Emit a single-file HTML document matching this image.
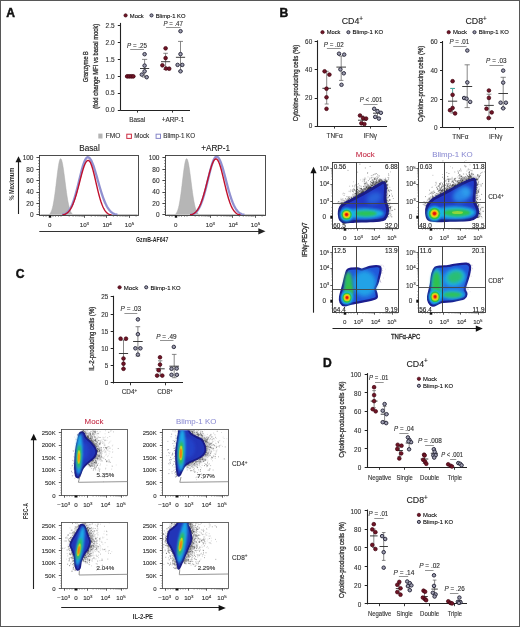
<!DOCTYPE html>
<html><head><meta charset="utf-8"><style>
html,body{margin:0;padding:0;background:#fff;}
svg{display:block;font-family:"Liberation Sans", sans-serif;will-change:transform;}
</style></head><body>
<svg width="520" height="627" viewBox="0 0 520 627">
<defs>
<filter id="b03" x="-20%" y="-20%" width="140%" height="140%"><feGaussianBlur stdDeviation="0.3"/></filter>
<filter id="b06" x="-20%" y="-20%" width="140%" height="140%"><feGaussianBlur stdDeviation="0.6"/></filter>
<filter id="b1" x="-30%" y="-30%" width="160%" height="160%"><feGaussianBlur stdDeviation="1"/></filter>
<filter id="b15" x="-30%" y="-30%" width="160%" height="160%"><feGaussianBlur stdDeviation="1.5"/></filter>
<filter id="b2" x="-40%" y="-40%" width="180%" height="180%"><feGaussianBlur stdDeviation="2"/></filter>
<filter id="b3" x="-50%" y="-50%" width="200%" height="200%"><feGaussianBlur stdDeviation="3"/></filter>
</defs>
<rect width="520" height="627" fill="#fff"/>
<rect x="0.5" y="0.5" width="519" height="626" fill="none" stroke="#575757" stroke-width="1"/><text x="6.3" y="16.6" font-size="12.1" fill="#111" font-weight="bold" stroke="#111" stroke-width="0.45">A</text><text x="279.6" y="16.5" font-size="12.1" fill="#111" font-weight="bold" stroke="#111" stroke-width="0.45">B</text><text x="15.8" y="278.4" font-size="12.1" fill="#111" font-weight="bold" stroke="#111" stroke-width="0.45">C</text><text x="323.0" y="366.8" font-size="12.1" fill="#111" font-weight="bold" stroke="#111" stroke-width="0.45">D</text><circle cx="125.6" cy="15.4" r="1.65" fill="#701526" stroke="#400612" stroke-width="0.7"/><text x="129.79999999999998" y="17.6" font-size="6.2" stroke="#262626" stroke-width="0.12" textLength="14" lengthAdjust="spacingAndGlyphs" >Mock</text><circle cx="151.5" cy="15.4" r="1.55" fill="#9e9eb0" stroke="#2e2e40" stroke-width="1.0"/><text x="155.7" y="17.6" font-size="6.2" stroke="#262626" stroke-width="0.12" textLength="29.8" lengthAdjust="spacingAndGlyphs" >Blimp-1 KO</text><line x1="120.5" y1="22.9" x2="120.5" y2="110.7" stroke="#222" stroke-width="1.1" /><line x1="117.80000000000001" y1="25.5" x2="120.4" y2="25.5" stroke="#222" stroke-width="1.0" /><text x="114.6" y="27.8" font-size="6.5" text-anchor="end" fill="#333" stroke="#333" stroke-width="0.12" >2.5</text><line x1="117.80000000000001" y1="42.5" x2="120.4" y2="42.5" stroke="#222" stroke-width="1.0" /><text x="114.6" y="44.699999999999996" font-size="6.5" text-anchor="end" fill="#333" stroke="#333" stroke-width="0.12" >2.0</text><line x1="117.80000000000001" y1="59.5" x2="120.4" y2="59.5" stroke="#222" stroke-width="1.0" /><text x="114.6" y="61.5" font-size="6.5" text-anchor="end" fill="#333" stroke="#333" stroke-width="0.12" >1.5</text><line x1="117.80000000000001" y1="76.5" x2="120.4" y2="76.5" stroke="#222" stroke-width="1.0" /><text x="114.6" y="78.6" font-size="6.5" text-anchor="end" fill="#333" stroke="#333" stroke-width="0.12" >1.0</text><line x1="117.80000000000001" y1="93.5" x2="120.4" y2="93.5" stroke="#222" stroke-width="1.0" /><text x="114.6" y="95.39999999999999" font-size="6.5" text-anchor="end" fill="#333" stroke="#333" stroke-width="0.12" >0.5</text><line x1="117.80000000000001" y1="110.5" x2="120.4" y2="110.5" stroke="#222" stroke-width="1.0" /><text x="114.6" y="112.39999999999999" font-size="6.5" text-anchor="end" fill="#333" stroke="#333" stroke-width="0.12" >0.0</text><line x1="120.4" y1="110.5" x2="190" y2="110.5" stroke="#222" stroke-width="1.1" /><line x1="137.5" y1="110.2" x2="137.5" y2="112.6" stroke="#222" stroke-width="0.9" /><line x1="172.5" y1="110.2" x2="172.5" y2="112.6" stroke="#222" stroke-width="0.9" /><text x="137.2" y="122" font-size="6.4" text-anchor="middle" fill="#333" stroke="#333" stroke-width="0.12" >Basal</text><text x="173" y="122" font-size="6.4" text-anchor="middle" fill="#333" stroke="#333" stroke-width="0.12" >+ARP-1</text><text transform="translate(88.4,66.7) rotate(-90)" font-size="7.0" text-anchor="middle" fill="#333" stroke="#333" stroke-width="0.3" textLength="31" lengthAdjust="spacingAndGlyphs" >Granzyme B</text><text transform="translate(98.1,66.3) rotate(-90)" font-size="7.0" text-anchor="middle" fill="#333" stroke="#333" stroke-width="0.3" textLength="85" lengthAdjust="spacingAndGlyphs" >(fold change MFI vs basal mock)</text><line x1="127" y1="76.5" x2="133.5" y2="76.5" stroke="#701526" stroke-width="3.4" stroke-linecap="round"/><circle cx="127.2" cy="76.3" r="1.85" fill="#701526" stroke="#400612" stroke-width="0.7"/><circle cx="129.3" cy="76.3" r="1.85" fill="#701526" stroke="#400612" stroke-width="0.7"/><circle cx="131.4" cy="76.3" r="1.85" fill="#701526" stroke="#400612" stroke-width="0.7"/><circle cx="133.3" cy="76.3" r="1.85" fill="#701526" stroke="#400612" stroke-width="0.7"/><path d="M144.6,59.4V77.0M142.0,59.4H147.2M142.0,77.0H147.2" stroke="#606060" stroke-width="0.75" fill="none"/><path d="M140.0,68.5H149.2" stroke="#333" stroke-width="0.95" fill="none"/><circle cx="144.6" cy="54.2" r="1.75" fill="#9e9eb0" stroke="#2e2e40" stroke-width="1.0"/><circle cx="144.6" cy="65.6" r="1.75" fill="#9e9eb0" stroke="#2e2e40" stroke-width="1.0"/><circle cx="144.6" cy="71.3" r="1.75" fill="#9e9eb0" stroke="#2e2e40" stroke-width="1.0"/><circle cx="141.8" cy="74.6" r="1.75" fill="#9e9eb0" stroke="#2e2e40" stroke-width="1.0"/><circle cx="146.7" cy="77.2" r="1.75" fill="#9e9eb0" stroke="#2e2e40" stroke-width="1.0"/><path d="M165.6,53.3V69.5M163.29999999999998,53.3H167.9M163.29999999999998,69.5H167.9" stroke="#606060" stroke-width="0.75" fill="none"/><path d="M161.0,61.7H170.2" stroke="#333" stroke-width="0.95" fill="none"/><circle cx="165.6" cy="48.3" r="1.85" fill="#701526" stroke="#400612" stroke-width="0.7"/><circle cx="165.6" cy="58.1" r="1.85" fill="#701526" stroke="#400612" stroke-width="0.7"/><circle cx="162.4" cy="65.3" r="1.85" fill="#701526" stroke="#400612" stroke-width="0.7"/><circle cx="166" cy="68.5" r="1.85" fill="#701526" stroke="#400612" stroke-width="0.7"/><circle cx="169.2" cy="68.7" r="1.85" fill="#701526" stroke="#400612" stroke-width="0.7"/><path d="M180.5,41.4V71.3M178.0,41.4H183.0M178.0,71.3H183.0" stroke="#606060" stroke-width="0.75" fill="none"/><path d="M175.9,57.3H185.1" stroke="#333" stroke-width="0.95" fill="none"/><circle cx="180.5" cy="31.2" r="1.75" fill="#9e9eb0" stroke="#2e2e40" stroke-width="1.0"/><circle cx="180.5" cy="54.1" r="1.75" fill="#9e9eb0" stroke="#2e2e40" stroke-width="1.0"/><circle cx="177.6" cy="64.9" r="1.75" fill="#9e9eb0" stroke="#2e2e40" stroke-width="1.0"/><circle cx="182.3" cy="64.9" r="1.75" fill="#9e9eb0" stroke="#2e2e40" stroke-width="1.0"/><circle cx="180.5" cy="71.3" r="1.75" fill="#9e9eb0" stroke="#2e2e40" stroke-width="1.0"/><text x="127" y="48.3" font-size="6.6" fill="#2e2e2e" stroke="#2e2e2e" stroke-width="0.12" textLength="19.9" lengthAdjust="spacingAndGlyphs"><tspan font-style="italic">P</tspan> = .25</text><line x1="130.2" y1="49.5" x2="144" y2="49.5" stroke="#777" stroke-width="0.8" /><text x="163.4" y="25.7" font-size="6.6" fill="#2e2e2e" stroke="#2e2e2e" stroke-width="0.12" textLength="19.5" lengthAdjust="spacingAndGlyphs"><tspan font-style="italic">P</tspan> = .47</text><line x1="166" y1="27.5" x2="180.5" y2="27.5" stroke="#777" stroke-width="0.8" /><text x="341.7" y="23.9" font-size="8.8" fill="#222" stroke="#222" stroke-width="0.12" >CD4<tspan font-size="6.34" dy="-3.17">+</tspan></text><text x="465.5" y="23.9" font-size="8.8" fill="#222" stroke="#222" stroke-width="0.12" >CD8<tspan font-size="6.34" dy="-3.17">+</tspan></text><circle cx="322.5" cy="32.2" r="1.65" fill="#701526" stroke="#400612" stroke-width="0.7"/><text x="326.7" y="34.400000000000006" font-size="6.2" stroke="#262626" stroke-width="0.12" textLength="13.8" lengthAdjust="spacingAndGlyphs" >Mock</text><circle cx="348.4" cy="32.2" r="1.55" fill="#9e9eb0" stroke="#2e2e40" stroke-width="1.0"/><text x="352.59999999999997" y="34.400000000000006" font-size="6.2" stroke="#262626" stroke-width="0.12" textLength="30.6" lengthAdjust="spacingAndGlyphs" >Blimp-1 KO</text><circle cx="448.7" cy="32.2" r="1.65" fill="#701526" stroke="#400612" stroke-width="0.7"/><text x="452.9" y="34.400000000000006" font-size="6.2" stroke="#262626" stroke-width="0.12" textLength="14.2" lengthAdjust="spacingAndGlyphs" >Mock</text><circle cx="474.5" cy="32.2" r="1.55" fill="#9e9eb0" stroke="#2e2e40" stroke-width="1.0"/><text x="478.7" y="34.400000000000006" font-size="6.2" stroke="#262626" stroke-width="0.12" textLength="30.1" lengthAdjust="spacingAndGlyphs" >Blimp-1 KO</text><line x1="317.5" y1="40.3" x2="317.5" y2="126.8" stroke="#222" stroke-width="1.1" /><line x1="314.7" y1="41.5" x2="317.3" y2="41.5" stroke="#222" stroke-width="1.0" /><text x="312.2" y="43.699999999999996" font-size="6.4" text-anchor="end" fill="#333" stroke="#333" stroke-width="0.12" >60</text><line x1="314.7" y1="69.5" x2="317.3" y2="69.5" stroke="#222" stroke-width="1.0" /><text x="312.2" y="71.89999999999999" font-size="6.4" text-anchor="end" fill="#333" stroke="#333" stroke-width="0.12" >40</text><line x1="314.7" y1="98.5" x2="317.3" y2="98.5" stroke="#222" stroke-width="1.0" /><text x="312.2" y="100.3" font-size="6.4" text-anchor="end" fill="#333" stroke="#333" stroke-width="0.12" >20</text><line x1="314.7" y1="126.5" x2="317.3" y2="126.5" stroke="#222" stroke-width="1.0" /><text x="312.2" y="128.3" font-size="6.4" text-anchor="end" fill="#333" stroke="#333" stroke-width="0.12" >0</text><line x1="317.3" y1="126.5" x2="387" y2="126.5" stroke="#222" stroke-width="1.1" /><line x1="334.5" y1="126.3" x2="334.5" y2="128.6" stroke="#222" stroke-width="0.9" /><line x1="370.5" y1="126.3" x2="370.5" y2="128.6" stroke="#222" stroke-width="0.9" /><text x="334.6" y="137.8" font-size="6.4" text-anchor="middle" fill="#333" stroke="#333" stroke-width="0.12" >TNF&#945;</text><text x="370.3" y="137.8" font-size="6.4" text-anchor="middle" fill="#333" stroke="#333" stroke-width="0.12" >IFN&#947;</text><text transform="translate(298.4,82.9) rotate(-90)" font-size="7.0" text-anchor="middle" fill="#333" stroke="#333" stroke-width="0.3" textLength="76.5" lengthAdjust="spacingAndGlyphs" >Cytokine-producing cells (%)</text><path d="M326.7,71.3V104M324.7,71.3H328.7M324.7,104H328.7" stroke="#606060" stroke-width="0.75" fill="none"/><path d="M322.4,88.3H331.0" stroke="#333" stroke-width="0.95" fill="none"/><circle cx="324.6" cy="71.3" r="1.85" fill="#701526" stroke="#400612" stroke-width="0.7"/><circle cx="329.4" cy="74.6" r="1.85" fill="#701526" stroke="#400612" stroke-width="0.7"/><circle cx="326.5" cy="88.7" r="1.85" fill="#701526" stroke="#400612" stroke-width="0.7"/><circle cx="326.5" cy="97.3" r="1.85" fill="#701526" stroke="#400612" stroke-width="0.7"/><circle cx="326.5" cy="108.8" r="1.85" fill="#701526" stroke="#400612" stroke-width="0.7"/><path d="M341.2,56V80.4M339.0,56H343.4M339.0,80.4H343.4" stroke="#606060" stroke-width="0.75" fill="none"/><path d="M336.4,67.1H346.0" stroke="#333" stroke-width="0.95" fill="none"/><circle cx="339" cy="53.7" r="1.75" fill="#9e9eb0" stroke="#2e2e40" stroke-width="1.0"/><circle cx="344.2" cy="54.6" r="1.75" fill="#9e9eb0" stroke="#2e2e40" stroke-width="1.0"/><circle cx="340.4" cy="69.4" r="1.75" fill="#9e9eb0" stroke="#2e2e40" stroke-width="1.0"/><circle cx="343.8" cy="73.3" r="1.75" fill="#9e9eb0" stroke="#2e2e40" stroke-width="1.0"/><circle cx="341.5" cy="84.8" r="1.75" fill="#9e9eb0" stroke="#2e2e40" stroke-width="1.0"/><path d="M362.5,116V124M361.0,116H364.0M361.0,124H364.0" stroke="#606060" stroke-width="0.75" fill="none"/><path d="M358.0,120.2H367.0" stroke="#333" stroke-width="0.95" fill="none"/><circle cx="360" cy="115.5" r="1.85" fill="#701526" stroke="#400612" stroke-width="0.7"/><circle cx="363.1" cy="118.2" r="1.85" fill="#701526" stroke="#400612" stroke-width="0.7"/><circle cx="366.1" cy="118.6" r="1.85" fill="#701526" stroke="#400612" stroke-width="0.7"/><circle cx="361.4" cy="123.3" r="1.85" fill="#701526" stroke="#400612" stroke-width="0.7"/><circle cx="364.4" cy="124" r="1.85" fill="#701526" stroke="#400612" stroke-width="0.7"/><path d="M377.5,109.5V117.5M376.0,109.5H379.0M376.0,117.5H379.0" stroke="#606060" stroke-width="0.75" fill="none"/><path d="M373.0,113.2H382.0" stroke="#333" stroke-width="0.95" fill="none"/><circle cx="374.2" cy="108.8" r="1.75" fill="#9e9eb0" stroke="#2e2e40" stroke-width="1.0"/><circle cx="377.5" cy="111.2" r="1.75" fill="#9e9eb0" stroke="#2e2e40" stroke-width="1.0"/><circle cx="380.9" cy="112.8" r="1.75" fill="#9e9eb0" stroke="#2e2e40" stroke-width="1.0"/><circle cx="375.2" cy="116.9" r="1.75" fill="#9e9eb0" stroke="#2e2e40" stroke-width="1.0"/><circle cx="378.9" cy="118.6" r="1.75" fill="#9e9eb0" stroke="#2e2e40" stroke-width="1.0"/><text x="323.8" y="46.7" font-size="6.6" fill="#2e2e2e" stroke="#2e2e2e" stroke-width="0.12" textLength="19.9" lengthAdjust="spacingAndGlyphs"><tspan font-style="italic">P</tspan> = .02</text><line x1="326.9" y1="48.5" x2="340.8" y2="48.5" stroke="#777" stroke-width="0.8" /><text x="359.7" y="101.7" font-size="6.6" fill="#2e2e2e" stroke="#2e2e2e" stroke-width="0.12" textLength="22.6" lengthAdjust="spacingAndGlyphs"><tspan font-style="italic">P</tspan> &lt; .001</text><line x1="363.4" y1="104.5" x2="377.5" y2="104.5" stroke="#777" stroke-width="0.8" /><line x1="442.5" y1="41.0" x2="442.5" y2="127.8" stroke="#222" stroke-width="1.1" /><line x1="440.0" y1="42.5" x2="442.6" y2="42.5" stroke="#222" stroke-width="1.0" /><text x="437.5" y="44.3" font-size="6.4" text-anchor="end" fill="#333" stroke="#333" stroke-width="0.12" >60</text><line x1="440.0" y1="70.5" x2="442.6" y2="70.5" stroke="#222" stroke-width="1.0" /><text x="437.5" y="72.89999999999999" font-size="6.4" text-anchor="end" fill="#333" stroke="#333" stroke-width="0.12" >40</text><line x1="440.0" y1="99.5" x2="442.6" y2="99.5" stroke="#222" stroke-width="1.0" /><text x="437.5" y="101.5" font-size="6.4" text-anchor="end" fill="#333" stroke="#333" stroke-width="0.12" >20</text><line x1="440.0" y1="127.5" x2="442.6" y2="127.5" stroke="#222" stroke-width="1.0" /><text x="437.5" y="129.5" font-size="6.4" text-anchor="end" fill="#333" stroke="#333" stroke-width="0.12" >0</text><line x1="442.6" y1="127.5" x2="514" y2="127.5" stroke="#222" stroke-width="1.1" /><line x1="459.5" y1="127.3" x2="459.5" y2="129.6" stroke="#222" stroke-width="0.9" /><line x1="495.5" y1="127.3" x2="495.5" y2="129.6" stroke="#222" stroke-width="0.9" /><text x="460.3" y="139.0" font-size="6.4" text-anchor="middle" fill="#333" stroke="#333" stroke-width="0.12" >TNF&#945;</text><text x="495.7" y="139.0" font-size="6.4" text-anchor="middle" fill="#333" stroke="#333" stroke-width="0.12" >IFN&#947;</text><text transform="translate(423.4,83.8) rotate(-90)" font-size="7.0" text-anchor="middle" fill="#333" stroke="#333" stroke-width="0.3" textLength="76.1" lengthAdjust="spacingAndGlyphs" >Cytokine-producing cells (%)</text><path d="M452.6,88.4V113M450.40000000000003,88.4H454.8M450.40000000000003,113H454.8" stroke="#606060" stroke-width="0.75" fill="none"/><path d="M448.0,101.2H457.20000000000005" stroke="#333" stroke-width="0.95" fill="none"/><line x1="450.4" y1="88.5" x2="454.8" y2="88.5" stroke="#3aa8a0" stroke-width="1.0" /><line x1="452.5" y1="88.4" x2="452.5" y2="93" stroke="#5ab0a8" stroke-width="0.8" /><circle cx="452.6" cy="81.2" r="1.85" fill="#701526" stroke="#400612" stroke-width="0.7"/><circle cx="452.6" cy="94.8" r="1.85" fill="#701526" stroke="#400612" stroke-width="0.7"/><circle cx="452.6" cy="108" r="1.85" fill="#701526" stroke="#400612" stroke-width="0.7"/><circle cx="450" cy="110.2" r="1.85" fill="#701526" stroke="#400612" stroke-width="0.7"/><circle cx="455.1" cy="113.4" r="1.85" fill="#701526" stroke="#400612" stroke-width="0.7"/><path d="M467.2,64.8V107.6M464.59999999999997,64.8H469.8M464.59999999999997,107.6H469.8" stroke="#606060" stroke-width="0.75" fill="none"/><path d="M462.2,86.5H472.2" stroke="#333" stroke-width="0.95" fill="none"/><circle cx="467.3" cy="50.5" r="1.75" fill="#9e9eb0" stroke="#2e2e40" stroke-width="1.0"/><circle cx="467.3" cy="82.4" r="1.75" fill="#9e9eb0" stroke="#2e2e40" stroke-width="1.0"/><circle cx="464.1" cy="98" r="1.75" fill="#9e9eb0" stroke="#2e2e40" stroke-width="1.0"/><circle cx="466.6" cy="98.7" r="1.75" fill="#9e9eb0" stroke="#2e2e40" stroke-width="1.0"/><circle cx="470.2" cy="101.9" r="1.75" fill="#9e9eb0" stroke="#2e2e40" stroke-width="1.0"/><path d="M489.0,94.2V118M486.6,94.2H491.4M486.6,118H491.4" stroke="#606060" stroke-width="0.75" fill="none"/><path d="M484.2,105.4H493.8" stroke="#333" stroke-width="0.95" fill="none"/><circle cx="488.9" cy="90.5" r="1.85" fill="#701526" stroke="#400612" stroke-width="0.7"/><circle cx="488.9" cy="97.9" r="1.85" fill="#701526" stroke="#400612" stroke-width="0.7"/><circle cx="486.5" cy="108.7" r="1.85" fill="#701526" stroke="#400612" stroke-width="0.7"/><circle cx="491.7" cy="112.4" r="1.85" fill="#701526" stroke="#400612" stroke-width="0.7"/><circle cx="488.7" cy="118" r="1.85" fill="#701526" stroke="#400612" stroke-width="0.7"/><path d="M503.2,77.3V108.3M500.59999999999997,77.3H505.8M500.59999999999997,108.3H505.8" stroke="#606060" stroke-width="0.75" fill="none"/><path d="M498.4,93.5H508.0" stroke="#333" stroke-width="0.95" fill="none"/><circle cx="503.2" cy="70.6" r="1.75" fill="#9e9eb0" stroke="#2e2e40" stroke-width="1.0"/><circle cx="503.2" cy="82.6" r="1.75" fill="#9e9eb0" stroke="#2e2e40" stroke-width="1.0"/><circle cx="500.6" cy="102.7" r="1.75" fill="#9e9eb0" stroke="#2e2e40" stroke-width="1.0"/><circle cx="505.9" cy="102.7" r="1.75" fill="#9e9eb0" stroke="#2e2e40" stroke-width="1.0"/><circle cx="503.2" cy="108.3" r="1.75" fill="#9e9eb0" stroke="#2e2e40" stroke-width="1.0"/><text x="449.4" y="43.7" font-size="6.6" fill="#2e2e2e" stroke="#2e2e2e" stroke-width="0.12" textLength="19.8" lengthAdjust="spacingAndGlyphs"><tspan font-style="italic">P</tspan> = .01</text><line x1="453.2" y1="46.5" x2="466.6" y2="46.5" stroke="#777" stroke-width="0.8" /><text x="486.1" y="63.4" font-size="6.6" fill="#2e2e2e" stroke="#2e2e2e" stroke-width="0.12" textLength="20.4" lengthAdjust="spacingAndGlyphs"><tspan font-style="italic">P</tspan> = .03</text><line x1="489.5" y1="65.5" x2="503.4" y2="65.5" stroke="#777" stroke-width="0.8" /><path d="M40.50,214.60 L41.00,214.60 L41.50,214.60 L42.00,214.60 L42.50,214.60 L43.00,214.60 L43.50,214.60 L44.00,214.60 L44.50,214.60 L45.00,214.60 L45.50,214.60 L46.00,214.60 L46.50,214.60 L47.00,214.60 L47.50,214.60 L48.00,214.60 L48.50,214.60 L49.00,214.60 L49.50,214.28 L50.00,213.72 L50.50,213.00 L51.00,212.06 L51.50,210.88 L52.00,209.42 L52.50,207.63 L53.00,205.50 L53.50,203.00 L54.00,200.12 L54.50,196.87 L55.00,193.28 L55.50,189.40 L56.00,185.32 L56.50,181.12 L57.00,176.91 L57.50,172.85 L58.00,169.05 L58.50,165.67 L59.00,162.84 L59.50,160.67 L60.00,159.26 L60.50,158.67 L61.00,158.89 L61.50,159.83 L62.00,161.47 L62.50,163.73 L63.00,166.54 L63.50,169.80 L64.00,173.39 L64.50,177.20 L65.00,181.12 L65.50,185.03 L66.00,188.86 L66.50,192.51 L67.00,195.92 L67.50,199.05 L68.00,201.86 L68.50,204.35 L69.00,206.51 L69.50,208.36 L70.00,209.91 L70.50,211.20 L71.00,212.25 L71.50,213.09 L72.00,213.75 L72.50,214.27 L73.00,214.60 L73.50,214.60 L74.00,214.60 L74.50,214.60 L75.00,214.60 L75.50,214.60 L76.00,214.60 L76.50,214.60 L77.00,214.60 L77.50,214.60 L78.00,214.60 L78.50,214.60 L79.00,214.60 L79.50,214.60 L80.00,214.60 L80.50,214.60 L81.00,214.60 L81.50,214.60 L82.00,214.60 L82.50,214.60 L83.00,214.60 L83.50,214.60 L84.00,214.60 L84.50,214.60 L85.00,214.60 L85.50,214.60 L86.00,214.60 L86.50,214.60 L87.00,214.60 L87.50,214.60 L88.00,214.60 L88.50,214.60 L89.00,214.60 L89.50,214.60 L90.00,214.60 L90.50,214.60 L91.00,214.60 L91.50,214.60 L92.00,214.60 L92.50,214.60 L93.00,214.60 L93.50,214.60 L94.00,214.60 L94.50,214.60 L95.00,214.60 L95.50,214.60 L96.00,214.60 L96.50,214.60 L97.00,214.60 L97.50,214.60 L98.00,214.60 L98.50,214.60 L99.00,214.60 L99.50,214.60 L100.00,214.60 L100.50,214.60 L101.00,214.60 L101.50,214.60 L102.00,214.60 L102.50,214.60 L103.00,214.60 L103.50,214.60 L104.00,214.60 L104.50,214.60 L105.00,214.60 L105.50,214.60 L106.00,214.60 L106.50,214.60 L107.00,214.60 L107.50,214.60 L108.00,214.60 L108.50,214.60 L109.00,214.60 L109.50,214.60 L110.00,214.60 L110.50,214.60 L111.00,214.60 L111.50,214.60 L112.00,214.60 L112.50,214.60 L113.00,214.60 L113.50,214.60 L114.00,214.60 L114.50,214.60 L115.00,214.60 L115.50,214.60 L116.00,214.60 L116.50,214.60 L117.00,214.60 L117.50,214.60 L118.00,214.60 L118.50,214.60 L119.00,214.60 L119.50,214.60 L120.00,214.60 L120.50,214.60 L121.00,214.60 L121.50,214.60 L122.00,214.60 L122.50,214.60 L123.00,214.60 L123.50,214.60 L124.00,214.60 L124.50,214.60 L125.00,214.60 L125.50,214.60 L126.00,214.60 L126.50,214.60 L127.00,214.60 L127.50,214.60 L128.00,214.60 L128.50,214.60 L129.00,214.60 L129.50,214.60 L130.00,214.60 L130.50,214.60 L131.00,214.60 L131.50,214.60 L132.00,214.60 L132.50,214.60 L133.00,214.60 L133.50,214.60 L134.00,214.60 L134.50,214.60 L135.00,214.60 L135.50,214.60 L136.00,214.60 L136.50,214.60 L137.00,214.60 L137.50,214.60 L137.50,214.6 L40.50,214.6 Z" fill="#b6b6b6" stroke="#a8a8a8" stroke-width="0.5"/><path d="M62.00,214.60 L64.00,214.50 L64.50,214.28 L65.00,214.03 L65.50,213.74 L66.00,213.41 L66.50,213.05 L67.00,212.63 L67.50,212.16 L68.00,211.64 L68.50,211.05 L69.00,210.40 L69.50,209.69 L70.00,208.90 L70.50,208.03 L71.00,207.09 L71.50,206.06 L72.00,204.94 L72.50,203.74 L73.00,202.46 L73.50,201.08 L74.00,199.62 L74.50,198.07 L75.00,196.43 L75.50,194.72 L76.00,192.93 L76.50,191.08 L77.00,189.16 L77.50,187.20 L78.00,185.19 L78.50,183.15 L79.00,181.09 L79.50,179.03 L80.00,176.97 L80.50,174.94 L81.00,172.95 L81.50,171.01 L82.00,169.14 L82.50,167.36 L83.00,165.68 L83.50,164.11 L84.00,162.68 L84.50,161.39 L85.00,160.25 L85.50,159.29 L86.00,158.50 L86.50,157.90 L87.00,157.48 L87.50,157.27 L88.00,157.24 L88.50,157.38 L89.00,157.65 L89.50,158.07 L90.00,158.63 L90.50,159.33 L91.00,160.15 L91.50,161.10 L92.00,162.17 L92.50,163.35 L93.00,164.63 L93.50,166.01 L94.00,167.47 L94.50,169.00 L95.00,170.60 L95.50,172.25 L96.00,173.95 L96.50,175.68 L97.00,177.43 L97.50,179.20 L98.00,180.98 L98.50,182.75 L99.00,184.51 L99.50,186.25 L100.00,187.96 L100.50,189.64 L101.00,191.28 L101.50,192.87 L102.00,194.41 L102.50,195.90 L103.00,197.33 L103.50,198.70 L104.00,200.01 L104.50,201.25 L105.00,202.43 L105.50,203.55 L106.00,204.60 L106.50,205.58 L107.00,206.50 L107.50,207.36 L108.00,208.16 L108.50,208.90 L109.00,209.58 L109.50,210.21 L110.00,210.79 L110.50,211.32 L111.00,211.80 L111.50,212.24 L112.00,212.64 L112.50,213.00 L113.00,213.32 L113.50,213.62 L114.00,213.88 L114.50,214.11 L115.00,214.32 L115.50,214.51 L117.50,214.60" fill="none" stroke="#9090d0" stroke-width="2.3" stroke-linejoin="round"/><path d="M62.50,214.60 L64.50,214.47 L65.00,214.25 L65.50,214.01 L66.00,213.73 L66.50,213.41 L67.00,213.06 L67.50,212.65 L68.00,212.20 L68.50,211.69 L69.00,211.13 L69.50,210.50 L70.00,209.81 L70.50,209.05 L71.00,208.22 L71.50,207.31 L72.00,206.32 L72.50,205.25 L73.00,204.10 L73.50,202.86 L74.00,201.55 L74.50,200.14 L75.00,198.66 L75.50,197.10 L76.00,195.47 L76.50,193.77 L77.00,192.00 L77.50,190.18 L78.00,188.31 L78.50,186.41 L79.00,184.47 L79.50,182.53 L80.00,180.57 L80.50,178.63 L81.00,176.72 L81.50,174.84 L82.00,173.02 L82.50,171.27 L83.00,169.60 L83.50,168.03 L84.00,166.58 L84.50,165.25 L85.00,164.06 L85.50,163.02 L86.00,162.14 L86.50,161.43 L87.00,160.89 L87.50,160.54 L88.00,160.37 L88.50,160.40 L89.00,160.65 L89.50,161.14 L90.00,161.85 L90.50,162.77 L91.00,163.90 L91.50,165.21 L92.00,166.70 L92.50,168.35 L93.00,170.13 L93.50,172.03 L94.00,174.03 L94.50,176.10 L95.00,178.23 L95.50,180.39 L96.00,182.57 L96.50,184.75 L97.00,186.90 L97.50,189.02 L98.00,191.08 L98.50,193.08 L99.00,195.01 L99.50,196.85 L100.00,198.60 L100.50,200.25 L101.00,201.81 L101.50,203.25 L102.00,204.60 L102.50,205.84 L103.00,206.98 L103.50,208.02 L104.00,208.96 L104.50,209.82 L105.00,210.59 L105.50,211.27 L106.00,211.88 L106.50,212.42 L107.00,212.90 L107.50,213.31 L108.00,213.68 L108.50,213.99 L109.00,214.27 L109.50,214.50 L111.50,214.60" fill="none" stroke="#c0102c" stroke-width="1.4" stroke-linejoin="round"/><rect x="39.5" y="155.5" width="99" height="60" fill="none" stroke="#3a3a3a" stroke-width="0.9"/><line x1="36.4" y1="214.5" x2="39.5" y2="214.5" stroke="#333" stroke-width="0.9" /><text x="33.5" y="217.20000000000002" font-size="6.5" text-anchor="end" fill="#333" stroke="#333" stroke-width="0.12" >0</text><line x1="38.0" y1="212.04500000000002" x2="39.5" y2="212.04500000000002" stroke="#555" stroke-width="0.6" /><line x1="38.0" y1="209.19" x2="39.5" y2="209.19" stroke="#555" stroke-width="0.6" /><line x1="38.0" y1="206.335" x2="39.5" y2="206.335" stroke="#555" stroke-width="0.6" /><line x1="36.4" y1="203.5" x2="39.5" y2="203.5" stroke="#333" stroke-width="0.9" /><text x="33.5" y="205.78000000000003" font-size="6.5" text-anchor="end" fill="#333" stroke="#333" stroke-width="0.12" >20</text><line x1="38.0" y1="200.62500000000003" x2="39.5" y2="200.62500000000003" stroke="#555" stroke-width="0.6" /><line x1="38.0" y1="197.77" x2="39.5" y2="197.77" stroke="#555" stroke-width="0.6" /><line x1="38.0" y1="194.91500000000002" x2="39.5" y2="194.91500000000002" stroke="#555" stroke-width="0.6" /><line x1="36.4" y1="192.5" x2="39.5" y2="192.5" stroke="#333" stroke-width="0.9" /><text x="33.5" y="194.36" font-size="6.5" text-anchor="end" fill="#333" stroke="#333" stroke-width="0.12" >40</text><line x1="38.0" y1="189.205" x2="39.5" y2="189.205" stroke="#555" stroke-width="0.6" /><line x1="38.0" y1="186.35" x2="39.5" y2="186.35" stroke="#555" stroke-width="0.6" /><line x1="38.0" y1="183.495" x2="39.5" y2="183.495" stroke="#555" stroke-width="0.6" /><line x1="36.4" y1="180.5" x2="39.5" y2="180.5" stroke="#333" stroke-width="0.9" /><text x="33.5" y="182.94000000000003" font-size="6.5" text-anchor="end" fill="#333" stroke="#333" stroke-width="0.12" >60</text><line x1="38.0" y1="177.78500000000003" x2="39.5" y2="177.78500000000003" stroke="#555" stroke-width="0.6" /><line x1="38.0" y1="174.93" x2="39.5" y2="174.93" stroke="#555" stroke-width="0.6" /><line x1="38.0" y1="172.07500000000002" x2="39.5" y2="172.07500000000002" stroke="#555" stroke-width="0.6" /><line x1="36.4" y1="169.5" x2="39.5" y2="169.5" stroke="#333" stroke-width="0.9" /><text x="33.5" y="171.52" font-size="6.5" text-anchor="end" fill="#333" stroke="#333" stroke-width="0.12" >80</text><line x1="38.0" y1="166.365" x2="39.5" y2="166.365" stroke="#555" stroke-width="0.6" /><line x1="38.0" y1="163.51" x2="39.5" y2="163.51" stroke="#555" stroke-width="0.6" /><line x1="38.0" y1="160.655" x2="39.5" y2="160.655" stroke="#555" stroke-width="0.6" /><line x1="36.4" y1="157.5" x2="39.5" y2="157.5" stroke="#333" stroke-width="0.9" /><text x="33.5" y="160.10000000000002" font-size="6.5" text-anchor="end" fill="#333" stroke="#333" stroke-width="0.12" >100</text><rect x="48.8" y="215.5" width="2.4" height="2.2" fill="#111"/><line x1="43.5" y1="215.5" x2="43.5" y2="216.9" stroke="#555" stroke-width="0.6" /><line x1="46.0" y1="215.5" x2="46.0" y2="216.9" stroke="#555" stroke-width="0.6" /><line x1="53.0" y1="215.5" x2="53.0" y2="216.9" stroke="#555" stroke-width="0.6" /><line x1="55.5" y1="215.5" x2="55.5" y2="216.9" stroke="#555" stroke-width="0.6" /><line x1="58.5" y1="215.5" x2="58.5" y2="216.9" stroke="#555" stroke-width="0.6" /><line x1="61.0" y1="215.5" x2="61.0" y2="216.9" stroke="#555" stroke-width="0.6" /><line x1="84.5" y1="215.5" x2="84.5" y2="217.9" stroke="#333" stroke-width="0.8" /><line x1="91.28286590374037" y1="215.5" x2="91.28286590374037" y2="216.8" stroke="#555" stroke-width="0.6" /><line x1="95.19209185477649" y1="215.5" x2="95.19209185477649" y2="216.8" stroke="#555" stroke-width="0.6" /><line x1="97.96573180748076" y1="215.5" x2="97.96573180748076" y2="216.8" stroke="#555" stroke-width="0.6" /><line x1="100.1171340962596" y1="215.5" x2="100.1171340962596" y2="216.8" stroke="#555" stroke-width="0.6" /><line x1="101.87495775851689" y1="215.5" x2="101.87495775851689" y2="216.8" stroke="#555" stroke-width="0.6" /><line x1="103.36117648831649" y1="215.5" x2="103.36117648831649" y2="216.8" stroke="#555" stroke-width="0.6" /><line x1="104.64859771122114" y1="215.5" x2="104.64859771122114" y2="216.8" stroke="#555" stroke-width="0.6" /><line x1="105.784183709553" y1="215.5" x2="105.784183709553" y2="216.8" stroke="#555" stroke-width="0.6" /><line x1="106.5" y1="215.5" x2="106.5" y2="217.9" stroke="#333" stroke-width="0.8" /><line x1="113.38286590374038" y1="215.5" x2="113.38286590374038" y2="216.8" stroke="#555" stroke-width="0.6" /><line x1="117.29209185477652" y1="215.5" x2="117.29209185477652" y2="216.8" stroke="#555" stroke-width="0.6" /><line x1="120.06573180748077" y1="215.5" x2="120.06573180748077" y2="216.8" stroke="#555" stroke-width="0.6" /><line x1="122.21713409625963" y1="215.5" x2="122.21713409625963" y2="216.8" stroke="#555" stroke-width="0.6" /><line x1="123.9749577585169" y1="215.5" x2="123.9749577585169" y2="216.8" stroke="#555" stroke-width="0.6" /><line x1="125.46117648831651" y1="215.5" x2="125.46117648831651" y2="216.8" stroke="#555" stroke-width="0.6" /><line x1="126.74859771122115" y1="215.5" x2="126.74859771122115" y2="216.8" stroke="#555" stroke-width="0.6" /><line x1="127.88418370955301" y1="215.5" x2="127.88418370955301" y2="216.8" stroke="#555" stroke-width="0.6" /><line x1="129.5" y1="215.5" x2="129.5" y2="217.9" stroke="#333" stroke-width="0.8" /><line x1="136.08286590374038" y1="215.5" x2="136.08286590374038" y2="216.8" stroke="#555" stroke-width="0.6" /><line x1="69.18286590374038" y1="215.5" x2="69.18286590374038" y2="216.8" stroke="#555" stroke-width="0.6" /><line x1="73.0920918547765" y1="215.5" x2="73.0920918547765" y2="216.8" stroke="#555" stroke-width="0.6" /><line x1="75.86573180748077" y1="215.5" x2="75.86573180748077" y2="216.8" stroke="#555" stroke-width="0.6" /><line x1="78.01713409625961" y1="215.5" x2="78.01713409625961" y2="216.8" stroke="#555" stroke-width="0.6" /><line x1="79.77495775851689" y1="215.5" x2="79.77495775851689" y2="216.8" stroke="#555" stroke-width="0.6" /><line x1="81.2611764883165" y1="215.5" x2="81.2611764883165" y2="216.8" stroke="#555" stroke-width="0.6" /><line x1="82.54859771122115" y1="215.5" x2="82.54859771122115" y2="216.8" stroke="#555" stroke-width="0.6" /><line x1="83.68418370955301" y1="215.5" x2="83.68418370955301" y2="216.8" stroke="#555" stroke-width="0.6" /><text x="49.8" y="227.3" font-size="6.2" text-anchor="middle" fill="#333" stroke="#333" stroke-width="0.12" >0</text><text x="84.4" y="227.3" font-size="6.2" text-anchor="middle" fill="#333" stroke="#333" stroke-width="0.12" >10<tspan font-size="4.4" dy="-2.5">3</tspan></text><text x="107.1" y="227.3" font-size="6.2" text-anchor="middle" fill="#333" stroke="#333" stroke-width="0.12" >10<tspan font-size="4.4" dy="-2.5">4</tspan></text><text x="129.5" y="227.3" font-size="6.2" text-anchor="middle" fill="#333" stroke="#333" stroke-width="0.12" >10<tspan font-size="4.4" dy="-2.5">5</tspan></text><path d="M166.50,214.60 L167.00,214.60 L167.50,214.60 L168.00,214.60 L168.50,214.60 L169.00,214.60 L169.50,214.60 L170.00,214.60 L170.50,214.60 L171.00,214.60 L171.50,214.60 L172.00,214.60 L172.50,214.60 L173.00,214.60 L173.50,214.60 L174.00,214.60 L174.50,214.60 L175.00,214.60 L175.50,214.28 L176.00,213.72 L176.50,213.00 L177.00,212.06 L177.50,210.88 L178.00,209.42 L178.50,207.63 L179.00,205.50 L179.50,203.00 L180.00,200.12 L180.50,196.87 L181.00,193.28 L181.50,189.40 L182.00,185.32 L182.50,181.12 L183.00,176.91 L183.50,172.85 L184.00,169.05 L184.50,165.67 L185.00,162.84 L185.50,160.67 L186.00,159.26 L186.50,158.67 L187.00,158.89 L187.50,159.83 L188.00,161.47 L188.50,163.73 L189.00,166.54 L189.50,169.80 L190.00,173.39 L190.50,177.20 L191.00,181.12 L191.50,185.03 L192.00,188.86 L192.50,192.51 L193.00,195.92 L193.50,199.05 L194.00,201.86 L194.50,204.35 L195.00,206.51 L195.50,208.36 L196.00,209.91 L196.50,211.20 L197.00,212.25 L197.50,213.09 L198.00,213.75 L198.50,214.27 L199.00,214.60 L199.50,214.60 L200.00,214.60 L200.50,214.60 L201.00,214.60 L201.50,214.60 L202.00,214.60 L202.50,214.60 L203.00,214.60 L203.50,214.60 L204.00,214.60 L204.50,214.60 L205.00,214.60 L205.50,214.60 L206.00,214.60 L206.50,214.60 L207.00,214.60 L207.50,214.60 L208.00,214.60 L208.50,214.60 L209.00,214.60 L209.50,214.60 L210.00,214.60 L210.50,214.60 L211.00,214.60 L211.50,214.60 L212.00,214.60 L212.50,214.60 L213.00,214.60 L213.50,214.60 L214.00,214.60 L214.50,214.60 L215.00,214.60 L215.50,214.60 L216.00,214.60 L216.50,214.60 L217.00,214.60 L217.50,214.60 L218.00,214.60 L218.50,214.60 L219.00,214.60 L219.50,214.60 L220.00,214.60 L220.50,214.60 L221.00,214.60 L221.50,214.60 L222.00,214.60 L222.50,214.60 L223.00,214.60 L223.50,214.60 L224.00,214.60 L224.50,214.60 L225.00,214.60 L225.50,214.60 L226.00,214.60 L226.50,214.60 L227.00,214.60 L227.50,214.60 L228.00,214.60 L228.50,214.60 L229.00,214.60 L229.50,214.60 L230.00,214.60 L230.50,214.60 L231.00,214.60 L231.50,214.60 L232.00,214.60 L232.50,214.60 L233.00,214.60 L233.50,214.60 L234.00,214.60 L234.50,214.60 L235.00,214.60 L235.50,214.60 L236.00,214.60 L236.50,214.60 L237.00,214.60 L237.50,214.60 L238.00,214.60 L238.50,214.60 L239.00,214.60 L239.50,214.60 L240.00,214.60 L240.50,214.60 L241.00,214.60 L241.50,214.60 L242.00,214.60 L242.50,214.60 L243.00,214.60 L243.50,214.60 L244.00,214.60 L244.50,214.60 L245.00,214.60 L245.50,214.60 L246.00,214.60 L246.50,214.60 L247.00,214.60 L247.50,214.60 L248.00,214.60 L248.50,214.60 L249.00,214.60 L249.50,214.60 L250.00,214.60 L250.50,214.60 L251.00,214.60 L251.50,214.60 L252.00,214.60 L252.50,214.60 L253.00,214.60 L253.50,214.60 L254.00,214.60 L254.50,214.60 L255.00,214.60 L255.50,214.60 L256.00,214.60 L256.50,214.60 L257.00,214.60 L257.50,214.60 L258.00,214.60 L258.50,214.60 L259.00,214.60 L259.50,214.60 L260.00,214.60 L260.50,214.60 L261.00,214.60 L261.50,214.60 L262.00,214.60 L262.50,214.60 L263.00,214.60 L263.50,214.60 L264.00,214.60 L264.50,214.60 L264.50,214.6 L166.50,214.6 Z" fill="#b6b6b6" stroke="#a8a8a8" stroke-width="0.5"/><path d="M190.50,214.60 L192.50,214.51 L193.00,214.29 L193.50,214.04 L194.00,213.76 L194.50,213.44 L195.00,213.07 L195.50,212.66 L196.00,212.20 L196.50,211.68 L197.00,211.11 L197.50,210.47 L198.00,209.77 L198.50,208.99 L199.00,208.14 L199.50,207.22 L200.00,206.21 L200.50,205.11 L201.00,203.94 L201.50,202.67 L202.00,201.32 L202.50,199.88 L203.00,198.36 L203.50,196.75 L204.00,195.07 L204.50,193.31 L205.00,191.48 L205.50,189.59 L206.00,187.64 L206.50,185.65 L207.00,183.62 L207.50,181.57 L208.00,179.51 L208.50,177.46 L209.00,175.42 L209.50,173.41 L210.00,171.45 L210.50,169.55 L211.00,167.73 L211.50,166.00 L212.00,164.38 L212.50,162.88 L213.00,161.51 L213.50,160.30 L214.00,159.25 L214.50,158.36 L215.00,157.66 L215.50,157.13 L216.00,156.80 L216.50,156.67 L217.00,156.72 L217.50,156.94 L218.00,157.33 L218.50,157.88 L219.00,158.60 L219.50,159.47 L220.00,160.49 L220.50,161.64 L221.00,162.92 L221.50,164.33 L222.00,165.84 L222.50,167.44 L223.00,169.13 L223.50,170.89 L224.00,172.71 L224.50,174.57 L225.00,176.47 L225.50,178.38 L226.00,180.31 L226.50,182.24 L227.00,184.15 L227.50,186.04 L228.00,187.89 L228.50,189.71 L229.00,191.48 L229.50,193.19 L230.00,194.85 L230.50,196.43 L231.00,197.95 L231.50,199.40 L232.00,200.78 L232.50,202.07 L233.00,203.30 L233.50,204.44 L234.00,205.51 L234.50,206.51 L235.00,207.43 L235.50,208.29 L236.00,209.07 L236.50,209.79 L237.00,210.45 L237.50,211.05 L238.00,211.60 L238.50,212.09 L239.00,212.53 L239.50,212.93 L240.00,213.29 L240.50,213.61 L241.00,213.89 L241.50,214.14 L242.00,214.36 L242.50,214.56 L244.50,214.60" fill="none" stroke="#9090d0" stroke-width="2.3" stroke-linejoin="round"/><path d="M190.00,214.60 L192.00,214.47 L192.50,214.26 L193.00,214.01 L193.50,213.73 L194.00,213.41 L194.50,213.06 L195.00,212.65 L195.50,212.20 L196.00,211.69 L196.50,211.13 L197.00,210.50 L197.50,209.81 L198.00,209.06 L198.50,208.22 L199.00,207.32 L199.50,206.33 L200.00,205.27 L200.50,204.12 L201.00,202.89 L201.50,201.57 L202.00,200.17 L202.50,198.70 L203.00,197.14 L203.50,195.50 L204.00,193.80 L204.50,192.03 L205.00,190.20 L205.50,188.32 L206.00,186.40 L206.50,184.44 L207.00,182.47 L207.50,180.49 L208.00,178.52 L208.50,176.56 L209.00,174.64 L209.50,172.77 L210.00,170.96 L210.50,169.22 L211.00,167.58 L211.50,166.05 L212.00,164.63 L212.50,163.35 L213.00,162.21 L213.50,161.23 L214.00,160.42 L214.50,159.77 L215.00,159.31 L215.50,159.03 L216.00,158.94 L216.50,159.04 L217.00,159.37 L217.50,159.90 L218.00,160.64 L218.50,161.58 L219.00,162.70 L219.50,164.00 L220.00,165.46 L220.50,167.06 L221.00,168.79 L221.50,170.63 L222.00,172.56 L222.50,174.57 L223.00,176.64 L223.50,178.74 L224.00,180.86 L224.50,182.98 L225.00,185.10 L225.50,187.18 L226.00,189.23 L226.50,191.22 L227.00,193.15 L227.50,195.00 L228.00,196.78 L228.50,198.47 L229.00,200.07 L229.50,201.57 L230.00,202.98 L230.50,204.29 L231.00,205.51 L231.50,206.63 L232.00,207.66 L232.50,208.60 L233.00,209.46 L233.50,210.23 L234.00,210.93 L234.50,211.55 L235.00,212.11 L235.50,212.60 L236.00,213.04 L236.50,213.43 L237.00,213.76 L237.50,214.06 L238.00,214.32 L238.50,214.54 L240.50,214.60" fill="none" stroke="#c0102c" stroke-width="1.4" stroke-linejoin="round"/><rect x="165.5" y="155.5" width="100" height="60" fill="none" stroke="#3a3a3a" stroke-width="0.9"/><line x1="162.4" y1="214.5" x2="165.5" y2="214.5" stroke="#333" stroke-width="0.9" /><text x="159.5" y="217.20000000000002" font-size="6.5" text-anchor="end" fill="#333" stroke="#333" stroke-width="0.12" >0</text><line x1="164.0" y1="212.04500000000002" x2="165.5" y2="212.04500000000002" stroke="#555" stroke-width="0.6" /><line x1="164.0" y1="209.19" x2="165.5" y2="209.19" stroke="#555" stroke-width="0.6" /><line x1="164.0" y1="206.335" x2="165.5" y2="206.335" stroke="#555" stroke-width="0.6" /><line x1="162.4" y1="203.5" x2="165.5" y2="203.5" stroke="#333" stroke-width="0.9" /><text x="159.5" y="205.78000000000003" font-size="6.5" text-anchor="end" fill="#333" stroke="#333" stroke-width="0.12" >20</text><line x1="164.0" y1="200.62500000000003" x2="165.5" y2="200.62500000000003" stroke="#555" stroke-width="0.6" /><line x1="164.0" y1="197.77" x2="165.5" y2="197.77" stroke="#555" stroke-width="0.6" /><line x1="164.0" y1="194.91500000000002" x2="165.5" y2="194.91500000000002" stroke="#555" stroke-width="0.6" /><line x1="162.4" y1="192.5" x2="165.5" y2="192.5" stroke="#333" stroke-width="0.9" /><text x="159.5" y="194.36" font-size="6.5" text-anchor="end" fill="#333" stroke="#333" stroke-width="0.12" >40</text><line x1="164.0" y1="189.205" x2="165.5" y2="189.205" stroke="#555" stroke-width="0.6" /><line x1="164.0" y1="186.35" x2="165.5" y2="186.35" stroke="#555" stroke-width="0.6" /><line x1="164.0" y1="183.495" x2="165.5" y2="183.495" stroke="#555" stroke-width="0.6" /><line x1="162.4" y1="180.5" x2="165.5" y2="180.5" stroke="#333" stroke-width="0.9" /><text x="159.5" y="182.94000000000003" font-size="6.5" text-anchor="end" fill="#333" stroke="#333" stroke-width="0.12" >60</text><line x1="164.0" y1="177.78500000000003" x2="165.5" y2="177.78500000000003" stroke="#555" stroke-width="0.6" /><line x1="164.0" y1="174.93" x2="165.5" y2="174.93" stroke="#555" stroke-width="0.6" /><line x1="164.0" y1="172.07500000000002" x2="165.5" y2="172.07500000000002" stroke="#555" stroke-width="0.6" /><line x1="162.4" y1="169.5" x2="165.5" y2="169.5" stroke="#333" stroke-width="0.9" /><text x="159.5" y="171.52" font-size="6.5" text-anchor="end" fill="#333" stroke="#333" stroke-width="0.12" >80</text><line x1="164.0" y1="166.365" x2="165.5" y2="166.365" stroke="#555" stroke-width="0.6" /><line x1="164.0" y1="163.51" x2="165.5" y2="163.51" stroke="#555" stroke-width="0.6" /><line x1="164.0" y1="160.655" x2="165.5" y2="160.655" stroke="#555" stroke-width="0.6" /><line x1="162.4" y1="157.5" x2="165.5" y2="157.5" stroke="#333" stroke-width="0.9" /><text x="159.5" y="160.10000000000002" font-size="6.5" text-anchor="end" fill="#333" stroke="#333" stroke-width="0.12" >100</text><rect x="174.8" y="215.5" width="2.4" height="2.2" fill="#111"/><line x1="169.5" y1="215.5" x2="169.5" y2="216.9" stroke="#555" stroke-width="0.6" /><line x1="172.0" y1="215.5" x2="172.0" y2="216.9" stroke="#555" stroke-width="0.6" /><line x1="179.0" y1="215.5" x2="179.0" y2="216.9" stroke="#555" stroke-width="0.6" /><line x1="181.5" y1="215.5" x2="181.5" y2="216.9" stroke="#555" stroke-width="0.6" /><line x1="184.5" y1="215.5" x2="184.5" y2="216.9" stroke="#555" stroke-width="0.6" /><line x1="187.0" y1="215.5" x2="187.0" y2="216.9" stroke="#555" stroke-width="0.6" /><line x1="210.5" y1="215.5" x2="210.5" y2="217.9" stroke="#333" stroke-width="0.8" /><line x1="217.28286590374037" y1="215.5" x2="217.28286590374037" y2="216.8" stroke="#555" stroke-width="0.6" /><line x1="221.1920918547765" y1="215.5" x2="221.1920918547765" y2="216.8" stroke="#555" stroke-width="0.6" /><line x1="223.96573180748075" y1="215.5" x2="223.96573180748075" y2="216.8" stroke="#555" stroke-width="0.6" /><line x1="226.1171340962596" y1="215.5" x2="226.1171340962596" y2="216.8" stroke="#555" stroke-width="0.6" /><line x1="227.87495775851687" y1="215.5" x2="227.87495775851687" y2="216.8" stroke="#555" stroke-width="0.6" /><line x1="229.3611764883165" y1="215.5" x2="229.3611764883165" y2="216.8" stroke="#555" stroke-width="0.6" /><line x1="230.64859771122113" y1="215.5" x2="230.64859771122113" y2="216.8" stroke="#555" stroke-width="0.6" /><line x1="231.78418370955302" y1="215.5" x2="231.78418370955302" y2="216.8" stroke="#555" stroke-width="0.6" /><line x1="232.5" y1="215.5" x2="232.5" y2="217.9" stroke="#333" stroke-width="0.8" /><line x1="239.38286590374037" y1="215.5" x2="239.38286590374037" y2="216.8" stroke="#555" stroke-width="0.6" /><line x1="243.2920918547765" y1="215.5" x2="243.2920918547765" y2="216.8" stroke="#555" stroke-width="0.6" /><line x1="246.06573180748074" y1="215.5" x2="246.06573180748074" y2="216.8" stroke="#555" stroke-width="0.6" /><line x1="248.2171340962596" y1="215.5" x2="248.2171340962596" y2="216.8" stroke="#555" stroke-width="0.6" /><line x1="249.97495775851687" y1="215.5" x2="249.97495775851687" y2="216.8" stroke="#555" stroke-width="0.6" /><line x1="251.46117648831648" y1="215.5" x2="251.46117648831648" y2="216.8" stroke="#555" stroke-width="0.6" /><line x1="252.74859771122112" y1="215.5" x2="252.74859771122112" y2="216.8" stroke="#555" stroke-width="0.6" /><line x1="253.88418370955299" y1="215.5" x2="253.88418370955299" y2="216.8" stroke="#555" stroke-width="0.6" /><line x1="255.5" y1="215.5" x2="255.5" y2="217.9" stroke="#333" stroke-width="0.8" /><line x1="262.0828659037404" y1="215.5" x2="262.0828659037404" y2="216.8" stroke="#555" stroke-width="0.6" /><line x1="195.18286590374038" y1="215.5" x2="195.18286590374038" y2="216.8" stroke="#555" stroke-width="0.6" /><line x1="199.0920918547765" y1="215.5" x2="199.0920918547765" y2="216.8" stroke="#555" stroke-width="0.6" /><line x1="201.86573180748076" y1="215.5" x2="201.86573180748076" y2="216.8" stroke="#555" stroke-width="0.6" /><line x1="204.0171340962596" y1="215.5" x2="204.0171340962596" y2="216.8" stroke="#555" stroke-width="0.6" /><line x1="205.77495775851688" y1="215.5" x2="205.77495775851688" y2="216.8" stroke="#555" stroke-width="0.6" /><line x1="207.2611764883165" y1="215.5" x2="207.2611764883165" y2="216.8" stroke="#555" stroke-width="0.6" /><line x1="208.54859771122113" y1="215.5" x2="208.54859771122113" y2="216.8" stroke="#555" stroke-width="0.6" /><line x1="209.684183709553" y1="215.5" x2="209.684183709553" y2="216.8" stroke="#555" stroke-width="0.6" /><text x="175.8" y="227.3" font-size="6.2" text-anchor="middle" fill="#333" stroke="#333" stroke-width="0.12" >0</text><text x="210.4" y="227.3" font-size="6.2" text-anchor="middle" fill="#333" stroke="#333" stroke-width="0.12" >10<tspan font-size="4.4" dy="-2.5">3</tspan></text><text x="233.1" y="227.3" font-size="6.2" text-anchor="middle" fill="#333" stroke="#333" stroke-width="0.12" >10<tspan font-size="4.4" dy="-2.5">4</tspan></text><text x="255.5" y="227.3" font-size="6.2" text-anchor="middle" fill="#333" stroke="#333" stroke-width="0.12" >10<tspan font-size="4.4" dy="-2.5">5</tspan></text><text x="89.5" y="151.0" font-size="8.2" text-anchor="middle" fill="#222" stroke="#222" stroke-width="0.12" >Basal</text><text x="215.6" y="151.0" font-size="8.2" text-anchor="middle" fill="#222" stroke="#222" stroke-width="0.12" >+ARP-1</text><rect x="98.3" y="133.6" width="4.2" height="4.9" fill="#b4b4b4"/><text x="105.8" y="138.3" font-size="6.4" fill="#333" stroke="#333" stroke-width="0.12" textLength="14.6" lengthAdjust="spacingAndGlyphs" >FMO</text><rect x="126.8" y="134.2" width="4.6" height="4.2" fill="none" stroke="#cc2a40" stroke-width="1.0"/><text x="134.2" y="138.3" font-size="6.4" fill="#333" stroke="#333" stroke-width="0.12" textLength="15" lengthAdjust="spacingAndGlyphs" >Mock</text><rect x="156.1" y="134.2" width="4.4" height="4.2" fill="none" stroke="#8686c8" stroke-width="1.0"/><text x="163.3" y="138.3" font-size="6.4" fill="#333" stroke="#333" stroke-width="0.12" textLength="31.8" lengthAdjust="spacingAndGlyphs" >Blimp-1 KO</text><line x1="18.5" y1="214" x2="18.5" y2="161" stroke="#222" stroke-width="1.1" /><path d="M18.5,156.3 L15.5,162.3 L21.5,162.3 Z" fill="#1a1a1a"/><text transform="translate(13.8,184.1) rotate(-90)" font-size="7.0" text-anchor="middle" fill="#2a2a2a" font-weight="bold" textLength="33" lengthAdjust="spacingAndGlyphs" >% Maximum</text><line x1="39.3" y1="231.5" x2="259" y2="231.5" stroke="#333" stroke-width="1.1" /><path d="M265.5,231.3 L258.3,228.2 L258.3,234.4 Z" fill="#222"/><text x="152.2" y="241.7" font-size="7.3" text-anchor="middle" fill="#2a2a2a" font-weight="bold" textLength="32.3" lengthAdjust="spacingAndGlyphs" >GzmB-AF647</text><path d="M340.50,207.00 L347.00,202.30 L355.00,198.30 L353.88,196.06 L345.88,200.06 L345.54,200.27 L339.04,204.97 Z" fill="#3a3a5a" opacity="0.25" filter="url(#b1)"/><g filter="url(#b03)"><path d="M339.9 201.9h0M343.2 204.1h0M341.8 203.4h0M344.1 195.5h0M347.9 201.3h0M341.3 207.5h0M341.9 203.3h0M349.1 191.3h0M341.7 203.1h0M354.5 197.6h0M350.3 191.7h0M353.8 196.5h0M342.7 200.2h0M347.7 200.0h0M348.9 199.4h0M353.8 197.3h0M351.1 199.7h0M348.6 199.2h0M346.0 203.2h0M344.7 193.7h0M348.5 199.9h0" stroke="#222" stroke-opacity="0.50" stroke-width="0.75" stroke-linecap="round"/><path d="M348.3 197.9h0M354.1 199.3h0M341.7 204.6h0M347.0 200.5h0M354.6 198.2h0M342.0 204.5h0M349.6 200.4h0M348.6 197.0h0M353.6 198.2h0M349.7 196.9h0M348.6 201.4h0M344.8 203.8h0M345.6 203.6h0M344.9 201.5h0M342.2 203.3h0M347.8 198.9h0M353.1 197.1h0M345.8 202.1h0M347.0 196.6h0M342.9 199.0h0" stroke="#222" stroke-opacity="0.50" stroke-width="1.0" stroke-linecap="round"/><path d="M350.9 200.6h0M351.1 198.3h0M341.8 205.8h0M341.5 204.4h0M348.8 202.1h0M351.7 199.2h0" stroke="#222" stroke-opacity="0.70" stroke-width="0.75" stroke-linecap="round"/><path d="M343.6 204.9h0M345.7 199.0h0M340.1 204.4h0M346.7 199.7h0M341.5 201.0h0M351.5 200.2h0M344.6 202.9h0M341.0 198.3h0M343.6 204.4h0M342.8 194.0h0M350.7 201.4h0M343.7 203.8h0M354.1 197.7h0M349.1 198.8h0M347.8 199.9h0M351.2 196.6h0M354.1 198.4h0M342.4 202.1h0M346.1 200.4h0M352.0 197.5h0" stroke="#222" stroke-opacity="0.30" stroke-width="0.75" stroke-linecap="round"/><path d="M351.6 197.9h0M351.2 198.0h0M342.3 203.2h0M338.7 201.7h0M345.2 202.8h0M353.4 200.0h0M349.6 198.5h0M346.5 202.2h0M343.1 202.5h0M341.1 202.6h0M344.0 200.7h0M341.1 199.8h0M343.2 203.4h0" stroke="#222" stroke-opacity="0.70" stroke-width="1.0" stroke-linecap="round"/><path d="M343.3 193.2h0M353.7 198.5h0M343.4 203.7h0M353.2 198.5h0M337.9 202.3h0M345.6 198.5h0M354.3 197.4h0M341.4 204.6h0M343.9 204.3h0M347.9 201.0h0" stroke="#222" stroke-opacity="0.30" stroke-width="1.0" stroke-linecap="round"/></g><path d="M355.00,198.30 L368.00,191.20 L378.00,185.30 L383.30,182.60 L385.80,184.00 L387.51,180.95 L385.01,179.55 L381.71,179.48 L376.41,182.18 L376.22,182.29 L366.22,188.19 L366.32,188.13 L353.32,195.23 Z" fill="#3a3a5a" opacity="0.28" filter="url(#b1)"/><g filter="url(#b03)"><path d="M372.0 182.5h0M356.2 190.3h0M370.0 188.9h0M356.8 193.8h0M375.3 182.0h0M368.1 187.9h0M376.3 182.8h0M382.6 182.1h0M366.6 187.2h0M377.0 185.3h0M381.9 182.9h0M375.0 174.2h0M374.7 179.7h0M363.7 193.2h0M379.1 175.9h0M373.7 186.3h0M365.7 193.1h0M365.0 188.9h0M372.3 188.0h0M386.4 181.6h0M359.3 195.9h0M370.6 187.5h0M361.9 189.3h0M358.8 194.2h0M375.5 183.6h0M374.3 186.3h0M368.9 185.3h0M361.4 188.5h0M362.9 192.1h0M360.8 188.8h0M371.8 185.5h0M372.4 187.9h0M375.0 184.9h0M370.7 188.4h0M363.9 193.1h0M379.8 180.4h0M376.3 182.9h0M369.2 186.8h0M378.6 184.9h0M369.6 189.9h0M371.9 188.2h0M374.0 181.7h0M361.8 191.8h0M370.7 187.7h0M382.4 181.0h0M357.7 192.0h0M365.4 188.0h0M359.2 191.6h0M356.4 192.9h0M366.0 186.6h0M357.6 196.6h0M369.9 187.5h0M367.7 189.2h0M380.8 181.8h0M376.3 180.7h0M365.1 192.2h0" stroke="#222" stroke-opacity="0.70" stroke-width="1.0" stroke-linecap="round"/><path d="M355.4 195.8h0M359.3 185.3h0M355.9 184.7h0M363.7 190.9h0M352.8 189.5h0M366.9 188.2h0M355.4 190.8h0M390.4 171.9h0M365.8 190.7h0M354.0 196.7h0M373.2 184.2h0M375.2 185.4h0M355.0 193.7h0M380.0 182.5h0M361.8 192.1h0M355.9 193.6h0M386.9 180.0h0M361.7 194.7h0M359.3 195.7h0M366.6 191.1h0M358.3 196.5h0M364.7 192.6h0M372.9 175.7h0M370.2 183.6h0M366.7 191.2h0M382.3 182.4h0M373.4 188.7h0M361.0 192.2h0M356.7 197.4h0M355.6 197.8h0M372.9 187.5h0M381.6 181.9h0M349.7 186.2h0M367.2 190.4h0M369.4 190.1h0M381.5 183.3h0M372.5 182.6h0M378.8 180.6h0M376.1 183.0h0M370.6 189.5h0M359.1 188.3h0M366.9 187.4h0M373.4 182.4h0M359.8 191.1h0M361.6 186.3h0M370.4 188.7h0M384.5 182.1h0M379.1 181.4h0M372.2 185.6h0M388.7 179.3h0M385.9 180.7h0M366.1 190.1h0M363.7 192.3h0M367.4 188.5h0M382.6 183.2h0M372.5 183.9h0M364.0 190.9h0M362.2 190.3h0M353.8 197.4h0M355.8 197.7h0M354.2 186.1h0M356.3 195.5h0M365.3 191.5h0M364.8 189.8h0M382.0 182.3h0M362.3 192.2h0M380.9 184.6h0M360.6 194.2h0M357.2 191.8h0M379.4 180.2h0M374.5 187.9h0M362.7 191.7h0M355.1 185.1h0M358.7 190.2h0M380.1 180.2h0M367.5 173.5h0M373.9 186.5h0M355.5 197.2h0M360.0 193.2h0M356.5 190.0h0M377.9 184.0h0M385.0 182.3h0M369.4 191.0h0M366.5 186.9h0M374.9 184.6h0M374.6 186.4h0M353.0 194.1h0M360.7 194.3h0M373.2 177.9h0M363.1 191.7h0M372.3 181.5h0M374.3 186.6h0M367.4 186.5h0M377.6 182.2h0M385.6 182.0h0M373.6 181.8h0M370.8 186.9h0M370.5 189.2h0M379.9 178.8h0M364.7 183.8h0M380.5 179.3h0M361.9 190.8h0M371.1 178.3h0M356.8 188.3h0M369.1 190.6h0M378.3 184.6h0M369.7 186.8h0M371.1 181.8h0M373.7 186.5h0M384.5 182.3h0M373.8 187.0h0M353.6 192.1h0M384.4 181.5h0M383.2 182.2h0M378.6 177.4h0M372.1 187.3h0M387.8 177.5h0" stroke="#222" stroke-opacity="0.30" stroke-width="1.0" stroke-linecap="round"/><path d="M368.6 189.5h0M374.7 187.5h0M371.1 188.2h0M385.4 181.9h0M371.0 182.5h0M369.4 189.8h0M358.7 186.8h0M370.7 188.6h0M374.1 183.1h0M360.0 185.7h0M374.5 187.9h0M370.4 184.1h0M357.1 196.9h0M361.4 193.0h0M371.7 185.2h0M365.1 183.1h0M377.2 185.4h0M360.7 179.9h0M362.5 194.4h0M363.7 191.1h0M355.3 191.8h0M362.1 194.4h0M376.7 186.6h0M375.1 182.7h0M356.8 197.4h0M377.3 182.6h0M376.2 173.5h0M365.7 183.5h0M371.6 187.2h0M388.8 177.4h0M359.9 193.9h0M374.6 184.6h0M382.8 182.2h0M355.4 197.4h0M360.3 190.3h0M368.0 176.9h0M365.3 189.6h0M385.9 182.0h0M380.1 184.2h0M385.6 183.5h0M375.6 187.0h0M359.1 193.5h0M371.3 183.1h0M384.9 183.2h0M380.9 183.3h0M377.5 182.7h0M358.0 184.5h0M374.3 184.3h0M376.0 179.1h0M381.8 181.1h0M384.1 181.1h0M358.4 192.1h0M374.1 184.7h0M352.1 191.0h0M375.5 186.1h0M379.9 179.3h0M356.2 194.0h0M380.2 182.8h0M355.3 194.0h0M362.4 189.4h0M367.3 191.2h0M362.4 190.3h0M385.8 183.1h0M355.2 196.0h0M388.3 179.4h0M353.4 181.8h0M381.4 180.6h0M362.2 192.2h0M359.5 195.9h0M365.8 183.1h0M370.2 189.0h0M369.1 189.5h0M359.2 193.8h0M368.9 185.5h0M372.7 185.4h0M359.5 196.2h0M355.6 196.3h0M377.4 181.1h0M367.9 187.6h0M373.1 188.7h0M372.1 185.4h0M373.9 183.7h0M359.3 195.2h0M381.4 179.6h0M370.1 189.8h0M363.7 192.8h0M396.0 165.9h0M379.1 181.8h0M362.7 192.4h0M357.5 192.8h0M368.1 190.1h0M370.3 190.0h0M355.0 185.9h0M377.7 182.2h0M369.4 189.6h0M354.5 196.5h0M370.0 177.8h0M370.2 188.9h0M377.2 177.3h0M369.2 188.9h0M367.1 190.8h0M358.2 193.2h0M364.1 192.5h0M357.1 194.9h0M356.3 195.4h0M375.5 184.9h0M386.0 182.1h0M360.2 186.7h0M375.7 178.1h0M361.2 187.8h0M384.9 183.1h0M354.8 187.1h0M355.5 197.9h0M367.8 189.1h0M357.2 194.7h0M356.6 192.6h0M359.7 194.2h0M385.9 181.3h0M360.2 191.6h0M382.9 182.3h0M367.0 183.9h0M358.7 192.5h0M376.8 185.4h0M365.9 191.6h0M374.6 185.0h0M374.5 187.9h0M366.7 191.7h0M363.0 179.2h0M365.8 179.2h0M357.2 195.0h0M363.8 193.1h0M359.2 187.6h0M376.6 185.4h0M362.0 192.0h0M371.2 189.5h0M378.3 183.9h0M366.7 189.3h0M362.3 181.2h0M360.0 193.7h0M374.1 187.6h0M360.5 193.3h0M364.2 191.9h0M377.4 185.2h0M375.4 186.9h0M368.1 186.2h0" stroke="#222" stroke-opacity="0.30" stroke-width="0.75" stroke-linecap="round"/><path d="M388.7 178.1h0M353.0 195.0h0M388.6 173.9h0M365.3 168.0h0M366.5 192.0h0M363.6 186.7h0M364.1 188.8h0M360.2 190.8h0M380.9 179.6h0M357.4 189.5h0M377.3 184.8h0M360.7 195.3h0M370.3 187.4h0M378.2 181.2h0M388.8 175.3h0M356.8 193.4h0M363.4 193.5h0M380.1 185.1h0M357.1 192.7h0M361.5 192.8h0M379.0 180.3h0M350.8 190.1h0M367.4 189.7h0M371.0 188.5h0M371.2 182.6h0M366.4 190.6h0M364.2 179.3h0M365.7 191.0h0M367.9 189.1h0M370.8 187.8h0M360.9 188.5h0M365.4 189.0h0M382.5 182.6h0M369.3 187.3h0M378.5 184.2h0M381.7 183.7h0M384.1 181.4h0M361.4 189.7h0M363.3 193.5h0M367.9 189.6h0M378.6 182.5h0M370.4 181.5h0M366.1 185.3h0M377.7 174.8h0M355.3 194.0h0M360.0 194.8h0M355.3 196.5h0M357.3 187.0h0M367.5 184.2h0M373.3 174.6h0M362.9 189.5h0M357.1 191.3h0M381.5 182.3h0M355.3 197.5h0M361.9 192.8h0M361.4 193.4h0M386.5 182.3h0M352.5 191.1h0M362.3 190.3h0M385.3 180.5h0M377.0 184.9h0M369.0 188.4h0M352.6 186.0h0M378.2 181.9h0M381.6 180.6h0M371.7 185.6h0M359.7 195.0h0M384.4 182.0h0M371.3 187.9h0M354.9 195.8h0M361.6 192.9h0M378.9 181.0h0M377.5 186.5h0M355.6 193.4h0M371.8 177.5h0M369.0 189.1h0M357.6 189.9h0M365.0 178.1h0M378.0 183.7h0M370.0 188.4h0M357.8 195.7h0M356.6 190.5h0M368.8 190.3h0M364.7 180.0h0M370.1 166.5h0M386.8 180.9h0M366.2 182.1h0M375.9 184.7h0M357.8 196.9h0M368.7 187.2h0M365.2 192.9h0M379.5 181.3h0M368.3 180.6h0M367.6 191.0h0M377.6 178.2h0M362.3 191.9h0M372.6 183.2h0M367.4 191.7h0M369.5 188.8h0M373.2 180.4h0M387.1 181.5h0M358.5 190.6h0M371.1 187.0h0M383.4 182.2h0M377.2 183.1h0M358.1 194.7h0M384.4 183.7h0M378.7 183.2h0M385.4 179.8h0M362.7 192.4h0M386.7 181.2h0M370.9 189.7h0M367.7 172.7h0M358.0 193.8h0M372.9 184.3h0M365.0 185.2h0M360.0 188.9h0M354.6 190.1h0M379.4 184.6h0M364.1 193.8h0M360.4 195.7h0M370.6 188.8h0M382.1 183.4h0M372.3 179.8h0M379.5 182.0h0M374.5 178.6h0M385.9 182.4h0M372.9 182.6h0M360.9 194.8h0M368.5 188.3h0M370.0 189.1h0M363.7 190.3h0M360.8 195.2h0M357.2 196.0h0M384.4 183.1h0M356.5 189.8h0M362.2 191.0h0M355.9 193.2h0M376.6 179.3h0M366.0 183.9h0M348.0 170.4h0M369.4 188.2h0M386.8 181.8h0M370.6 184.8h0M382.2 183.4h0M377.4 185.2h0M366.6 187.2h0M364.0 189.3h0" stroke="#222" stroke-opacity="0.50" stroke-width="1.0" stroke-linecap="round"/><path d="M366.1 192.0h0M375.3 179.5h0M355.8 199.2h0M366.6 190.4h0M371.3 175.6h0M358.6 183.5h0M367.8 190.2h0M381.8 180.8h0M368.0 187.8h0M372.7 185.9h0M380.7 182.0h0M362.6 193.5h0M364.5 181.4h0M374.0 185.6h0M365.5 193.5h0M366.5 189.4h0M385.1 179.7h0M358.5 195.1h0M380.3 183.1h0M379.8 182.0h0M373.6 182.8h0M372.7 180.2h0M358.5 192.1h0M377.0 176.7h0M371.2 184.3h0M360.1 196.0h0M371.4 188.1h0M363.8 191.8h0M360.8 191.0h0M370.2 190.1h0M381.1 179.5h0M359.8 194.2h0M368.3 186.4h0M364.3 192.8h0M358.1 194.8h0M367.8 186.9h0M366.3 188.0h0M367.0 190.5h0M354.9 193.9h0M356.9 197.4h0M357.6 195.5h0M384.7 179.7h0M379.8 184.2h0M369.5 187.8h0M363.6 192.3h0M356.1 191.9h0M359.9 193.7h0M366.5 188.1h0M361.5 193.5h0M368.6 188.4h0M362.0 193.3h0M369.5 189.2h0M385.5 178.3h0M374.1 187.4h0M373.6 181.5h0M385.9 181.8h0M373.9 184.0h0M364.2 183.1h0M386.7 181.5h0M368.9 189.5h0M357.5 196.8h0M353.1 190.2h0M379.4 181.4h0M360.4 193.0h0M375.5 185.5h0M372.0 184.6h0M377.9 179.5h0M359.7 190.9h0M375.4 185.2h0M374.2 184.7h0M357.2 187.1h0M376.0 184.4h0M363.7 186.3h0M368.3 191.6h0M366.6 190.4h0M371.9 180.3h0M371.4 188.3h0M387.7 180.8h0M383.7 182.7h0M364.0 189.1h0M358.0 197.3h0M361.6 193.3h0M377.0 178.5h0M367.5 191.3h0M369.0 188.1h0M360.6 193.8h0M374.5 179.1h0M369.2 190.4h0M359.7 194.8h0M381.1 181.5h0M364.1 190.1h0M381.4 182.7h0M382.1 181.7h0M366.8 182.3h0M385.1 182.0h0M386.4 180.8h0M370.6 190.1h0M357.1 193.9h0M373.4 186.1h0M375.6 181.9h0M356.2 196.4h0M370.9 185.3h0M364.0 180.9h0M384.2 181.9h0M372.9 188.5h0M361.1 195.8h0M356.5 198.3h0M365.8 183.4h0M379.2 183.7h0M380.5 180.5h0M357.7 172.2h0M379.0 184.2h0M371.4 186.8h0M376.2 173.5h0M354.7 190.0h0M369.4 190.4h0M362.5 192.2h0M373.9 179.7h0M360.3 193.3h0M382.8 182.9h0M365.2 189.7h0M364.6 192.6h0M380.2 185.2h0" stroke="#222" stroke-opacity="0.50" stroke-width="0.75" stroke-linecap="round"/><path d="M356.2 191.4h0M356.5 195.1h0M364.0 188.5h0M376.6 182.8h0M380.7 183.9h0M368.2 189.2h0M364.6 183.9h0M374.9 178.5h0M358.7 194.9h0M365.1 191.6h0M359.2 193.9h0M364.7 186.9h0M378.1 184.3h0M368.8 187.5h0M385.2 183.1h0M376.1 186.3h0M367.6 185.7h0M376.2 181.2h0M382.7 182.0h0M359.9 164.2h0M370.2 186.7h0M370.0 186.4h0M369.4 179.1h0M369.0 188.6h0M379.2 183.6h0M373.9 182.0h0M363.6 191.5h0M366.2 192.7h0M356.7 191.3h0M374.7 183.1h0M367.9 188.4h0M353.4 189.0h0M354.7 189.3h0M375.1 177.8h0M357.6 189.1h0M359.4 195.4h0M384.9 183.0h0M356.5 194.7h0M360.9 194.0h0M384.6 182.4h0M372.5 183.6h0M353.1 191.3h0M379.2 179.3h0M378.3 185.5h0M384.9 181.5h0M376.6 181.2h0M372.3 185.5h0M378.2 184.8h0M377.1 186.8h0M373.5 183.2h0M368.2 184.8h0" stroke="#222" stroke-opacity="0.70" stroke-width="0.75" stroke-linecap="round"/></g><path d="M385.80,184.00 L386.20,192.00 L385.80,200.00 L387.80,206.00 L388.40,212.00 L387.00,217.00 L388.93,217.54 L390.33,212.54 L390.39,211.80 L389.79,205.80 L389.70,205.37 L387.70,199.37 L387.80,200.10 L388.20,192.10 L388.20,191.90 L387.80,183.90 Z" fill="#3a3a5a" opacity="0.2" filter="url(#b1)"/><g filter="url(#b03)"><path d="M391.8 216.8h0M390.0 213.3h0M392.3 196.1h0M385.8 199.6h0M388.3 213.9h0M389.9 199.7h0M390.5 208.8h0M387.7 184.8h0M385.6 200.6h0M388.0 211.6h0M385.5 188.6h0M387.0 203.2h0M390.1 190.1h0M385.6 186.2h0M394.8 209.3h0M386.9 185.2h0M388.8 205.7h0M387.1 200.3h0M389.9 200.4h0M387.5 188.2h0" stroke="#222" stroke-opacity="0.70" stroke-width="1.0" stroke-linecap="round"/><path d="M387.7 205.8h0M388.8 208.2h0M387.7 212.7h0M388.6 216.5h0M386.7 185.5h0M388.4 209.3h0M387.0 194.5h0M387.7 193.9h0M386.1 185.7h0M386.7 192.1h0M387.5 205.9h0M387.9 184.2h0M387.2 201.8h0" stroke="#222" stroke-opacity="0.30" stroke-width="1.0" stroke-linecap="round"/><path d="M386.2 197.2h0M384.5 194.8h0M387.9 213.9h0M389.6 191.7h0M386.8 192.0h0M386.9 198.2h0M389.6 199.9h0M386.8 190.7h0M387.3 206.3h0M386.8 195.7h0M388.5 207.4h0M391.9 206.7h0M387.0 188.7h0M388.2 210.7h0M391.1 214.8h0M388.5 209.1h0M388.5 201.2h0M386.3 200.3h0M388.5 214.3h0M387.6 205.5h0M386.6 195.5h0M387.4 203.4h0M385.0 196.1h0M388.2 190.3h0M387.7 185.3h0M387.7 214.5h0" stroke="#222" stroke-opacity="0.50" stroke-width="1.0" stroke-linecap="round"/><path d="M386.1 198.9h0M386.6 200.2h0M388.7 191.2h0M386.0 196.9h0M389.3 204.0h0M385.7 199.6h0M393.3 198.5h0M388.3 208.1h0M390.3 215.8h0M387.3 212.2h0M385.9 193.4h0M387.6 187.5h0M390.2 203.2h0M387.9 197.5h0M389.0 205.2h0M389.4 210.6h0M391.5 194.0h0M385.7 194.7h0M386.3 187.9h0M386.1 189.2h0M389.8 187.3h0M387.0 188.8h0M387.2 205.0h0M388.4 197.0h0M389.8 209.0h0M386.1 200.3h0M389.1 203.6h0M389.4 211.8h0M386.2 194.3h0M387.0 197.1h0M385.7 191.5h0" stroke="#222" stroke-opacity="0.50" stroke-width="0.75" stroke-linecap="round"/><path d="M388.7 196.8h0M386.9 198.2h0M388.9 217.3h0M387.2 193.5h0M388.2 210.7h0M390.8 210.9h0" stroke="#222" stroke-opacity="0.30" stroke-width="0.75" stroke-linecap="round"/><path d="M389.5 195.8h0M386.6 188.5h0M389.5 195.4h0M390.6 207.7h0M392.1 210.4h0" stroke="#222" stroke-opacity="0.90" stroke-width="1.0" stroke-linecap="round"/><path d="M388.4 190.2h0M386.1 184.5h0M387.2 215.5h0M386.1 188.8h0M386.7 201.7h0M386.1 184.7h0M385.5 187.1h0M389.5 207.7h0M389.9 207.5h0M388.2 208.8h0M391.3 190.6h0M386.4 201.2h0M386.2 189.5h0M387.3 216.0h0M388.6 209.8h0M386.0 192.0h0M387.0 217.1h0M388.2 206.0h0M389.0 207.5h0M389.0 203.7h0M387.9 211.5h0M386.8 192.1h0M387.0 200.8h0M387.2 186.9h0M388.8 213.8h0" stroke="#222" stroke-opacity="0.70" stroke-width="0.75" stroke-linecap="round"/><path d="M390.6 206.6h0M386.9 215.9h0M386.3 199.2h0M385.5 191.1h0" stroke="#222" stroke-opacity="0.90" stroke-width="0.75" stroke-linecap="round"/></g><path d="M341.50,206.00 C342.70,204.88 344.75,203.58 347.00,202.30 C349.25,201.02 351.50,200.15 355.00,198.30 C358.50,196.45 364.17,193.37 368.00,191.20 C371.83,189.03 375.45,186.73 378.00,185.30 C380.55,183.87 382.07,182.48 383.30,182.60 C384.53,182.72 385.12,183.10 385.40,186.00 C385.68,188.90 384.80,196.83 385.00,200.00 C385.20,203.17 386.17,203.33 386.60,205.00 C387.03,206.67 387.60,208.25 387.60,210.00 C387.60,211.75 387.37,213.90 386.60,215.50 C385.83,217.10 385.77,218.70 383.00,219.60 C380.23,220.50 374.67,220.62 370.00,220.90 C365.33,221.18 359.17,221.12 355.00,221.30 C350.83,221.48 347.43,222.28 345.00,222.00 C342.57,221.72 341.37,220.93 340.40,219.60 C339.43,218.27 339.30,215.77 339.20,214.00 C339.10,212.23 339.42,210.33 339.80,209.00 C340.18,207.67 340.30,207.12 341.50,206.00 Z" fill="#2238c6" stroke="#1a1a84" stroke-width="2.8" filter="url(#b06)"/><ellipse cx="374" cy="198" rx="8" ry="5.5" fill="#2a70e0" opacity="0.75" filter="url(#b2)" transform="rotate(-25 374 198)"/><ellipse cx="364.5" cy="213.5" rx="19.5" ry="5.2" fill="#1eaee6" opacity="1" filter="url(#b15)"/><ellipse cx="366" cy="213.6" rx="11" ry="2.8" fill="#2cc25a" opacity="1" filter="url(#b1)"/><ellipse cx="346.6" cy="214.6" rx="6.80" ry="6.80" fill="#16b4e6" filter="url(#b1)"/><ellipse cx="346.6" cy="214.6" rx="5.20" ry="5.20" fill="#2ec24a" filter="url(#b06)"/><ellipse cx="346.6" cy="214.6" rx="3.70" ry="3.70" fill="#c8dc20" filter="url(#b06)"/><ellipse cx="346.6" cy="214.6" rx="2.80" ry="2.80" fill="#f8c010" filter="url(#b06)"/><ellipse cx="346.6" cy="214.6" rx="1.90" ry="1.90" fill="#f04010" filter="url(#b03)"/><ellipse cx="346.6" cy="214.6" rx="1.10" ry="1.10" fill="#e01010" filter="url(#b03)"/><rect x="332.5" y="162.5" width="66" height="66" fill="none" stroke="#333" stroke-width="0.9"/><line x1="356.5" y1="162.5" x2="356.5" y2="228.5" stroke="#333" stroke-width="0.9" /><line x1="332.5" y1="203.5" x2="398.5" y2="203.5" stroke="#444" stroke-width="0.9" /><text x="333.7" y="169.1" font-size="6.4" fill="#222" stroke="#222" stroke-width="0.12" >0.56</text><text x="397.5" y="169.1" font-size="6.4" text-anchor="end" fill="#222" stroke="#222" stroke-width="0.12" >6.88</text><text x="333.3" y="227.9" font-size="6.4" fill="#222" stroke="#222" stroke-width="0.12" >60.5</text><text x="397.5" y="227.9" font-size="6.4" text-anchor="end" fill="#222" stroke="#222" stroke-width="0.12" >32.0</text><line x1="330.3" y1="168.5" x2="332.5" y2="168.5" stroke="#333" stroke-width="0.8" /><text x="329.3" y="171.3" font-size="6.5" text-anchor="end" fill="#333" stroke="#333" stroke-width="0.12" >10<tspan font-size="4.4" dy="-2.5">5</tspan></text><line x1="330.3" y1="184.5" x2="332.5" y2="184.5" stroke="#333" stroke-width="0.8" /><text x="329.3" y="186.3" font-size="6.5" text-anchor="end" fill="#333" stroke="#333" stroke-width="0.12" >10<tspan font-size="4.4" dy="-2.5">4</tspan></text><line x1="330.3" y1="201.5" x2="332.5" y2="201.5" stroke="#333" stroke-width="0.8" /><text x="329.3" y="203.5" font-size="6.5" text-anchor="end" fill="#333" stroke="#333" stroke-width="0.12" >10<tspan font-size="4.4" dy="-2.5">3</tspan></text><line x1="331.3" y1="179.48455006504028" x2="332.5" y2="179.48455006504028" stroke="#555" stroke-width="0.5" /><line x1="331.3" y1="176.84318117920506" x2="332.5" y2="176.84318117920506" stroke="#555" stroke-width="0.5" /><line x1="331.3" y1="174.96910013008056" x2="332.5" y2="174.96910013008056" stroke="#555" stroke-width="0.5" /><line x1="331.3" y1="173.51544993495972" x2="332.5" y2="173.51544993495972" stroke="#555" stroke-width="0.5" /><line x1="331.3" y1="172.32773124424534" x2="332.5" y2="172.32773124424534" stroke="#555" stroke-width="0.5" /><line x1="331.3" y1="171.32352939978614" x2="332.5" y2="171.32352939978614" stroke="#555" stroke-width="0.5" /><line x1="331.3" y1="170.45365019512084" x2="332.5" y2="170.45365019512084" stroke="#555" stroke-width="0.5" /><line x1="331.3" y1="169.68636235841012" x2="332.5" y2="169.68636235841012" stroke="#555" stroke-width="0.5" /><line x1="331.3" y1="196.02228407457952" x2="332.5" y2="196.02228407457952" stroke="#555" stroke-width="0.5" /><line x1="331.3" y1="192.9935144188218" x2="332.5" y2="192.9935144188218" stroke="#555" stroke-width="0.5" /><line x1="331.3" y1="190.84456814915904" x2="332.5" y2="190.84456814915904" stroke="#555" stroke-width="0.5" /><line x1="331.3" y1="189.17771592542047" x2="332.5" y2="189.17771592542047" stroke="#555" stroke-width="0.5" /><line x1="331.3" y1="187.81579849340133" x2="332.5" y2="187.81579849340133" stroke="#555" stroke-width="0.5" /><line x1="331.3" y1="186.66431371175477" x2="332.5" y2="186.66431371175477" stroke="#555" stroke-width="0.5" /><line x1="331.3" y1="185.66685222373857" x2="332.5" y2="185.66685222373857" stroke="#555" stroke-width="0.5" /><line x1="331.3" y1="184.78702883764362" x2="332.5" y2="184.78702883764362" stroke="#555" stroke-width="0.5" /><rect x="330.3" y="215.7" width="2.2" height="3" fill="#111"/><line x1="331.3" y1="207.5" x2="332.5" y2="207.5" stroke="#555" stroke-width="0.5" /><line x1="331.3" y1="211.0" x2="332.5" y2="211.0" stroke="#555" stroke-width="0.5" /><line x1="331.3" y1="213.5" x2="332.5" y2="213.5" stroke="#555" stroke-width="0.5" /><line x1="331.3" y1="221.0" x2="332.5" y2="221.0" stroke="#555" stroke-width="0.5" /><line x1="331.3" y1="224.0" x2="332.5" y2="224.0" stroke="#555" stroke-width="0.5" /><text x="324.3" y="219.3" font-size="6.4" text-anchor="middle" fill="#333" stroke="#333" stroke-width="0.12" >0</text><rect x="343.7" y="228.5" width="2.6" height="2.2" fill="#111"/><line x1="357.5" y1="228.5" x2="357.5" y2="230.7" stroke="#333" stroke-width="0.8" /><line x1="374.5" y1="228.5" x2="374.5" y2="230.7" stroke="#333" stroke-width="0.8" /><line x1="392.5" y1="228.5" x2="392.5" y2="230.7" stroke="#333" stroke-width="0.8" /><line x1="362.94761292585406" y1="228.5" x2="362.94761292585406" y2="229.7" stroke="#555" stroke-width="0.5" /><line x1="365.95877345570625" y1="228.5" x2="365.95877345570625" y2="229.7" stroke="#555" stroke-width="0.5" /><line x1="368.09522585170816" y1="228.5" x2="368.09522585170816" y2="229.7" stroke="#555" stroke-width="0.5" /><line x1="369.75238707414593" y1="228.5" x2="369.75238707414593" y2="229.7" stroke="#555" stroke-width="0.5" /><line x1="371.1063863815603" y1="228.5" x2="371.1063863815603" y2="229.7" stroke="#555" stroke-width="0.5" /><line x1="372.2511764842438" y1="228.5" x2="372.2511764842438" y2="229.7" stroke="#555" stroke-width="0.5" /><line x1="373.2428387775622" y1="228.5" x2="373.2428387775622" y2="229.7" stroke="#555" stroke-width="0.5" /><line x1="374.11754691141243" y1="228.5" x2="374.11754691141243" y2="229.7" stroke="#555" stroke-width="0.5" /><line x1="380.0476129258541" y1="228.5" x2="380.0476129258541" y2="229.7" stroke="#555" stroke-width="0.5" /><line x1="383.0587734557062" y1="228.5" x2="383.0587734557062" y2="229.7" stroke="#555" stroke-width="0.5" /><line x1="385.19522585170813" y1="228.5" x2="385.19522585170813" y2="229.7" stroke="#555" stroke-width="0.5" /><line x1="386.8523870741459" y1="228.5" x2="386.8523870741459" y2="229.7" stroke="#555" stroke-width="0.5" /><line x1="388.2063863815603" y1="228.5" x2="388.2063863815603" y2="229.7" stroke="#555" stroke-width="0.5" /><line x1="389.3511764842438" y1="228.5" x2="389.3511764842438" y2="229.7" stroke="#555" stroke-width="0.5" /><line x1="390.34283877756224" y1="228.5" x2="390.34283877756224" y2="229.7" stroke="#555" stroke-width="0.5" /><line x1="391.21754691141246" y1="228.5" x2="391.21754691141246" y2="229.7" stroke="#555" stroke-width="0.5" /><line x1="336.5" y1="228.5" x2="336.5" y2="229.7" stroke="#555" stroke-width="0.5" /><line x1="339.5" y1="228.5" x2="339.5" y2="229.7" stroke="#555" stroke-width="0.5" /><line x1="342.0" y1="228.5" x2="342.0" y2="229.7" stroke="#555" stroke-width="0.5" /><line x1="348.5" y1="228.5" x2="348.5" y2="229.7" stroke="#555" stroke-width="0.5" /><line x1="351.0" y1="228.5" x2="351.0" y2="229.7" stroke="#555" stroke-width="0.5" /><line x1="354.0" y1="228.5" x2="354.0" y2="229.7" stroke="#555" stroke-width="0.5" /><line x1="395.0" y1="228.5" x2="395.0" y2="229.7" stroke="#555" stroke-width="0.5" /><line x1="397.0" y1="228.5" x2="397.0" y2="229.7" stroke="#555" stroke-width="0.5" /><text x="344.8" y="240.2" font-size="6.2" text-anchor="middle" fill="#333" stroke="#333" stroke-width="0.12" >0</text><text x="358.4" y="240.2" font-size="6.2" text-anchor="middle" fill="#333" stroke="#333" stroke-width="0.12" >10<tspan font-size="4.4" dy="-2.5">3</tspan></text><text x="375.59999999999997" y="240.2" font-size="6.2" text-anchor="middle" fill="#333" stroke="#333" stroke-width="0.12" >10<tspan font-size="4.4" dy="-2.5">4</tspan></text><text x="391.79999999999995" y="240.2" font-size="6.2" text-anchor="middle" fill="#333" stroke="#333" stroke-width="0.12" >10<tspan font-size="4.4" dy="-2.5">5</tspan></text><path d="M426.50,207.00 L432.50,199.80 L440.00,195.50 L438.76,193.33 L431.26,197.63 L430.58,198.20 L424.58,205.40 Z" fill="#3a3a5a" opacity="0.25" filter="url(#b1)"/><g filter="url(#b03)"><path d="M427.5 203.0h0M427.3 200.6h0M429.2 203.2h0M430.3 200.1h0M431.8 187.4h0M428.9 203.8h0M426.2 201.9h0M426.4 204.3h0M437.0 197.0h0M433.5 197.1h0M427.8 202.7h0M428.3 202.1h0M428.9 202.6h0M431.8 198.4h0M432.9 197.2h0M429.1 194.6h0" stroke="#222" stroke-opacity="0.30" stroke-width="1.0" stroke-linecap="round"/><path d="M423.2 204.3h0M430.9 196.9h0M438.3 196.8h0M435.4 197.5h0M437.5 195.7h0M433.4 197.3h0M429.3 202.2h0M435.1 198.5h0M437.4 197.1h0M428.4 203.6h0M437.9 193.6h0M424.3 205.0h0M429.3 202.7h0M428.5 204.2h0M426.9 206.1h0M428.9 199.5h0M425.7 205.7h0M432.2 193.3h0M424.1 201.7h0M429.1 204.1h0M439.0 194.6h0M429.7 199.2h0M432.6 195.8h0M432.4 199.7h0M425.0 203.6h0M435.8 197.2h0M434.6 192.4h0M429.4 190.2h0M432.9 196.4h0M437.3 194.7h0M433.9 191.1h0M436.1 197.6h0" stroke="#222" stroke-opacity="0.50" stroke-width="1.0" stroke-linecap="round"/><path d="M436.6 195.6h0M430.4 202.6h0M430.2 193.4h0M436.1 196.6h0M428.8 203.8h0M429.0 198.3h0M433.0 192.0h0M430.0 198.1h0M431.7 200.9h0" stroke="#222" stroke-opacity="0.70" stroke-width="1.0" stroke-linecap="round"/><path d="M431.8 193.0h0M434.6 199.1h0M430.7 200.4h0M425.6 196.6h0M436.5 193.6h0M427.8 205.6h0M431.2 192.2h0M427.5 204.7h0M432.8 198.7h0" stroke="#222" stroke-opacity="0.70" stroke-width="0.75" stroke-linecap="round"/><path d="M433.5 198.3h0M430.1 202.7h0M432.5 197.4h0M426.4 205.9h0M433.1 198.8h0M429.9 202.2h0M427.6 204.5h0M433.6 193.5h0M432.1 194.7h0M428.8 205.2h0M435.4 195.5h0M429.7 201.6h0M425.5 203.3h0M433.3 198.9h0M437.6 196.7h0M434.9 192.6h0M436.4 198.4h0M432.5 197.0h0M438.7 194.6h0M434.8 198.5h0M435.1 195.0h0M432.1 199.1h0M428.1 205.7h0M433.9 197.0h0" stroke="#222" stroke-opacity="0.50" stroke-width="0.75" stroke-linecap="round"/><path d="M435.6 197.3h0M432.5 187.1h0M430.3 200.2h0M428.4 204.6h0M432.5 197.2h0M427.3 199.4h0M435.3 194.2h0M436.0 195.5h0M429.3 200.6h0M436.3 197.4h0" stroke="#222" stroke-opacity="0.30" stroke-width="0.75" stroke-linecap="round"/></g><path d="M440.00,195.50 L445.00,193.00 L458.00,186.00 L468.00,181.00 L474.20,179.40 L476.00,181.00 L478.33,178.38 L476.53,176.78 L473.33,176.01 L467.13,177.61 L466.43,177.87 L456.43,182.87 L456.34,182.92 L443.34,189.92 L443.43,189.87 L438.43,192.37 Z" fill="#3a3a5a" opacity="0.28" filter="url(#b1)"/><g filter="url(#b03)"><path d="M466.5 174.7h0M453.8 182.5h0M464.7 180.2h0M462.7 182.6h0M461.4 184.1h0M480.5 173.4h0M448.7 188.8h0M456.8 187.2h0M461.3 181.7h0M461.1 180.3h0M458.4 183.3h0M440.1 192.9h0M449.3 187.3h0M459.2 176.7h0M456.2 187.6h0M440.1 188.2h0M453.5 184.3h0M472.3 180.0h0M449.5 191.2h0M469.6 175.5h0M442.5 183.5h0M450.6 183.7h0M459.0 183.3h0M467.5 181.9h0M469.6 171.6h0M447.5 188.9h0M441.7 187.9h0M454.3 185.7h0M465.3 183.0h0M460.9 179.3h0M452.2 185.8h0M468.1 170.0h0M444.9 193.1h0M450.5 187.7h0M469.6 174.2h0M471.3 176.8h0M475.4 179.6h0M474.1 178.1h0M478.8 177.6h0M454.1 185.6h0M442.4 191.8h0M452.4 167.9h0M454.8 172.0h0M442.2 193.6h0M469.5 171.8h0M446.2 180.9h0M454.2 186.7h0M440.7 188.8h0M466.2 177.8h0M447.3 179.2h0M469.5 176.0h0M454.3 186.5h0M458.3 184.9h0M466.6 179.8h0M464.3 182.6h0M468.8 177.9h0M443.0 185.9h0M467.7 179.8h0M452.9 181.5h0M455.9 185.6h0M458.6 172.3h0M442.0 193.4h0M443.6 193.9h0M468.9 172.3h0M473.9 179.1h0M445.0 180.7h0M444.3 192.8h0M440.8 190.5h0M474.8 179.3h0M445.7 188.4h0M441.6 187.2h0M446.6 192.0h0M447.7 190.6h0M471.0 176.9h0M454.4 186.7h0M464.9 166.3h0M472.4 180.7h0M469.3 180.0h0M459.3 183.9h0M446.2 190.5h0M460.6 182.2h0M470.2 177.0h0M435.3 185.2h0M460.3 181.7h0M441.7 190.7h0M447.4 184.3h0M476.9 179.3h0M440.0 189.8h0M458.6 185.8h0M455.0 187.5h0M467.3 177.0h0M448.9 190.1h0M463.3 177.2h0M458.3 183.3h0M457.9 182.3h0M473.7 177.7h0M465.0 179.1h0M459.6 182.3h0M441.0 193.0h0M462.5 180.2h0M472.9 178.2h0M474.6 179.7h0M464.2 181.7h0M469.8 177.8h0M480.4 175.4h0M442.3 193.5h0M454.8 186.4h0M461.3 181.2h0M446.9 184.2h0M464.7 161.8h0M447.6 188.8h0M484.6 171.8h0M454.7 186.1h0M459.1 185.7h0M481.6 172.7h0M445.3 192.3h0M450.6 184.6h0M470.0 177.4h0M446.2 192.4h0M473.4 179.1h0M462.0 183.5h0M476.1 179.6h0M445.7 181.2h0M455.7 184.1h0M464.5 178.6h0M475.2 180.4h0M471.5 177.2h0M468.5 177.4h0M453.0 186.7h0M460.5 183.4h0M461.2 182.7h0M444.5 187.3h0M440.9 188.1h0M436.0 182.3h0M452.2 180.3h0" stroke="#222" stroke-opacity="0.50" stroke-width="0.75" stroke-linecap="round"/><path d="M468.9 179.3h0M465.7 167.0h0M441.1 192.5h0M456.7 186.5h0M457.9 171.0h0M443.3 192.8h0M448.4 186.6h0M477.3 176.5h0M457.8 181.1h0M469.7 174.5h0M437.1 186.3h0M445.2 193.2h0M473.2 179.1h0M450.4 189.3h0M442.4 190.3h0M463.1 178.3h0M456.4 185.2h0M462.7 183.8h0M446.8 189.9h0M458.4 186.2h0M442.3 187.1h0M461.8 183.7h0M461.7 179.3h0M448.5 180.7h0M452.1 177.3h0M463.3 179.8h0M441.0 190.1h0M459.2 180.6h0M442.4 174.5h0M443.5 182.2h0M464.2 176.9h0M441.0 193.5h0M458.4 186.3h0M446.3 190.8h0M468.3 178.8h0M445.7 192.2h0M468.3 179.5h0M463.3 173.9h0M460.1 174.7h0M456.5 186.1h0M470.0 164.8h0M467.7 178.7h0M449.9 188.9h0M460.1 184.6h0M469.3 169.7h0M462.4 183.8h0M439.8 195.0h0M451.6 186.4h0M444.5 193.4h0M444.0 190.5h0M445.7 188.9h0M447.3 191.9h0M470.9 180.1h0M432.9 175.3h0M447.2 191.9h0M473.2 179.9h0M469.4 174.0h0M463.2 179.1h0M437.3 188.6h0M451.8 186.4h0M453.4 188.3h0M463.3 178.7h0M459.9 180.3h0M462.8 181.1h0M453.3 180.8h0M458.3 185.3h0M444.0 191.2h0M444.5 188.5h0M458.2 182.3h0M471.7 176.8h0M447.7 186.8h0M446.6 190.6h0M441.8 190.4h0M469.6 177.6h0M451.2 189.4h0M448.7 186.4h0M446.9 192.3h0M440.9 193.6h0M466.2 173.8h0M446.4 191.0h0M469.6 175.7h0M447.9 187.2h0M441.8 182.7h0M438.2 191.5h0M436.4 183.9h0M453.6 185.1h0M455.6 178.8h0M440.3 195.0h0M471.1 173.7h0M473.8 179.2h0M462.6 179.1h0M443.2 186.8h0M442.1 191.5h0M466.9 171.1h0M447.6 188.7h0M472.9 177.9h0M454.5 179.1h0M448.9 184.1h0M439.7 183.5h0M445.7 191.2h0M440.2 189.9h0M458.4 180.6h0M454.7 186.2h0M456.3 185.0h0M478.8 176.9h0M452.8 185.1h0M448.4 181.6h0M470.6 176.5h0M438.3 191.1h0M449.0 183.4h0M442.8 189.7h0M460.8 169.3h0M442.0 189.6h0M463.7 183.6h0M471.2 177.9h0M474.2 179.4h0M473.4 174.4h0M448.9 183.1h0M466.9 180.5h0M443.6 178.9h0M468.2 179.2h0M472.3 179.8h0M468.9 174.7h0M472.6 179.9h0M460.0 184.2h0M443.9 193.5h0M447.0 192.7h0M435.8 182.8h0M470.1 175.1h0M455.8 178.3h0M459.7 182.8h0M459.0 184.1h0M470.8 175.3h0M472.3 170.8h0M445.6 191.7h0M460.6 168.8h0M468.4 180.0h0M460.0 184.0h0M444.8 193.5h0M461.6 181.3h0M455.7 185.1h0M456.2 186.3h0M447.6 189.6h0M468.7 172.8h0M439.3 185.7h0M451.0 190.1h0M469.6 176.6h0M461.2 183.7h0M467.0 181.1h0M449.3 188.2h0M459.6 184.6h0M482.4 172.2h0M460.7 184.6h0M444.3 184.2h0" stroke="#222" stroke-opacity="0.30" stroke-width="1.0" stroke-linecap="round"/><path d="M440.8 188.1h0M467.3 178.5h0M465.6 180.9h0M453.4 185.1h0M458.0 171.3h0M439.6 190.5h0M461.8 178.3h0M451.7 185.3h0M448.4 191.2h0M457.3 177.1h0M452.2 187.7h0M441.5 195.4h0M476.2 178.0h0M468.7 180.9h0M449.8 190.1h0M450.7 187.3h0M443.0 189.8h0M453.0 185.5h0M471.6 179.3h0M461.7 183.0h0M441.9 193.9h0M440.7 194.8h0M449.5 189.3h0M441.1 191.9h0M479.9 175.2h0M460.5 182.1h0M447.0 188.5h0M470.6 176.2h0M464.2 181.4h0M475.2 180.3h0M448.2 190.1h0M474.2 178.5h0M453.0 182.2h0M440.8 195.4h0M440.6 192.5h0M453.8 186.0h0M476.3 180.4h0M463.8 174.2h0M444.3 189.0h0M467.2 179.2h0M471.5 175.9h0M455.8 186.6h0M459.0 185.1h0M447.5 190.6h0M462.3 179.5h0M471.2 174.8h0M440.1 193.2h0M439.1 194.0h0M457.1 185.6h0M443.6 184.8h0M444.0 190.3h0M462.7 176.3h0M470.4 170.1h0M472.8 175.3h0M458.2 185.0h0M441.5 191.1h0M471.4 179.0h0M463.9 182.8h0M444.6 192.8h0M475.0 179.7h0M449.2 188.1h0M469.5 179.0h0M440.5 195.0h0M462.4 183.0h0M443.4 190.0h0M455.0 184.7h0M460.0 182.5h0M458.3 178.7h0M452.1 178.4h0M462.8 177.7h0M461.9 183.6h0M455.1 183.9h0M473.2 177.8h0M462.7 179.6h0M460.6 176.6h0M458.9 184.0h0M442.1 186.0h0M474.8 179.6h0M470.7 179.8h0M439.7 188.2h0M448.7 190.7h0M478.7 176.0h0M454.3 179.5h0M469.9 178.5h0M453.0 185.5h0M473.1 179.5h0M452.6 184.8h0M441.0 190.9h0M461.8 182.5h0M438.6 186.0h0M461.9 182.4h0M477.1 179.3h0M446.2 179.7h0M472.3 180.4h0M437.5 187.3h0M448.0 190.6h0M444.3 191.7h0M471.3 178.9h0M472.6 180.0h0M440.0 194.4h0M463.3 179.8h0M443.7 185.9h0M451.6 190.1h0M470.2 179.3h0M461.7 178.8h0M463.0 183.7h0M449.0 187.5h0M445.5 185.0h0M465.7 181.5h0M457.2 184.3h0M451.1 187.4h0M466.8 180.8h0M467.7 181.2h0M456.0 187.5h0M440.4 190.6h0M472.2 178.2h0M469.1 173.3h0M450.5 166.6h0M446.8 192.4h0M458.7 185.2h0M448.2 181.1h0M460.5 183.8h0M456.9 180.5h0M448.5 184.3h0M465.8 177.1h0M458.9 184.3h0M466.2 177.9h0M449.8 188.1h0M440.7 184.1h0M470.7 176.6h0M447.1 189.2h0M444.9 178.2h0M440.9 193.6h0M442.5 193.4h0M460.8 176.8h0M449.0 189.1h0M450.3 188.3h0M444.7 188.7h0M444.6 192.3h0M439.0 188.8h0M458.6 182.3h0M463.7 183.4h0M466.0 160.5h0M472.7 179.2h0M440.6 195.4h0M465.5 179.4h0M452.3 188.3h0M444.8 191.8h0" stroke="#222" stroke-opacity="0.30" stroke-width="0.75" stroke-linecap="round"/><path d="M448.4 179.5h0M471.2 170.7h0M440.4 183.0h0M474.4 179.1h0M474.2 180.1h0M440.9 194.6h0M453.6 188.1h0M445.3 192.0h0M444.4 193.2h0M467.7 176.0h0M441.4 186.1h0M478.3 175.0h0M452.8 181.3h0M457.1 187.3h0M448.9 173.5h0M464.3 177.8h0M475.5 179.6h0M446.8 189.9h0M442.9 160.9h0M450.2 185.3h0M469.0 181.1h0M462.2 183.2h0M440.2 194.0h0M447.7 185.4h0M436.4 187.5h0M461.3 176.7h0M454.7 187.0h0M454.5 187.0h0M479.6 176.1h0M444.6 184.6h0M439.8 183.6h0M468.7 180.8h0M457.6 184.7h0M462.0 184.6h0M440.3 194.0h0M473.8 180.2h0M468.7 176.7h0M438.9 185.6h0M457.7 184.3h0M455.1 186.7h0M437.5 189.2h0M454.1 183.7h0M450.1 185.8h0M465.2 182.6h0M445.6 185.3h0M469.7 178.4h0M464.4 181.5h0M477.4 175.0h0M461.3 182.6h0M466.2 181.3h0M455.1 178.4h0M470.5 175.5h0M442.6 186.2h0M448.9 178.8h0M446.2 191.0h0M449.2 181.0h0M461.2 182.3h0M471.8 173.0h0M464.7 181.8h0M451.9 179.0h0M460.0 175.3h0M446.0 188.0h0M461.9 184.2h0M470.7 177.0h0M448.9 189.4h0M453.4 182.4h0M451.8 188.5h0M442.8 189.2h0M438.7 186.5h0M450.2 179.0h0M459.6 170.7h0M462.5 177.8h0M448.0 184.0h0M468.9 178.6h0M466.0 178.7h0M450.6 189.3h0M471.2 178.5h0M446.9 186.0h0M477.5 180.1h0M459.6 174.7h0M455.9 185.3h0M440.3 194.8h0M463.2 181.2h0M451.8 182.1h0M473.3 179.5h0M462.5 181.3h0M447.0 189.2h0M456.0 185.6h0M451.8 188.4h0M459.0 175.6h0M468.4 176.7h0M440.9 194.3h0M466.3 181.7h0M446.9 190.0h0M468.6 179.9h0M459.5 185.4h0M441.5 187.9h0M446.8 172.6h0M454.6 187.2h0M459.0 183.0h0M440.3 189.5h0M457.2 184.4h0M463.6 182.7h0M439.6 190.6h0M463.2 180.8h0M458.9 184.3h0M466.0 166.4h0M447.9 191.5h0M444.5 183.1h0M466.9 179.7h0M451.9 187.6h0M477.3 179.2h0M438.7 190.9h0M464.8 165.4h0M453.2 188.2h0M448.6 181.2h0M466.4 181.0h0M462.0 182.2h0M462.1 180.4h0M449.9 179.5h0M476.5 179.7h0M457.3 186.1h0M461.0 178.0h0M456.0 181.3h0M472.0 173.9h0M468.3 169.0h0M449.2 189.7h0M453.2 184.7h0M465.3 182.1h0M467.7 175.7h0M446.6 192.0h0M461.9 183.0h0M478.3 178.8h0M446.9 187.3h0M469.6 174.8h0M454.1 187.2h0M457.5 181.2h0M472.9 178.7h0M441.7 191.3h0" stroke="#222" stroke-opacity="0.50" stroke-width="1.0" stroke-linecap="round"/><path d="M450.7 189.2h0M465.1 182.7h0M461.4 183.2h0M442.8 190.7h0M448.0 179.3h0M462.9 184.0h0M445.9 191.3h0M442.3 191.0h0M461.0 183.9h0M470.2 176.9h0M473.7 178.8h0M439.6 187.1h0M472.2 178.7h0M479.2 176.3h0M459.1 180.7h0M453.6 186.8h0M472.7 178.7h0M458.6 182.9h0M448.0 191.3h0M469.6 176.6h0M468.5 176.7h0M444.8 190.8h0M461.1 176.2h0M458.9 185.2h0M440.6 195.4h0M444.8 192.9h0M441.0 194.3h0M459.3 182.0h0M461.2 183.4h0M443.8 188.3h0M443.4 194.2h0M447.8 186.4h0M459.1 182.9h0M452.2 181.7h0M452.6 188.5h0M457.4 184.1h0M461.9 181.2h0M449.5 187.2h0M444.7 191.0h0M441.5 190.5h0M443.9 192.3h0M474.6 178.8h0M447.1 191.3h0M443.6 186.0h0M440.8 193.9h0M447.3 185.7h0M452.9 186.3h0M452.0 190.2h0M442.0 192.8h0M440.2 184.3h0M454.3 178.7h0M461.0 170.9h0M442.1 194.6h0M468.6 178.8h0M457.9 181.1h0M459.7 178.1h0M454.8 186.0h0M461.0 179.7h0M446.7 183.3h0M449.2 185.4h0M464.2 177.7h0M446.4 192.4h0M455.6 186.8h0M465.2 180.0h0M453.5 187.5h0M444.5 175.0h0M455.0 180.1h0M459.0 185.8h0" stroke="#222" stroke-opacity="0.70" stroke-width="0.75" stroke-linecap="round"/><path d="M440.0 192.2h0M454.1 187.8h0M455.7 180.8h0M442.3 193.4h0M454.9 186.4h0M472.3 179.1h0M459.3 183.9h0M452.3 185.6h0M447.6 191.5h0M471.3 179.7h0M461.1 178.6h0M465.8 176.7h0M462.4 180.5h0M457.1 181.9h0M454.2 180.0h0M458.3 173.2h0M477.5 175.1h0M456.3 187.4h0M452.5 184.7h0M455.8 187.8h0M459.1 185.3h0M476.6 179.1h0M454.9 185.2h0M471.8 174.1h0M447.8 176.6h0M477.2 179.3h0M442.8 190.1h0M442.7 177.2h0M451.9 185.9h0M446.5 191.0h0M459.2 178.2h0M469.2 179.4h0M466.6 179.9h0M471.9 179.2h0M472.9 179.2h0M473.1 174.3h0M463.6 182.3h0M442.7 184.3h0M475.9 179.2h0M479.2 176.8h0M459.7 184.3h0M460.6 180.4h0M444.7 191.1h0M466.9 180.5h0M465.7 181.4h0M454.7 186.3h0M437.3 189.0h0M472.4 179.4h0M446.4 189.5h0M469.6 172.7h0M461.4 176.2h0M439.8 184.7h0M457.3 187.0h0M463.2 183.5h0M455.8 185.2h0M439.0 190.2h0" stroke="#222" stroke-opacity="0.70" stroke-width="1.0" stroke-linecap="round"/></g><path d="M476.00,181.00 L475.80,190.00 L475.20,200.00 L477.80,207.00 L478.40,213.00 L477.00,217.50 L478.91,218.09 L480.31,213.59 L480.39,212.80 L479.79,206.80 L479.67,206.30 L477.07,199.30 L477.20,200.12 L477.80,190.12 L477.80,190.04 L478.00,181.04 Z" fill="#3a3a5a" opacity="0.2" filter="url(#b1)"/><g filter="url(#b03)"><path d="M475.5 189.9h0M477.1 183.2h0M476.1 182.7h0M479.2 196.0h0M479.3 211.4h0M477.1 195.8h0M477.7 193.2h0M478.4 210.9h0M479.9 204.7h0M475.1 195.9h0M477.7 197.5h0M480.4 199.4h0M475.6 198.1h0M475.9 202.6h0M477.3 217.2h0M475.1 195.8h0" stroke="#222" stroke-opacity="0.50" stroke-width="0.75" stroke-linecap="round"/><path d="M480.1 215.0h0M475.9 198.3h0M479.6 214.1h0M476.8 217.6h0M476.9 185.2h0M477.2 193.1h0M476.3 198.6h0M479.8 212.8h0M478.7 181.3h0M478.5 210.4h0M480.7 210.0h0M482.4 183.6h0M478.1 213.5h0M480.8 214.1h0M476.2 197.4h0M476.0 182.7h0M476.6 204.3h0M477.0 191.8h0M476.9 183.9h0M477.1 217.4h0M481.0 184.3h0M476.1 191.9h0M476.5 189.2h0M476.5 185.0h0" stroke="#222" stroke-opacity="0.50" stroke-width="1.0" stroke-linecap="round"/><path d="M475.9 188.3h0M478.0 210.8h0M483.0 207.4h0M478.9 189.8h0M478.1 217.0h0M479.0 216.9h0M478.5 212.4h0M478.2 212.9h0M478.1 190.8h0M476.0 193.2h0M476.3 185.3h0M479.4 213.5h0M477.3 199.5h0M481.2 216.5h0M477.4 184.8h0M475.9 203.0h0M478.7 192.4h0M476.5 203.1h0M474.7 199.4h0M480.6 208.9h0M481.1 185.9h0M479.1 216.2h0M476.1 201.4h0M479.6 213.7h0M478.5 182.9h0M476.4 189.4h0M476.8 191.8h0M477.0 184.0h0M476.1 204.0h0M476.1 183.0h0" stroke="#222" stroke-opacity="0.70" stroke-width="1.0" stroke-linecap="round"/><path d="M477.7 212.8h0M477.1 203.2h0M477.2 194.8h0M478.4 205.4h0M482.0 217.8h0M481.8 207.9h0M478.4 210.2h0M474.8 199.2h0M478.1 206.7h0M478.6 205.5h0M478.3 206.4h0M479.5 211.7h0M476.6 187.4h0M477.1 197.7h0" stroke="#222" stroke-opacity="0.30" stroke-width="1.0" stroke-linecap="round"/><path d="M477.1 187.8h0M475.3 200.2h0M478.7 191.3h0M483.1 211.3h0M476.6 201.9h0" stroke="#222" stroke-opacity="0.90" stroke-width="1.0" stroke-linecap="round"/><path d="M474.5 198.2h0M476.0 182.3h0M477.8 217.2h0M478.1 197.6h0M476.0 192.7h0M478.7 192.0h0M478.3 209.0h0M475.4 199.3h0M478.9 186.6h0M479.4 188.2h0M475.8 185.4h0M476.2 200.8h0M480.2 213.1h0" stroke="#222" stroke-opacity="0.30" stroke-width="0.75" stroke-linecap="round"/><path d="M477.8 205.9h0M478.1 206.2h0M478.5 204.6h0M475.6 184.8h0M476.9 195.6h0M476.1 192.1h0M476.9 190.6h0M476.3 187.8h0M477.1 203.2h0" stroke="#222" stroke-opacity="0.90" stroke-width="0.75" stroke-linecap="round"/><path d="M476.8 190.1h0M477.5 185.0h0M478.0 209.3h0M475.7 204.4h0M480.0 199.7h0M475.7 187.5h0M476.3 186.1h0M478.1 217.5h0M478.0 208.0h0M476.5 193.7h0M478.9 184.5h0M481.7 194.4h0M481.9 207.3h0M475.5 197.0h0M477.3 203.1h0M477.1 206.4h0M475.9 193.6h0M477.6 217.3h0M478.1 208.7h0" stroke="#222" stroke-opacity="0.70" stroke-width="0.75" stroke-linecap="round"/></g><path d="M427.40,206.00 C428.40,203.80 429.57,201.97 432.50,199.80 C435.43,197.63 440.75,195.30 445.00,193.00 C449.25,190.70 454.17,188.00 458.00,186.00 C461.83,184.00 465.30,182.10 468.00,181.00 C470.70,179.90 472.98,178.90 474.20,179.40 C475.42,179.90 475.30,181.23 475.30,184.00 C475.30,186.77 474.37,193.00 474.20,196.00 C474.03,199.00 473.83,200.00 474.30,202.00 C474.77,204.00 476.45,206.17 477.00,208.00 C477.55,209.83 477.77,211.53 477.60,213.00 C477.43,214.47 477.27,215.70 476.00,216.80 C474.73,217.90 474.33,219.00 470.00,219.60 C465.67,220.20 455.83,220.22 450.00,220.40 C444.17,220.58 438.57,220.90 435.00,220.70 C431.43,220.50 430.02,220.48 428.60,219.20 C427.18,217.92 426.70,215.20 426.50,213.00 C426.30,210.80 426.40,208.20 427.40,206.00 Z" fill="#223ac8" stroke="#1a1a84" stroke-width="2.8" filter="url(#b06)"/><ellipse cx="462" cy="194.5" rx="10" ry="7" fill="#2a90ec" opacity="0.9" filter="url(#b2)" transform="rotate(-30 462 194.5)"/><ellipse cx="466" cy="192" rx="4" ry="5" fill="#30a8ee" opacity="0.7" filter="url(#b2)" transform="rotate(-30 466 192)"/><ellipse cx="455" cy="212.6" rx="20.5" ry="6.4" fill="#1ab2e4" opacity="1" filter="url(#b15)"/><ellipse cx="457" cy="212.8" rx="13.5" ry="3.6" fill="#2ec24e" opacity="1" filter="url(#b1)"/><ellipse cx="457.5" cy="212.6" rx="5.5" ry="1.5" fill="#9ad83a" opacity="0.9" filter="url(#b06)"/><ellipse cx="434.5" cy="213.6" rx="7.62" ry="7.62" fill="#16b4e6" filter="url(#b1)"/><ellipse cx="434.5" cy="213.6" rx="5.82" ry="5.82" fill="#2ec24a" filter="url(#b06)"/><ellipse cx="434.5" cy="213.6" rx="4.14" ry="4.14" fill="#c8dc20" filter="url(#b06)"/><ellipse cx="434.5" cy="213.6" rx="3.14" ry="3.14" fill="#f8c010" filter="url(#b06)"/><ellipse cx="434.5" cy="213.6" rx="2.13" ry="2.13" fill="#f04010" filter="url(#b03)"/><ellipse cx="434.5" cy="213.6" rx="1.23" ry="1.23" fill="#e01010" filter="url(#b03)"/><rect x="418.5" y="162.5" width="67" height="66" fill="none" stroke="#333" stroke-width="0.9"/><line x1="444.5" y1="162.5" x2="444.5" y2="228.5" stroke="#333" stroke-width="0.9" /><line x1="418.5" y1="202.5" x2="485.5" y2="202.5" stroke="#444" stroke-width="0.9" /><text x="419.7" y="169.1" font-size="6.4" fill="#222" stroke="#222" stroke-width="0.12" >0.63</text><text x="484.5" y="169.1" font-size="6.4" text-anchor="end" fill="#222" stroke="#222" stroke-width="0.12" >11.8</text><text x="419.3" y="227.9" font-size="6.4" fill="#222" stroke="#222" stroke-width="0.12" >48.0</text><text x="484.5" y="227.9" font-size="6.4" text-anchor="end" fill="#222" stroke="#222" stroke-width="0.12" >39.5</text><line x1="416.3" y1="168.5" x2="418.5" y2="168.5" stroke="#333" stroke-width="0.8" /><text x="415.6" y="171.3" font-size="6.5" text-anchor="end" fill="#333" stroke="#333" stroke-width="0.12" >10<tspan font-size="4.4" dy="-2.5">5</tspan></text><line x1="416.3" y1="184.5" x2="418.5" y2="184.5" stroke="#333" stroke-width="0.8" /><text x="415.6" y="186.3" font-size="6.5" text-anchor="end" fill="#333" stroke="#333" stroke-width="0.12" >10<tspan font-size="4.4" dy="-2.5">4</tspan></text><line x1="416.3" y1="201.5" x2="418.5" y2="201.5" stroke="#333" stroke-width="0.8" /><text x="415.6" y="203.5" font-size="6.5" text-anchor="end" fill="#333" stroke="#333" stroke-width="0.12" >10<tspan font-size="4.4" dy="-2.5">3</tspan></text><line x1="417.3" y1="179.48455006504028" x2="418.5" y2="179.48455006504028" stroke="#555" stroke-width="0.5" /><line x1="417.3" y1="176.84318117920506" x2="418.5" y2="176.84318117920506" stroke="#555" stroke-width="0.5" /><line x1="417.3" y1="174.96910013008056" x2="418.5" y2="174.96910013008056" stroke="#555" stroke-width="0.5" /><line x1="417.3" y1="173.51544993495972" x2="418.5" y2="173.51544993495972" stroke="#555" stroke-width="0.5" /><line x1="417.3" y1="172.32773124424534" x2="418.5" y2="172.32773124424534" stroke="#555" stroke-width="0.5" /><line x1="417.3" y1="171.32352939978614" x2="418.5" y2="171.32352939978614" stroke="#555" stroke-width="0.5" /><line x1="417.3" y1="170.45365019512084" x2="418.5" y2="170.45365019512084" stroke="#555" stroke-width="0.5" /><line x1="417.3" y1="169.68636235841012" x2="418.5" y2="169.68636235841012" stroke="#555" stroke-width="0.5" /><line x1="417.3" y1="196.02228407457952" x2="418.5" y2="196.02228407457952" stroke="#555" stroke-width="0.5" /><line x1="417.3" y1="192.9935144188218" x2="418.5" y2="192.9935144188218" stroke="#555" stroke-width="0.5" /><line x1="417.3" y1="190.84456814915904" x2="418.5" y2="190.84456814915904" stroke="#555" stroke-width="0.5" /><line x1="417.3" y1="189.17771592542047" x2="418.5" y2="189.17771592542047" stroke="#555" stroke-width="0.5" /><line x1="417.3" y1="187.81579849340133" x2="418.5" y2="187.81579849340133" stroke="#555" stroke-width="0.5" /><line x1="417.3" y1="186.66431371175477" x2="418.5" y2="186.66431371175477" stroke="#555" stroke-width="0.5" /><line x1="417.3" y1="185.66685222373857" x2="418.5" y2="185.66685222373857" stroke="#555" stroke-width="0.5" /><line x1="417.3" y1="184.78702883764362" x2="418.5" y2="184.78702883764362" stroke="#555" stroke-width="0.5" /><rect x="416.3" y="215.7" width="2.2" height="3" fill="#111"/><line x1="417.3" y1="207.5" x2="418.5" y2="207.5" stroke="#555" stroke-width="0.5" /><line x1="417.3" y1="211.0" x2="418.5" y2="211.0" stroke="#555" stroke-width="0.5" /><line x1="417.3" y1="213.5" x2="418.5" y2="213.5" stroke="#555" stroke-width="0.5" /><line x1="417.3" y1="221.0" x2="418.5" y2="221.0" stroke="#555" stroke-width="0.5" /><line x1="417.3" y1="224.0" x2="418.5" y2="224.0" stroke="#555" stroke-width="0.5" /><text x="410.6" y="219.3" font-size="6.4" text-anchor="middle" fill="#333" stroke="#333" stroke-width="0.12" >0</text><rect x="429.7" y="228.5" width="2.6" height="2.2" fill="#111"/><line x1="443.5" y1="228.5" x2="443.5" y2="230.7" stroke="#333" stroke-width="0.8" /><line x1="460.5" y1="228.5" x2="460.5" y2="230.7" stroke="#333" stroke-width="0.8" /><line x1="478.5" y1="228.5" x2="478.5" y2="230.7" stroke="#333" stroke-width="0.8" /><line x1="448.94761292585406" y1="228.5" x2="448.94761292585406" y2="229.7" stroke="#555" stroke-width="0.5" /><line x1="451.95877345570625" y1="228.5" x2="451.95877345570625" y2="229.7" stroke="#555" stroke-width="0.5" /><line x1="454.09522585170816" y1="228.5" x2="454.09522585170816" y2="229.7" stroke="#555" stroke-width="0.5" /><line x1="455.75238707414593" y1="228.5" x2="455.75238707414593" y2="229.7" stroke="#555" stroke-width="0.5" /><line x1="457.1063863815603" y1="228.5" x2="457.1063863815603" y2="229.7" stroke="#555" stroke-width="0.5" /><line x1="458.2511764842438" y1="228.5" x2="458.2511764842438" y2="229.7" stroke="#555" stroke-width="0.5" /><line x1="459.2428387775622" y1="228.5" x2="459.2428387775622" y2="229.7" stroke="#555" stroke-width="0.5" /><line x1="460.11754691141243" y1="228.5" x2="460.11754691141243" y2="229.7" stroke="#555" stroke-width="0.5" /><line x1="466.0476129258541" y1="228.5" x2="466.0476129258541" y2="229.7" stroke="#555" stroke-width="0.5" /><line x1="469.0587734557062" y1="228.5" x2="469.0587734557062" y2="229.7" stroke="#555" stroke-width="0.5" /><line x1="471.19522585170813" y1="228.5" x2="471.19522585170813" y2="229.7" stroke="#555" stroke-width="0.5" /><line x1="472.8523870741459" y1="228.5" x2="472.8523870741459" y2="229.7" stroke="#555" stroke-width="0.5" /><line x1="474.2063863815603" y1="228.5" x2="474.2063863815603" y2="229.7" stroke="#555" stroke-width="0.5" /><line x1="475.3511764842438" y1="228.5" x2="475.3511764842438" y2="229.7" stroke="#555" stroke-width="0.5" /><line x1="476.34283877756224" y1="228.5" x2="476.34283877756224" y2="229.7" stroke="#555" stroke-width="0.5" /><line x1="477.21754691141246" y1="228.5" x2="477.21754691141246" y2="229.7" stroke="#555" stroke-width="0.5" /><line x1="422.5" y1="228.5" x2="422.5" y2="229.7" stroke="#555" stroke-width="0.5" /><line x1="425.5" y1="228.5" x2="425.5" y2="229.7" stroke="#555" stroke-width="0.5" /><line x1="428.0" y1="228.5" x2="428.0" y2="229.7" stroke="#555" stroke-width="0.5" /><line x1="434.5" y1="228.5" x2="434.5" y2="229.7" stroke="#555" stroke-width="0.5" /><line x1="437.0" y1="228.5" x2="437.0" y2="229.7" stroke="#555" stroke-width="0.5" /><line x1="440.0" y1="228.5" x2="440.0" y2="229.7" stroke="#555" stroke-width="0.5" /><line x1="481.0" y1="228.5" x2="481.0" y2="229.7" stroke="#555" stroke-width="0.5" /><line x1="483.0" y1="228.5" x2="483.0" y2="229.7" stroke="#555" stroke-width="0.5" /><text x="430.8" y="240.2" font-size="6.2" text-anchor="middle" fill="#333" stroke="#333" stroke-width="0.12" >0</text><text x="444.4" y="240.2" font-size="6.2" text-anchor="middle" fill="#333" stroke="#333" stroke-width="0.12" >10<tspan font-size="4.4" dy="-2.5">3</tspan></text><text x="461.59999999999997" y="240.2" font-size="6.2" text-anchor="middle" fill="#333" stroke="#333" stroke-width="0.12" >10<tspan font-size="4.4" dy="-2.5">4</tspan></text><text x="477.79999999999995" y="240.2" font-size="6.2" text-anchor="middle" fill="#333" stroke="#333" stroke-width="0.12" >10<tspan font-size="4.4" dy="-2.5">5</tspan></text><g filter="url(#b03)"><path d="M378.3 278.7h0M383.8 266.7h0M380.1 274.0h0M385.4 269.2h0M380.4 268.4h0M382.8 268.5h0M380.4 279.9h0M383.5 265.7h0M381.9 269.0h0M380.0 269.6h0M379.6 265.9h0" stroke="#8a7aa8" stroke-opacity="0.30" stroke-width="0.75" stroke-linecap="round"/><path d="M380.9 267.3h0M380.4 266.2h0M380.0 267.6h0M380.9 270.4h0M383.4 278.1h0M379.8 265.9h0M381.0 269.5h0M380.3 266.6h0M381.2 272.2h0M379.6 275.3h0M382.7 273.0h0M379.9 281.6h0M381.2 266.1h0M382.2 270.6h0M379.1 281.5h0M379.3 280.0h0M379.5 268.3h0" stroke="#8a7aa8" stroke-opacity="0.30" stroke-width="1.0" stroke-linecap="round"/><path d="M382.0 265.1h0M381.1 268.5h0M380.8 265.2h0M382.3 270.3h0M378.8 277.5h0M380.6 280.7h0M381.3 272.0h0M380.9 282.5h0M380.5 266.3h0M381.3 273.4h0" stroke="#8a7aa8" stroke-opacity="0.50" stroke-width="0.75" stroke-linecap="round"/><path d="M380.6 273.6h0M380.6 281.5h0" stroke="#8a7aa8" stroke-opacity="0.50" stroke-width="1.0" stroke-linecap="round"/></g><path d="M348.10,269.40 C350.03,268.37 355.08,268.37 357.40,268.40 C359.72,268.43 359.90,269.85 362.00,269.60 C364.10,269.35 367.32,267.45 370.00,266.90 C372.68,266.35 376.33,265.88 378.10,266.30 C379.87,266.72 380.68,266.67 380.60,269.40 C380.52,272.13 378.53,279.53 377.60,282.70 C376.67,285.87 375.17,286.48 375.00,288.40 C374.83,290.32 376.55,292.50 376.60,294.20 C376.65,295.90 377.93,297.32 375.30,298.60 C372.67,299.88 364.75,301.07 360.80,301.90 C356.85,302.73 354.28,303.02 351.60,303.60 C348.92,304.18 346.53,305.60 344.70,305.40 C342.87,305.20 341.37,303.88 340.60,302.40 C339.83,300.92 339.62,299.60 340.10,296.50 C340.58,293.40 342.55,287.45 343.50,283.80 C344.45,280.15 345.03,277.00 345.80,274.60 C346.57,272.20 346.17,270.43 348.10,269.40 Z" fill="#2458da" stroke="#1a1c8e" stroke-width="2.2" filter="url(#b06)"/><ellipse cx="364.5" cy="283.5" rx="11.5" ry="13" fill="#22a6e8" opacity="0.95" filter="url(#b2)"/><ellipse cx="348.4" cy="285.5" rx="4.2" ry="13.5" fill="#2fbf5a" opacity="1" filter="url(#b15)"/><ellipse cx="349" cy="292" rx="4" ry="7" fill="#3ac040" opacity="0.9" filter="url(#b1)"/><ellipse cx="347.0" cy="297.6" rx="6.12" ry="6.80" fill="#16b4e6" filter="url(#b1)"/><ellipse cx="347.0" cy="297.6" rx="4.68" ry="5.20" fill="#2ec24a" filter="url(#b06)"/><ellipse cx="347.0" cy="297.6" rx="3.33" ry="3.70" fill="#c8dc20" filter="url(#b06)"/><ellipse cx="347.0" cy="297.6" rx="2.52" ry="2.80" fill="#f8c010" filter="url(#b06)"/><ellipse cx="347.0" cy="297.6" rx="1.71" ry="1.90" fill="#f04010" filter="url(#b03)"/><ellipse cx="347.0" cy="297.6" rx="0.99" ry="1.10" fill="#e01010" filter="url(#b03)"/><rect x="332.5" y="246.5" width="66" height="66" fill="none" stroke="#333" stroke-width="0.9"/><line x1="356.5" y1="246.5" x2="356.5" y2="312.5" stroke="#333" stroke-width="0.9" /><line x1="332.5" y1="289.5" x2="398.5" y2="289.5" stroke="#444" stroke-width="0.9" /><text x="333.7" y="253.1" font-size="6.4" fill="#222" stroke="#222" stroke-width="0.12" >12.5</text><text x="397.5" y="253.1" font-size="6.4" text-anchor="end" fill="#222" stroke="#222" stroke-width="0.12" >13.9</text><text x="333.3" y="311.9" font-size="6.4" fill="#222" stroke="#222" stroke-width="0.12" >64.4</text><text x="397.5" y="311.9" font-size="6.4" text-anchor="end" fill="#222" stroke="#222" stroke-width="0.12" >9.19</text><line x1="330.3" y1="252.5" x2="332.5" y2="252.5" stroke="#333" stroke-width="0.8" /><text x="329.3" y="255.3" font-size="6.5" text-anchor="end" fill="#333" stroke="#333" stroke-width="0.12" >10<tspan font-size="4.4" dy="-2.5">5</tspan></text><line x1="330.3" y1="268.5" x2="332.5" y2="268.5" stroke="#333" stroke-width="0.8" /><text x="329.3" y="270.3" font-size="6.5" text-anchor="end" fill="#333" stroke="#333" stroke-width="0.12" >10<tspan font-size="4.4" dy="-2.5">4</tspan></text><line x1="330.3" y1="285.5" x2="332.5" y2="285.5" stroke="#333" stroke-width="0.8" /><text x="329.3" y="287.5" font-size="6.5" text-anchor="end" fill="#333" stroke="#333" stroke-width="0.12" >10<tspan font-size="4.4" dy="-2.5">3</tspan></text><line x1="331.3" y1="263.4845500650403" x2="332.5" y2="263.4845500650403" stroke="#555" stroke-width="0.5" /><line x1="331.3" y1="260.8431811792051" x2="332.5" y2="260.8431811792051" stroke="#555" stroke-width="0.5" /><line x1="331.3" y1="258.96910013008056" x2="332.5" y2="258.96910013008056" stroke="#555" stroke-width="0.5" /><line x1="331.3" y1="257.5154499349597" x2="332.5" y2="257.5154499349597" stroke="#555" stroke-width="0.5" /><line x1="331.3" y1="256.32773124424534" x2="332.5" y2="256.32773124424534" stroke="#555" stroke-width="0.5" /><line x1="331.3" y1="255.32352939978614" x2="332.5" y2="255.32352939978614" stroke="#555" stroke-width="0.5" /><line x1="331.3" y1="254.45365019512084" x2="332.5" y2="254.45365019512084" stroke="#555" stroke-width="0.5" /><line x1="331.3" y1="253.68636235841012" x2="332.5" y2="253.68636235841012" stroke="#555" stroke-width="0.5" /><line x1="331.3" y1="280.0222840745795" x2="332.5" y2="280.0222840745795" stroke="#555" stroke-width="0.5" /><line x1="331.3" y1="276.9935144188218" x2="332.5" y2="276.9935144188218" stroke="#555" stroke-width="0.5" /><line x1="331.3" y1="274.84456814915904" x2="332.5" y2="274.84456814915904" stroke="#555" stroke-width="0.5" /><line x1="331.3" y1="273.17771592542044" x2="332.5" y2="273.17771592542044" stroke="#555" stroke-width="0.5" /><line x1="331.3" y1="271.8157984934013" x2="332.5" y2="271.8157984934013" stroke="#555" stroke-width="0.5" /><line x1="331.3" y1="270.6643137117548" x2="332.5" y2="270.6643137117548" stroke="#555" stroke-width="0.5" /><line x1="331.3" y1="269.66685222373854" x2="332.5" y2="269.66685222373854" stroke="#555" stroke-width="0.5" /><line x1="331.3" y1="268.7870288376436" x2="332.5" y2="268.7870288376436" stroke="#555" stroke-width="0.5" /><rect x="330.3" y="299.7" width="2.2" height="3" fill="#111"/><line x1="331.3" y1="291.5" x2="332.5" y2="291.5" stroke="#555" stroke-width="0.5" /><line x1="331.3" y1="295.0" x2="332.5" y2="295.0" stroke="#555" stroke-width="0.5" /><line x1="331.3" y1="297.5" x2="332.5" y2="297.5" stroke="#555" stroke-width="0.5" /><line x1="331.3" y1="305.0" x2="332.5" y2="305.0" stroke="#555" stroke-width="0.5" /><line x1="331.3" y1="308.0" x2="332.5" y2="308.0" stroke="#555" stroke-width="0.5" /><text x="324.3" y="303.3" font-size="6.4" text-anchor="middle" fill="#333" stroke="#333" stroke-width="0.12" >0</text><rect x="343.7" y="312.5" width="2.6" height="2.2" fill="#111"/><line x1="357.5" y1="312.5" x2="357.5" y2="314.7" stroke="#333" stroke-width="0.8" /><line x1="374.5" y1="312.5" x2="374.5" y2="314.7" stroke="#333" stroke-width="0.8" /><line x1="392.5" y1="312.5" x2="392.5" y2="314.7" stroke="#333" stroke-width="0.8" /><line x1="362.94761292585406" y1="312.5" x2="362.94761292585406" y2="313.7" stroke="#555" stroke-width="0.5" /><line x1="365.95877345570625" y1="312.5" x2="365.95877345570625" y2="313.7" stroke="#555" stroke-width="0.5" /><line x1="368.09522585170816" y1="312.5" x2="368.09522585170816" y2="313.7" stroke="#555" stroke-width="0.5" /><line x1="369.75238707414593" y1="312.5" x2="369.75238707414593" y2="313.7" stroke="#555" stroke-width="0.5" /><line x1="371.1063863815603" y1="312.5" x2="371.1063863815603" y2="313.7" stroke="#555" stroke-width="0.5" /><line x1="372.2511764842438" y1="312.5" x2="372.2511764842438" y2="313.7" stroke="#555" stroke-width="0.5" /><line x1="373.2428387775622" y1="312.5" x2="373.2428387775622" y2="313.7" stroke="#555" stroke-width="0.5" /><line x1="374.11754691141243" y1="312.5" x2="374.11754691141243" y2="313.7" stroke="#555" stroke-width="0.5" /><line x1="380.0476129258541" y1="312.5" x2="380.0476129258541" y2="313.7" stroke="#555" stroke-width="0.5" /><line x1="383.0587734557062" y1="312.5" x2="383.0587734557062" y2="313.7" stroke="#555" stroke-width="0.5" /><line x1="385.19522585170813" y1="312.5" x2="385.19522585170813" y2="313.7" stroke="#555" stroke-width="0.5" /><line x1="386.8523870741459" y1="312.5" x2="386.8523870741459" y2="313.7" stroke="#555" stroke-width="0.5" /><line x1="388.2063863815603" y1="312.5" x2="388.2063863815603" y2="313.7" stroke="#555" stroke-width="0.5" /><line x1="389.3511764842438" y1="312.5" x2="389.3511764842438" y2="313.7" stroke="#555" stroke-width="0.5" /><line x1="390.34283877756224" y1="312.5" x2="390.34283877756224" y2="313.7" stroke="#555" stroke-width="0.5" /><line x1="391.21754691141246" y1="312.5" x2="391.21754691141246" y2="313.7" stroke="#555" stroke-width="0.5" /><line x1="336.5" y1="312.5" x2="336.5" y2="313.7" stroke="#555" stroke-width="0.5" /><line x1="339.5" y1="312.5" x2="339.5" y2="313.7" stroke="#555" stroke-width="0.5" /><line x1="342.0" y1="312.5" x2="342.0" y2="313.7" stroke="#555" stroke-width="0.5" /><line x1="348.5" y1="312.5" x2="348.5" y2="313.7" stroke="#555" stroke-width="0.5" /><line x1="351.0" y1="312.5" x2="351.0" y2="313.7" stroke="#555" stroke-width="0.5" /><line x1="354.0" y1="312.5" x2="354.0" y2="313.7" stroke="#555" stroke-width="0.5" /><line x1="395.0" y1="312.5" x2="395.0" y2="313.7" stroke="#555" stroke-width="0.5" /><line x1="397.0" y1="312.5" x2="397.0" y2="313.7" stroke="#555" stroke-width="0.5" /><text x="344.8" y="324.4" font-size="6.2" text-anchor="middle" fill="#333" stroke="#333" stroke-width="0.12" >0</text><text x="358.4" y="324.4" font-size="6.2" text-anchor="middle" fill="#333" stroke="#333" stroke-width="0.12" >10<tspan font-size="4.4" dy="-2.5">3</tspan></text><text x="375.59999999999997" y="324.4" font-size="6.2" text-anchor="middle" fill="#333" stroke="#333" stroke-width="0.12" >10<tspan font-size="4.4" dy="-2.5">4</tspan></text><text x="391.79999999999995" y="324.4" font-size="6.2" text-anchor="middle" fill="#333" stroke="#333" stroke-width="0.12" >10<tspan font-size="4.4" dy="-2.5">5</tspan></text><g filter="url(#b03)"><path d="M467.7 293.1h0M470.5 269.5h0M468.5 273.0h0M468.8 262.8h0M470.1 266.0h0M470.0 274.0h0M471.2 276.2h0M466.9 292.0h0M472.4 268.3h0" stroke="#8a7aa8" stroke-opacity="0.50" stroke-width="0.75" stroke-linecap="round"/><path d="M468.3 289.4h0M470.4 271.9h0M471.7 265.2h0M470.1 269.4h0M467.3 264.4h0M469.5 263.1h0M467.2 263.9h0M469.4 265.6h0M464.9 287.5h0M466.7 287.2h0M466.4 292.9h0M466.0 286.8h0M466.8 289.1h0" stroke="#8a7aa8" stroke-opacity="0.30" stroke-width="1.0" stroke-linecap="round"/><path d="M472.0 265.3h0M467.2 263.5h0M469.6 264.6h0M470.0 266.6h0" stroke="#8a7aa8" stroke-opacity="0.50" stroke-width="1.0" stroke-linecap="round"/><path d="M466.1 293.2h0M470.1 291.6h0M468.4 263.0h0M471.0 269.1h0M470.8 267.1h0M470.5 274.9h0M467.5 289.1h0M468.2 287.7h0M468.1 266.7h0M470.5 266.2h0M471.6 270.2h0M470.6 270.6h0M468.1 289.2h0M472.7 269.0h0" stroke="#8a7aa8" stroke-opacity="0.30" stroke-width="0.75" stroke-linecap="round"/></g><path d="M435.30,267.70 C436.75,266.53 438.98,266.78 441.10,266.50 C443.22,266.22 445.50,266.33 448.00,266.00 C450.50,265.67 453.03,264.88 456.10,264.50 C459.17,264.12 464.08,263.37 466.40,263.70 C468.72,264.03 469.62,264.48 470.00,266.50 C470.38,268.52 469.48,272.53 468.70,275.80 C467.92,279.07 465.97,283.80 465.30,286.10 C464.63,288.40 464.52,288.25 464.70,289.60 C464.88,290.95 466.50,292.75 466.40,294.20 C466.30,295.65 466.40,297.15 464.10,298.30 C461.80,299.45 456.43,300.43 452.60,301.10 C448.77,301.77 444.37,301.53 441.10,302.30 C437.83,303.07 435.02,305.70 433.00,305.70 C430.98,305.70 429.82,303.83 429.00,302.30 C428.18,300.77 427.82,299.38 428.10,296.50 C428.38,293.62 429.98,288.83 430.70,285.00 C431.42,281.17 431.63,276.38 432.40,273.50 C433.17,270.62 433.85,268.87 435.30,267.70 Z" fill="#2458da" stroke="#1a1c8e" stroke-width="2.2" filter="url(#b06)"/><ellipse cx="452" cy="283" rx="13" ry="14" fill="#2a78e4" opacity="0.9" filter="url(#b2)"/><ellipse cx="455" cy="277.5" rx="11" ry="8.5" fill="#1cb0e0" opacity="0.95" filter="url(#b15)" transform="rotate(-20 455 277.5)"/><ellipse cx="452.5" cy="294.6" rx="12.5" ry="4.6" fill="#1cb0e0" opacity="0.95" filter="url(#b15)"/><ellipse cx="437" cy="284.5" rx="6" ry="16" fill="#1cb0e0" opacity="0.95" filter="url(#b15)"/><ellipse cx="455" cy="277" rx="7.5" ry="5.5" fill="#2cc070" opacity="0.95" filter="url(#b15)" transform="rotate(-20 455 277)"/><ellipse cx="452.5" cy="294.8" rx="9" ry="2.8" fill="#2ec25a" opacity="0.95" filter="url(#b1)"/><ellipse cx="436.5" cy="284.5" rx="4.2" ry="13" fill="#2ec24e" opacity="1" filter="url(#b15)"/><ellipse cx="435.1" cy="296.8" rx="6.46" ry="7.14" fill="#16b4e6" filter="url(#b1)"/><ellipse cx="435.1" cy="296.8" rx="4.94" ry="5.46" fill="#2ec24a" filter="url(#b06)"/><ellipse cx="435.1" cy="296.8" rx="3.52" ry="3.89" fill="#c8dc20" filter="url(#b06)"/><ellipse cx="435.1" cy="296.8" rx="2.66" ry="2.94" fill="#f8c010" filter="url(#b06)"/><ellipse cx="435.1" cy="296.8" rx="1.80" ry="1.99" fill="#f04010" filter="url(#b03)"/><ellipse cx="435.1" cy="296.8" rx="1.04" ry="1.16" fill="#e01010" filter="url(#b03)"/><rect x="418.5" y="246.5" width="67" height="66" fill="none" stroke="#333" stroke-width="0.9"/><line x1="442.5" y1="246.5" x2="442.5" y2="312.5" stroke="#333" stroke-width="0.9" /><line x1="418.5" y1="287.5" x2="485.5" y2="287.5" stroke="#444" stroke-width="0.9" /><text x="419.7" y="253.1" font-size="6.4" fill="#222" stroke="#222" stroke-width="0.12" >11.6</text><text x="484.5" y="253.1" font-size="6.4" text-anchor="end" fill="#222" stroke="#222" stroke-width="0.12" >20.1</text><text x="419.3" y="311.9" font-size="6.4" fill="#222" stroke="#222" stroke-width="0.12" >56.4</text><text x="484.5" y="311.9" font-size="6.4" text-anchor="end" fill="#222" stroke="#222" stroke-width="0.12" >11.9</text><line x1="416.3" y1="252.5" x2="418.5" y2="252.5" stroke="#333" stroke-width="0.8" /><text x="415.6" y="255.3" font-size="6.5" text-anchor="end" fill="#333" stroke="#333" stroke-width="0.12" >10<tspan font-size="4.4" dy="-2.5">5</tspan></text><line x1="416.3" y1="268.5" x2="418.5" y2="268.5" stroke="#333" stroke-width="0.8" /><text x="415.6" y="270.3" font-size="6.5" text-anchor="end" fill="#333" stroke="#333" stroke-width="0.12" >10<tspan font-size="4.4" dy="-2.5">4</tspan></text><line x1="416.3" y1="285.5" x2="418.5" y2="285.5" stroke="#333" stroke-width="0.8" /><text x="415.6" y="287.5" font-size="6.5" text-anchor="end" fill="#333" stroke="#333" stroke-width="0.12" >10<tspan font-size="4.4" dy="-2.5">3</tspan></text><line x1="417.3" y1="263.4845500650403" x2="418.5" y2="263.4845500650403" stroke="#555" stroke-width="0.5" /><line x1="417.3" y1="260.8431811792051" x2="418.5" y2="260.8431811792051" stroke="#555" stroke-width="0.5" /><line x1="417.3" y1="258.96910013008056" x2="418.5" y2="258.96910013008056" stroke="#555" stroke-width="0.5" /><line x1="417.3" y1="257.5154499349597" x2="418.5" y2="257.5154499349597" stroke="#555" stroke-width="0.5" /><line x1="417.3" y1="256.32773124424534" x2="418.5" y2="256.32773124424534" stroke="#555" stroke-width="0.5" /><line x1="417.3" y1="255.32352939978614" x2="418.5" y2="255.32352939978614" stroke="#555" stroke-width="0.5" /><line x1="417.3" y1="254.45365019512084" x2="418.5" y2="254.45365019512084" stroke="#555" stroke-width="0.5" /><line x1="417.3" y1="253.68636235841012" x2="418.5" y2="253.68636235841012" stroke="#555" stroke-width="0.5" /><line x1="417.3" y1="280.0222840745795" x2="418.5" y2="280.0222840745795" stroke="#555" stroke-width="0.5" /><line x1="417.3" y1="276.9935144188218" x2="418.5" y2="276.9935144188218" stroke="#555" stroke-width="0.5" /><line x1="417.3" y1="274.84456814915904" x2="418.5" y2="274.84456814915904" stroke="#555" stroke-width="0.5" /><line x1="417.3" y1="273.17771592542044" x2="418.5" y2="273.17771592542044" stroke="#555" stroke-width="0.5" /><line x1="417.3" y1="271.8157984934013" x2="418.5" y2="271.8157984934013" stroke="#555" stroke-width="0.5" /><line x1="417.3" y1="270.6643137117548" x2="418.5" y2="270.6643137117548" stroke="#555" stroke-width="0.5" /><line x1="417.3" y1="269.66685222373854" x2="418.5" y2="269.66685222373854" stroke="#555" stroke-width="0.5" /><line x1="417.3" y1="268.7870288376436" x2="418.5" y2="268.7870288376436" stroke="#555" stroke-width="0.5" /><rect x="416.3" y="299.7" width="2.2" height="3" fill="#111"/><line x1="417.3" y1="291.5" x2="418.5" y2="291.5" stroke="#555" stroke-width="0.5" /><line x1="417.3" y1="295.0" x2="418.5" y2="295.0" stroke="#555" stroke-width="0.5" /><line x1="417.3" y1="297.5" x2="418.5" y2="297.5" stroke="#555" stroke-width="0.5" /><line x1="417.3" y1="305.0" x2="418.5" y2="305.0" stroke="#555" stroke-width="0.5" /><line x1="417.3" y1="308.0" x2="418.5" y2="308.0" stroke="#555" stroke-width="0.5" /><text x="410.6" y="303.3" font-size="6.4" text-anchor="middle" fill="#333" stroke="#333" stroke-width="0.12" >0</text><rect x="429.7" y="312.5" width="2.6" height="2.2" fill="#111"/><line x1="443.5" y1="312.5" x2="443.5" y2="314.7" stroke="#333" stroke-width="0.8" /><line x1="460.5" y1="312.5" x2="460.5" y2="314.7" stroke="#333" stroke-width="0.8" /><line x1="478.5" y1="312.5" x2="478.5" y2="314.7" stroke="#333" stroke-width="0.8" /><line x1="448.94761292585406" y1="312.5" x2="448.94761292585406" y2="313.7" stroke="#555" stroke-width="0.5" /><line x1="451.95877345570625" y1="312.5" x2="451.95877345570625" y2="313.7" stroke="#555" stroke-width="0.5" /><line x1="454.09522585170816" y1="312.5" x2="454.09522585170816" y2="313.7" stroke="#555" stroke-width="0.5" /><line x1="455.75238707414593" y1="312.5" x2="455.75238707414593" y2="313.7" stroke="#555" stroke-width="0.5" /><line x1="457.1063863815603" y1="312.5" x2="457.1063863815603" y2="313.7" stroke="#555" stroke-width="0.5" /><line x1="458.2511764842438" y1="312.5" x2="458.2511764842438" y2="313.7" stroke="#555" stroke-width="0.5" /><line x1="459.2428387775622" y1="312.5" x2="459.2428387775622" y2="313.7" stroke="#555" stroke-width="0.5" /><line x1="460.11754691141243" y1="312.5" x2="460.11754691141243" y2="313.7" stroke="#555" stroke-width="0.5" /><line x1="466.0476129258541" y1="312.5" x2="466.0476129258541" y2="313.7" stroke="#555" stroke-width="0.5" /><line x1="469.0587734557062" y1="312.5" x2="469.0587734557062" y2="313.7" stroke="#555" stroke-width="0.5" /><line x1="471.19522585170813" y1="312.5" x2="471.19522585170813" y2="313.7" stroke="#555" stroke-width="0.5" /><line x1="472.8523870741459" y1="312.5" x2="472.8523870741459" y2="313.7" stroke="#555" stroke-width="0.5" /><line x1="474.2063863815603" y1="312.5" x2="474.2063863815603" y2="313.7" stroke="#555" stroke-width="0.5" /><line x1="475.3511764842438" y1="312.5" x2="475.3511764842438" y2="313.7" stroke="#555" stroke-width="0.5" /><line x1="476.34283877756224" y1="312.5" x2="476.34283877756224" y2="313.7" stroke="#555" stroke-width="0.5" /><line x1="477.21754691141246" y1="312.5" x2="477.21754691141246" y2="313.7" stroke="#555" stroke-width="0.5" /><line x1="422.5" y1="312.5" x2="422.5" y2="313.7" stroke="#555" stroke-width="0.5" /><line x1="425.5" y1="312.5" x2="425.5" y2="313.7" stroke="#555" stroke-width="0.5" /><line x1="428.0" y1="312.5" x2="428.0" y2="313.7" stroke="#555" stroke-width="0.5" /><line x1="434.5" y1="312.5" x2="434.5" y2="313.7" stroke="#555" stroke-width="0.5" /><line x1="437.0" y1="312.5" x2="437.0" y2="313.7" stroke="#555" stroke-width="0.5" /><line x1="440.0" y1="312.5" x2="440.0" y2="313.7" stroke="#555" stroke-width="0.5" /><line x1="481.0" y1="312.5" x2="481.0" y2="313.7" stroke="#555" stroke-width="0.5" /><line x1="483.0" y1="312.5" x2="483.0" y2="313.7" stroke="#555" stroke-width="0.5" /><text x="430.8" y="324.4" font-size="6.2" text-anchor="middle" fill="#333" stroke="#333" stroke-width="0.12" >0</text><text x="444.4" y="324.4" font-size="6.2" text-anchor="middle" fill="#333" stroke="#333" stroke-width="0.12" >10<tspan font-size="4.4" dy="-2.5">3</tspan></text><text x="461.59999999999997" y="324.4" font-size="6.2" text-anchor="middle" fill="#333" stroke="#333" stroke-width="0.12" >10<tspan font-size="4.4" dy="-2.5">4</tspan></text><text x="477.79999999999995" y="324.4" font-size="6.2" text-anchor="middle" fill="#333" stroke="#333" stroke-width="0.12" >10<tspan font-size="4.4" dy="-2.5">5</tspan></text><text x="365.3" y="157.1" font-size="7.9" text-anchor="middle" fill="#c0203c" stroke="#c0203c" stroke-width="0.05" >Mock</text><text x="452.5" y="157.1" font-size="7.9" text-anchor="middle" fill="#8c8cd2" stroke="#8c8cd2" stroke-width="0.05" >Blimp-1 KO</text><text x="488.2" y="199.0" font-size="6.4" fill="#333" stroke="#333" stroke-width="0.12" >CD4<tspan font-size="4.61" dy="-2.30">+</tspan></text><text x="488.2" y="282.7" font-size="6.4" fill="#333" stroke="#333" stroke-width="0.12" >CD8<tspan font-size="4.61" dy="-2.30">+</tspan></text><line x1="313.5" y1="312.7" x2="313.5" y2="172" stroke="#222" stroke-width="1.1" /><path d="M313.5,166.8 L310.4,173.2 L316.6,173.2 Z" fill="#111"/><text transform="translate(306.7,239.8) rotate(-90)" font-size="7.4" text-anchor="middle" fill="#222" stroke="#222" stroke-width="0.3" textLength="34.5" lengthAdjust="spacingAndGlyphs" >IFN&#947;-PE/Cy7</text><line x1="332.5" y1="328.5" x2="476" y2="328.5" stroke="#222" stroke-width="1.1" /><path d="M482.8,328.6 L475.8,325.5 L475.8,331.7 Z" fill="#111"/><text x="405.6" y="338.8" font-size="7.4" text-anchor="middle" fill="#222" stroke="#222" stroke-width="0.3" textLength="29.3" lengthAdjust="spacingAndGlyphs" >TNF&#945;-APC</text><clipPath id="cc1"><rect x="61.3" y="430" width="66.5" height="65.5"/></clipPath><g clip-path="url(#cc1)"><g filter="url(#b03)"><path d="M103.4 450.3h0M102.2 453.4h0M112.8 445.1h0M110.9 426.9h0M106.9 440.4h0M106.1 452.1h0M112.4 449.4h0M116.2 465.0h0M87.7 450.2h0M92.4 441.7h0M99.4 451.1h0M109.2 453.8h0M102.5 443.2h0M89.0 447.8h0M96.3 451.0h0M106.9 465.2h0M104.3 456.8h0M97.9 439.1h0M98.8 433.2h0M101.5 455.9h0M91.9 461.4h0M99.2 455.6h0M97.7 459.8h0M107.5 456.7h0M103.8 444.0h0M101.4 452.2h0M92.7 456.1h0M112.5 452.4h0M99.1 441.9h0M94.6 434.3h0M88.5 444.6h0M94.7 453.7h0M96.9 442.8h0M99.1 469.5h0M109.6 459.9h0M97.4 451.5h0M92.2 447.3h0M111.7 430.7h0M95.8 451.6h0M102.8 442.7h0M96.2 444.4h0M105.1 433.8h0M106.5 454.1h0M96.2 466.0h0M95.9 449.5h0M87.5 437.4h0M97.1 431.8h0M108.8 443.2h0M104.2 458.6h0M89.1 453.0h0M82.0 439.6h0M93.0 429.3h0M97.5 459.1h0M96.3 447.9h0M102.3 451.8h0M102.8 443.5h0M109.6 422.6h0M97.5 448.1h0M95.9 457.1h0M110.8 441.1h0M99.8 444.0h0M98.8 444.0h0M94.9 443.2h0M105.7 451.8h0M95.6 447.6h0M100.0 449.8h0M105.5 436.9h0M108.3 449.0h0M112.8 451.7h0M95.8 443.3h0" stroke="#666" stroke-opacity="0.30" stroke-width="0.75" stroke-linecap="round"/><path d="M106.9 461.8h0M101.2 451.0h0M101.2 456.1h0M99.4 444.1h0M93.7 442.1h0M105.5 469.0h0M105.8 455.1h0M88.4 455.4h0M94.4 462.2h0M97.1 439.7h0M99.5 428.5h0M95.3 456.9h0M93.8 445.6h0M89.3 439.3h0M83.9 444.4h0M97.5 442.7h0M93.2 452.8h0M109.7 442.1h0M87.8 440.7h0M97.5 450.4h0M105.0 440.7h0M91.1 446.2h0M88.2 445.6h0M97.0 446.7h0M87.4 446.5h0M101.4 454.5h0M97.0 435.8h0M111.7 469.1h0M108.9 451.0h0M106.4 461.1h0M93.5 463.9h0M108.2 455.8h0M101.3 440.1h0M105.3 447.4h0M96.1 451.5h0M93.7 456.0h0M107.5 447.1h0M94.7 444.6h0M99.9 453.4h0M100.4 441.2h0M101.3 460.0h0M87.1 447.6h0M111.1 423.7h0M100.4 453.0h0M88.6 439.0h0M102.9 437.3h0M88.1 465.9h0M97.5 458.6h0M91.2 440.4h0M95.1 448.1h0M103.9 442.3h0M109.9 451.7h0M90.1 445.8h0" stroke="#666" stroke-opacity="0.30" stroke-width="1.0" stroke-linecap="round"/><path d="M92.6 447.8h0M102.0 457.6h0M104.6 449.7h0M101.0 452.4h0M104.3 445.7h0M94.3 442.7h0M91.4 460.4h0M95.3 447.9h0M100.5 464.1h0M104.9 452.6h0M97.0 458.0h0M96.3 454.4h0M104.7 444.1h0M107.7 437.7h0M105.0 445.3h0M95.5 445.7h0M96.7 438.1h0M103.9 447.7h0M105.8 468.2h0M96.6 442.1h0M93.9 463.1h0M111.8 457.4h0M94.4 450.6h0" stroke="#666" stroke-opacity="0.50" stroke-width="0.75" stroke-linecap="round"/><path d="M92.0 436.4h0M107.3 461.0h0M100.6 443.1h0M89.5 451.9h0M101.5 447.6h0M97.4 438.1h0M93.8 439.5h0M105.1 451.1h0M80.3 461.2h0M99.9 455.0h0M103.2 439.2h0M91.4 454.8h0M101.1 453.6h0M89.5 455.4h0" stroke="#666" stroke-opacity="0.50" stroke-width="1.0" stroke-linecap="round"/></g><path d="M81.70,432.20 L84.00,433.60 L85.80,437.60 L90.80,442.40 L95.20,448.20 L96.20,453.00 L93.70,457.80 L87.00,463.60 L90.27,467.38 L96.97,461.58 L98.13,460.11 L100.63,455.31 L101.09,451.98 L100.09,447.18 L99.18,445.18 L94.78,439.38 L94.26,438.79 L89.26,433.99 L90.36,435.55 L88.56,431.55 L86.60,429.33 L84.30,427.93 Z" fill="#606070" opacity="0.2" filter="url(#b1)"/><g filter="url(#b03)"><path d="M96.6 443.5h0M89.2 440.4h0M94.0 468.8h0M84.6 434.6h0M95.4 450.6h0M95.4 468.2h0M93.3 470.2h0M88.4 435.8h0M95.4 456.0h0M94.9 440.7h0M96.7 452.8h0M99.8 444.0h0M98.7 468.1h0M89.3 465.5h0M95.9 448.8h0M95.7 431.4h0M96.1 467.4h0M98.8 455.0h0M94.9 432.0h0M96.3 451.4h0M96.1 457.1h0M91.8 441.6h0M95.9 449.1h0M93.1 431.0h0M95.5 439.5h0M91.9 461.4h0M99.9 444.4h0M96.9 444.6h0M90.6 465.7h0M91.2 435.4h0M95.7 446.6h0M83.0 430.7h0M85.8 437.0h0M94.6 455.6h0M92.7 444.1h0M97.0 440.9h0M97.0 452.2h0M95.9 452.6h0M89.9 440.9h0M99.4 448.9h0M94.0 435.4h0M95.8 453.6h0M88.6 437.2h0M85.4 431.9h0M91.3 441.1h0M94.8 440.5h0M94.0 443.9h0M98.3 437.1h0M89.8 433.0h0M95.2 436.9h0M88.0 462.7h0M89.8 438.8h0M87.5 436.6h0M96.3 452.1h0M98.1 445.9h0M97.6 454.9h0M94.5 447.6h0M95.3 460.5h0M92.4 437.6h0M91.4 440.9h0M91.3 465.3h0M94.8 434.2h0M95.7 469.8h0M92.5 445.0h0M91.8 459.6h0M91.7 439.2h0M88.0 426.6h0M83.6 433.5h0M92.9 461.0h0M88.8 437.9h0M99.8 469.2h0M82.0 431.1h0M86.6 437.5h0M90.4 441.2h0M92.7 440.3h0M83.2 430.3h0M94.8 436.8h0M98.1 446.6h0M83.7 434.1h0M96.1 456.0h0M101.0 449.2h0M97.6 458.9h0M96.2 439.0h0M94.4 445.9h0M91.6 440.9h0M85.3 428.5h0M94.1 464.9h0M93.6 443.4h0M89.7 465.3h0M99.6 450.4h0M88.4 436.9h0M90.9 440.7h0M95.8 463.4h0M97.4 448.6h0M93.5 444.1h0M85.2 437.3h0M110.2 462.4h0M83.4 430.7h0M90.7 435.7h0M90.8 466.4h0M84.4 434.8h0M95.8 453.9h0M100.1 447.7h0M93.0 459.1h0" stroke="#484848" stroke-opacity="0.50" stroke-width="1.0" stroke-linecap="round"/><path d="M87.7 435.2h0M97.9 445.3h0M103.6 481.7h0M86.4 433.6h0M87.7 437.5h0M89.3 464.2h0M96.2 428.1h0M97.3 451.3h0M87.8 440.6h0M106.9 461.8h0M98.0 457.5h0M93.5 445.8h0M93.1 459.3h0M90.7 461.5h0M99.1 443.8h0M87.7 435.6h0M94.6 456.1h0M89.9 438.5h0M95.8 450.9h0M95.0 448.4h0M85.4 433.0h0M92.2 439.8h0M92.9 443.3h0M87.9 437.8h0M106.4 448.3h0M91.1 435.2h0M86.1 425.1h0M96.8 451.9h0M94.7 462.3h0M100.4 461.0h0M88.3 462.4h0M89.9 436.0h0M106.2 460.6h0M95.6 440.1h0M97.8 443.1h0M94.2 459.1h0M83.7 432.1h0M88.3 438.0h0M94.0 442.9h0M90.0 461.5h0M92.4 441.9h0M90.4 441.4h0M103.0 477.4h0M93.2 436.6h0M98.4 456.0h0M89.5 462.6h0M99.5 440.5h0M102.2 457.2h0M97.3 457.8h0M93.2 441.2h0M93.4 458.7h0M94.7 465.2h0M86.0 437.1h0M97.8 458.3h0M92.9 444.1h0M99.5 471.1h0M96.2 441.1h0M87.1 439.1h0M109.7 448.3h0M90.3 433.1h0M112.3 445.9h0M90.3 440.5h0M95.0 446.5h0M97.5 444.8h0M83.6 431.9h0M96.2 460.8h0M94.7 464.6h0M97.6 431.4h0M97.0 458.5h0M94.5 436.6h0M94.5 445.9h0M97.2 451.6h0M92.5 463.6h0M107.9 446.9h0M91.9 465.3h0M95.5 457.5h0M86.2 428.7h0M96.8 445.7h0M93.2 465.0h0M87.6 426.4h0M105.4 430.7h0M91.8 440.4h0M100.0 465.6h0M105.4 476.4h0M94.5 455.8h0M92.9 465.2h0M83.7 433.3h0M99.7 459.9h0M83.2 432.9h0M94.4 462.4h0M86.6 438.4h0M93.6 446.4h0M91.7 460.0h0M94.9 462.5h0M96.0 452.9h0M95.0 447.9h0M87.1 438.5h0M100.1 457.4h0M93.9 460.9h0M92.8 442.4h0M103.0 451.4h0M98.8 455.4h0M84.2 429.8h0M94.4 445.3h0M94.4 468.2h0M88.9 434.3h0M94.0 430.7h0" stroke="#484848" stroke-opacity="0.30" stroke-width="0.75" stroke-linecap="round"/><path d="M91.0 431.4h0M94.7 467.1h0M113.7 417.7h0M94.7 445.8h0M97.4 450.5h0M98.0 451.4h0M93.0 466.4h0M95.1 431.1h0M95.0 454.5h0M90.7 438.6h0M94.4 462.5h0M96.7 446.4h0M95.3 447.5h0M97.7 451.6h0M100.9 457.8h0M90.1 466.6h0M100.0 437.5h0M105.0 440.2h0M97.9 449.5h0M94.8 458.2h0M93.7 442.0h0M93.7 443.9h0M91.1 466.0h0M95.9 462.0h0M95.4 432.8h0M95.7 449.1h0M95.1 444.7h0M91.0 440.0h0M87.9 424.6h0M92.8 460.6h0M95.8 455.9h0M93.9 447.0h0M87.0 437.6h0M94.1 445.2h0M87.5 438.9h0M91.8 437.0h0M96.6 454.3h0M97.8 448.5h0M99.6 456.2h0M82.5 431.7h0M96.6 462.9h0M95.4 446.0h0M93.1 433.8h0M98.4 440.6h0M94.6 444.9h0M88.8 464.4h0M82.5 433.6h0M99.4 451.1h0M87.5 428.1h0M106.8 447.6h0M98.7 449.4h0M96.2 450.9h0M91.0 438.2h0M99.1 450.3h0M85.2 429.7h0M95.2 437.9h0M100.1 450.7h0M95.0 462.9h0M108.8 432.3h0M93.3 445.2h0M94.9 432.3h0M87.4 437.0h0M95.2 455.3h0M82.8 432.0h0M97.0 441.7h0M85.7 433.1h0M97.3 465.3h0M87.7 463.2h0M97.1 450.6h0M95.4 440.8h0M88.5 439.4h0M90.3 438.0h0M87.2 436.5h0M95.9 461.6h0M82.4 432.5h0M89.9 439.0h0M102.0 460.9h0M106.0 448.2h0M95.1 456.0h0M101.2 456.2h0M83.4 432.8h0M84.3 434.9h0M96.8 449.1h0M92.8 433.8h0M93.2 440.8h0" stroke="#484848" stroke-opacity="0.70" stroke-width="1.0" stroke-linecap="round"/><path d="M99.7 455.2h0M89.4 464.9h0M103.6 447.6h0M89.3 465.0h0M101.4 450.9h0M101.6 447.9h0M95.8 449.8h0M95.3 446.2h0M93.7 457.9h0M82.3 431.1h0M84.1 435.0h0M87.3 436.3h0M100.3 452.8h0M93.3 429.7h0M83.0 433.5h0M84.6 433.2h0M98.1 470.8h0M98.0 448.8h0M92.4 460.5h0M95.6 462.6h0M99.2 449.3h0M95.7 441.3h0M90.9 464.4h0M94.2 431.7h0M96.2 434.0h0M95.8 449.8h0M96.8 446.4h0M94.8 466.7h0M94.2 446.9h0M96.7 456.0h0M95.5 443.5h0M93.3 434.7h0M91.5 438.9h0M101.1 442.1h0M84.7 431.9h0M91.6 460.6h0M95.8 456.1h0M92.7 430.9h0M92.9 443.4h0M91.2 439.8h0M108.4 459.9h0M88.1 463.6h0M98.8 447.9h0M94.5 459.4h0M92.3 442.4h0M87.9 463.2h0M91.2 462.4h0M95.5 456.0h0M88.2 462.4h0M92.6 434.6h0M104.0 437.6h0M85.5 434.1h0M88.3 437.6h0M84.8 435.9h0M102.7 441.3h0M97.2 458.0h0M96.5 452.4h0M96.0 456.2h0M92.6 460.5h0M96.0 455.9h0M95.7 456.5h0M96.2 453.3h0M88.4 464.3h0M94.9 448.0h0M86.1 437.8h0M83.6 430.1h0M93.7 462.4h0M91.0 461.7h0M109.8 436.5h0M86.4 433.4h0M96.3 446.1h0M101.6 456.9h0M87.3 430.2h0M89.7 433.0h0M106.4 461.1h0M94.2 443.8h0M89.3 461.4h0M92.1 445.2h0M91.7 468.5h0M83.4 430.4h0M93.4 460.9h0M90.4 434.5h0M89.0 439.7h0M100.1 431.7h0M88.6 461.7h0M92.5 463.8h0M95.5 440.8h0M87.0 435.5h0M104.2 475.0h0M82.4 432.2h0M95.4 445.7h0M89.6 439.1h0M92.2 443.7h0M87.2 437.6h0M96.4 461.1h0M97.1 458.8h0M97.4 442.5h0M85.6 427.7h0M110.2 448.1h0" stroke="#484848" stroke-opacity="0.30" stroke-width="1.0" stroke-linecap="round"/><path d="M87.4 437.4h0M88.4 437.7h0M88.6 436.7h0M90.8 421.0h0M98.8 456.4h0M108.9 461.9h0M88.1 436.8h0M88.7 462.8h0M90.6 462.9h0M89.2 441.3h0M95.6 460.3h0M90.6 433.8h0M118.2 448.5h0M92.4 459.5h0M95.5 440.0h0M100.5 443.0h0M89.2 464.8h0M98.2 433.7h0M104.4 477.3h0M105.4 447.5h0M103.2 458.1h0M92.3 465.8h0M94.0 457.8h0M99.0 451.9h0M99.5 443.2h0M87.8 438.3h0M91.5 463.0h0M88.7 440.8h0M83.4 433.9h0M108.9 446.6h0M112.2 466.2h0M96.5 466.2h0M95.1 439.7h0M97.6 465.0h0M85.9 432.9h0M89.3 435.0h0M100.8 459.3h0M84.7 431.5h0M92.5 462.0h0M86.2 434.7h0M99.0 455.4h0M105.6 459.5h0M97.6 455.1h0M95.7 458.4h0M97.3 450.4h0M96.5 447.5h0M90.8 436.6h0M92.3 442.8h0M92.1 442.3h0M94.1 431.5h0M96.1 458.2h0M92.9 432.4h0M94.3 444.7h0M95.9 444.0h0M88.1 464.5h0M95.5 452.3h0M82.6 431.6h0M96.4 462.8h0M86.1 436.1h0M106.7 449.0h0M96.7 450.1h0M87.9 435.9h0M90.2 439.0h0M101.7 450.0h0M96.1 451.2h0M86.3 438.3h0M83.4 431.9h0M99.4 471.0h0M89.6 462.7h0" stroke="#484848" stroke-opacity="0.70" stroke-width="0.75" stroke-linecap="round"/><path d="M90.6 434.3h0M87.8 433.5h0M82.7 431.6h0M99.5 457.8h0M97.4 451.5h0M100.1 440.9h0M92.1 464.9h0M95.9 454.7h0M97.7 433.6h0M99.5 451.6h0M94.8 440.6h0M88.1 439.1h0M93.6 460.6h0M90.3 422.0h0M89.7 423.3h0M92.0 441.8h0M92.5 438.5h0M96.7 454.8h0M92.4 442.2h0M84.3 433.4h0M88.9 433.3h0M91.1 440.6h0M85.1 435.7h0M82.8 431.8h0M91.9 463.9h0M96.9 453.5h0M93.0 458.7h0M113.5 431.9h0M95.3 457.3h0M106.3 448.1h0M98.1 463.6h0M86.7 437.5h0M93.0 441.9h0M99.0 459.8h0M99.1 458.2h0M88.2 463.2h0M94.7 444.0h0M88.8 440.4h0M87.6 439.7h0M98.2 456.4h0M83.2 429.6h0M93.4 468.9h0M93.9 433.4h0M99.1 456.4h0M95.7 449.5h0M96.0 445.2h0M84.5 436.0h0M89.4 460.9h0M101.9 427.4h0M107.2 450.2h0M95.9 457.4h0M90.8 432.9h0M92.3 433.1h0M92.8 441.8h0M95.2 459.2h0M93.3 431.9h0M86.7 436.2h0M87.5 427.4h0M94.1 457.6h0M93.1 458.3h0M92.3 441.0h0M90.5 434.0h0M97.1 448.6h0M86.9 439.5h0M96.5 450.3h0M93.6 460.6h0M97.9 456.4h0M94.2 457.7h0M85.0 432.9h0M92.9 434.5h0M106.4 461.5h0M90.7 434.1h0M110.7 431.0h0M90.7 437.7h0M88.6 438.4h0M88.8 438.8h0M100.0 456.2h0M87.4 463.4h0M97.8 457.0h0M97.0 452.5h0M96.1 453.6h0M109.6 461.2h0M92.1 443.9h0M94.9 465.5h0M94.5 437.2h0M89.0 434.7h0M90.3 440.5h0M98.2 458.5h0M96.0 464.2h0M92.6 436.1h0M93.9 463.4h0M83.9 432.7h0M91.8 463.5h0M100.3 458.8h0M84.2 431.6h0M87.3 436.3h0" stroke="#484848" stroke-opacity="0.50" stroke-width="0.75" stroke-linecap="round"/></g><g filter="url(#b03)"><path d="M74.0 456.5h0M77.1 447.5h0M74.8 478.6h0M75.8 477.0h0M73.4 463.1h0M73.0 450.8h0M74.5 472.3h0M76.2 443.6h0M75.1 457.9h0M79.1 436.3h0M70.9 468.2h0M75.1 455.8h0M76.1 439.7h0M77.5 477.5h0M75.3 449.2h0M75.5 462.0h0M75.2 472.4h0" stroke="#8a7a9a" stroke-opacity="0.50" stroke-width="0.75" stroke-linecap="round"/><path d="M72.7 465.3h0M77.8 434.5h0M72.1 465.9h0M76.5 446.8h0M76.6 445.0h0M75.5 462.0h0M73.6 451.1h0M74.2 467.5h0M75.4 466.6h0M76.9 445.8h0M77.4 435.3h0M74.4 466.7h0M78.3 437.2h0M76.4 477.1h0" stroke="#8a7a9a" stroke-opacity="0.70" stroke-width="1.0" stroke-linecap="round"/><path d="M75.3 472.5h0M73.7 461.0h0M73.8 463.7h0M72.7 460.4h0M75.4 468.9h0M75.3 469.5h0M75.1 450.2h0" stroke="#8a7a9a" stroke-opacity="0.70" stroke-width="0.75" stroke-linecap="round"/><path d="M74.1 475.3h0M75.3 473.4h0M76.9 477.0h0M74.2 457.5h0M74.5 460.1h0" stroke="#8a7a9a" stroke-opacity="0.30" stroke-width="1.0" stroke-linecap="round"/><path d="M72.3 475.8h0M75.3 451.4h0M71.5 471.3h0M77.7 477.6h0" stroke="#8a7a9a" stroke-opacity="0.90" stroke-width="1.0" stroke-linecap="round"/><path d="M75.1 473.4h0M75.6 452.4h0M78.3 434.2h0M77.0 439.8h0M74.6 453.9h0M75.4 456.4h0" stroke="#8a7a9a" stroke-opacity="0.50" stroke-width="1.0" stroke-linecap="round"/><path d="M73.9 469.0h0M72.2 472.7h0M77.6 434.8h0" stroke="#8a7a9a" stroke-opacity="0.90" stroke-width="0.75" stroke-linecap="round"/><path d="M77.3 476.9h0M74.6 437.1h0M75.7 439.0h0M78.2 440.7h0" stroke="#8a7a9a" stroke-opacity="0.30" stroke-width="0.75" stroke-linecap="round"/></g><path d="M79.60,433.50 C80.18,432.28 80.97,432.18 81.70,432.20 C82.43,432.22 83.32,432.70 84.00,433.60 C84.68,434.50 84.67,436.13 85.80,437.60 C86.93,439.07 89.23,440.63 90.80,442.40 C92.37,444.17 94.30,446.43 95.20,448.20 C96.10,449.97 96.45,451.40 96.20,453.00 C95.95,454.60 95.23,456.03 93.70,457.80 C92.17,459.57 88.83,461.83 87.00,463.60 C85.17,465.37 83.73,466.80 82.70,468.40 C81.67,470.00 81.42,471.72 80.80,473.20 C80.18,474.68 79.53,476.62 79.00,477.30 C78.47,477.98 78.12,477.50 77.60,477.30 C77.08,477.10 76.33,477.58 75.90,476.10 C75.47,474.62 75.10,471.42 75.00,468.40 C74.90,465.38 75.05,461.57 75.30,458.00 C75.55,454.43 76.02,450.08 76.50,447.00 C76.98,443.92 77.68,441.75 78.20,439.50 C78.72,437.25 79.02,434.72 79.60,433.50 Z" fill="#2134b8" stroke="#1a1a84" stroke-width="1.8" filter="url(#b03)"/><ellipse cx="84" cy="451" rx="5" ry="9" fill="#2448d0" opacity="0.7" filter="url(#b15)"/><ellipse cx="79.3" cy="454" rx="3.3" ry="20" fill="#1ca8e6" opacity="1" filter="url(#b1)" transform="rotate(2 79.3 454)"/><ellipse cx="79.0" cy="456.5" rx="2.2" ry="12" fill="#2ec050" opacity="1" filter="url(#b1)" transform="rotate(2 79.0 456.5)"/><ellipse cx="78.9" cy="457" rx="1.5" ry="7" fill="#c8d820" opacity="1" filter="url(#b06)" transform="rotate(2 78.9 457)"/><ellipse cx="78.9" cy="457.5" rx="1.0" ry="4.5" fill="#f0a010" opacity="1" filter="url(#b06)" transform="rotate(2 78.9 457.5)"/></g><rect x="61.5" y="429.5" width="66" height="66" fill="none" stroke="#444" stroke-width="0.8"/><polyline points="79.8,476.5 78.4,482.3 127.9,481.6" fill="none" stroke="#7a7a7a" stroke-width="0.8"/><text x="96.6" y="477.40000000000003" font-size="6.2" fill="#333" stroke="#333" stroke-width="0.12" >5.35%</text><line x1="58.8" y1="495.5" x2="61.5" y2="495.5" stroke="#333" stroke-width="0.8" /><text x="55.7" y="497.5" font-size="6.0" text-anchor="end" fill="#333" stroke="#333" stroke-width="0.12" >0</text><line x1="60.2" y1="492.79" x2="61.5" y2="492.79" stroke="#666" stroke-width="0.5" /><line x1="60.2" y1="490.28000000000003" x2="61.5" y2="490.28000000000003" stroke="#666" stroke-width="0.5" /><line x1="60.2" y1="487.77" x2="61.5" y2="487.77" stroke="#666" stroke-width="0.5" /><line x1="60.2" y1="485.26" x2="61.5" y2="485.26" stroke="#666" stroke-width="0.5" /><line x1="58.8" y1="482.5" x2="61.5" y2="482.5" stroke="#333" stroke-width="0.8" /><text x="55.7" y="484.95" font-size="6.0" text-anchor="end" fill="#333" stroke="#333" stroke-width="0.12" >50K</text><line x1="60.2" y1="480.24" x2="61.5" y2="480.24" stroke="#666" stroke-width="0.5" /><line x1="60.2" y1="477.73" x2="61.5" y2="477.73" stroke="#666" stroke-width="0.5" /><line x1="60.2" y1="475.22" x2="61.5" y2="475.22" stroke="#666" stroke-width="0.5" /><line x1="60.2" y1="472.71" x2="61.5" y2="472.71" stroke="#666" stroke-width="0.5" /><line x1="58.8" y1="470.5" x2="61.5" y2="470.5" stroke="#333" stroke-width="0.8" /><text x="55.7" y="472.4" font-size="6.0" text-anchor="end" fill="#333" stroke="#333" stroke-width="0.12" >100K</text><line x1="60.2" y1="467.69" x2="61.5" y2="467.69" stroke="#666" stroke-width="0.5" /><line x1="60.2" y1="465.18" x2="61.5" y2="465.18" stroke="#666" stroke-width="0.5" /><line x1="60.2" y1="462.66999999999996" x2="61.5" y2="462.66999999999996" stroke="#666" stroke-width="0.5" /><line x1="60.2" y1="460.15999999999997" x2="61.5" y2="460.15999999999997" stroke="#666" stroke-width="0.5" /><line x1="58.8" y1="457.5" x2="61.5" y2="457.5" stroke="#333" stroke-width="0.8" /><text x="55.7" y="459.84999999999997" font-size="6.0" text-anchor="end" fill="#333" stroke="#333" stroke-width="0.12" >150K</text><line x1="60.2" y1="455.14" x2="61.5" y2="455.14" stroke="#666" stroke-width="0.5" /><line x1="60.2" y1="452.63" x2="61.5" y2="452.63" stroke="#666" stroke-width="0.5" /><line x1="60.2" y1="450.12" x2="61.5" y2="450.12" stroke="#666" stroke-width="0.5" /><line x1="60.2" y1="447.60999999999996" x2="61.5" y2="447.60999999999996" stroke="#666" stroke-width="0.5" /><line x1="58.8" y1="445.5" x2="61.5" y2="445.5" stroke="#333" stroke-width="0.8" /><text x="55.7" y="447.3" font-size="6.0" text-anchor="end" fill="#333" stroke="#333" stroke-width="0.12" >200K</text><line x1="60.2" y1="442.59000000000003" x2="61.5" y2="442.59000000000003" stroke="#666" stroke-width="0.5" /><line x1="60.2" y1="440.08000000000004" x2="61.5" y2="440.08000000000004" stroke="#666" stroke-width="0.5" /><line x1="60.2" y1="437.57000000000005" x2="61.5" y2="437.57000000000005" stroke="#666" stroke-width="0.5" /><line x1="60.2" y1="435.06" x2="61.5" y2="435.06" stroke="#666" stroke-width="0.5" /><line x1="58.8" y1="432.5" x2="61.5" y2="432.5" stroke="#333" stroke-width="0.8" /><text x="55.7" y="434.75" font-size="6.0" text-anchor="end" fill="#333" stroke="#333" stroke-width="0.12" >250K</text><rect x="74.5" y="495.5" width="3" height="2.0" fill="#111"/><line x1="64.5" y1="495.5" x2="64.5" y2="497.7" stroke="#333" stroke-width="0.8" /><line x1="87.5" y1="495.5" x2="87.5" y2="497.7" stroke="#333" stroke-width="0.8" /><line x1="106.5" y1="495.5" x2="106.5" y2="497.7" stroke="#333" stroke-width="0.8" /><line x1="121.5" y1="495.5" x2="121.5" y2="497.7" stroke="#333" stroke-width="0.8" /><line x1="93.06905491978365" y1="495.5" x2="93.06905491978365" y2="496.7" stroke="#555" stroke-width="0.5" /><line x1="96.32674321231376" y1="495.5" x2="96.32674321231376" y2="496.7" stroke="#555" stroke-width="0.5" /><line x1="98.6381098395673" y1="495.5" x2="98.6381098395673" y2="496.7" stroke="#555" stroke-width="0.5" /><line x1="100.43094508021635" y1="495.5" x2="100.43094508021635" y2="496.7" stroke="#555" stroke-width="0.5" /><line x1="101.89579813209741" y1="495.5" x2="101.89579813209741" y2="496.7" stroke="#555" stroke-width="0.5" /><line x1="103.13431374026375" y1="495.5" x2="103.13431374026375" y2="496.7" stroke="#555" stroke-width="0.5" /><line x1="104.20716475935096" y1="495.5" x2="104.20716475935096" y2="496.7" stroke="#555" stroke-width="0.5" /><line x1="105.15348642462752" y1="495.5" x2="105.15348642462752" y2="496.7" stroke="#555" stroke-width="0.5" /><line x1="110.63586193322531" y1="495.5" x2="110.63586193322531" y2="496.7" stroke="#555" stroke-width="0.5" /><line x1="113.34766732268281" y1="495.5" x2="113.34766732268281" y2="496.7" stroke="#555" stroke-width="0.5" /><line x1="115.27172386645063" y1="495.5" x2="115.27172386645063" y2="496.7" stroke="#555" stroke-width="0.5" /><line x1="116.76413806677469" y1="495.5" x2="116.76413806677469" y2="496.7" stroke="#555" stroke-width="0.5" /><line x1="117.98352925590811" y1="495.5" x2="117.98352925590811" y2="496.7" stroke="#555" stroke-width="0.5" /><line x1="119.01450981621956" y1="495.5" x2="119.01450981621956" y2="496.7" stroke="#555" stroke-width="0.5" /><line x1="119.90758579967593" y1="495.5" x2="119.90758579967593" y2="496.7" stroke="#555" stroke-width="0.5" /><line x1="120.6953346453656" y1="495.5" x2="120.6953346453656" y2="496.7" stroke="#555" stroke-width="0.5" /><line x1="67.0" y1="495.5" x2="67.0" y2="496.7" stroke="#555" stroke-width="0.5" /><line x1="69.5" y1="495.5" x2="69.5" y2="496.7" stroke="#555" stroke-width="0.5" /><line x1="72.0" y1="495.5" x2="72.0" y2="496.7" stroke="#555" stroke-width="0.5" /><line x1="79.5" y1="495.5" x2="79.5" y2="496.7" stroke="#555" stroke-width="0.5" /><line x1="82.0" y1="495.5" x2="82.0" y2="496.7" stroke="#555" stroke-width="0.5" /><line x1="84.5" y1="495.5" x2="84.5" y2="496.7" stroke="#555" stroke-width="0.5" /><line x1="123.5" y1="495.5" x2="123.5" y2="496.7" stroke="#555" stroke-width="0.5" /><line x1="126.0" y1="495.5" x2="126.0" y2="496.7" stroke="#555" stroke-width="0.5" /><text x="63.8" y="507.2" font-size="6.2" text-anchor="middle" fill="#333" stroke="#333" stroke-width="0.12" >&#8722;10<tspan font-size="4.4" dy="-2.5">3</tspan></text><text x="76.0" y="507.2" font-size="6.2" text-anchor="middle" fill="#333" stroke="#333" stroke-width="0.12" >0</text><text x="87.8" y="507.2" font-size="6.2" text-anchor="middle" fill="#333" stroke="#333" stroke-width="0.12" >10<tspan font-size="4.4" dy="-2.5">3</tspan></text><text x="105.5" y="507.2" font-size="6.2" text-anchor="middle" fill="#333" stroke="#333" stroke-width="0.12" >10<tspan font-size="4.4" dy="-2.5">4</tspan></text><text x="121.0" y="507.2" font-size="6.2" text-anchor="middle" fill="#333" stroke="#333" stroke-width="0.12" >10<tspan font-size="4.4" dy="-2.5">5</tspan></text><clipPath id="cc2"><rect x="162.7" y="430.3" width="65.8" height="65.3"/></clipPath><g clip-path="url(#cc2)"><g filter="url(#b03)"><path d="M212.3 448.9h0M202.1 465.3h0M208.0 446.4h0M193.6 452.0h0M205.4 445.9h0M213.9 450.7h0M207.5 466.3h0M209.7 436.8h0M192.4 438.5h0M218.5 442.2h0M209.8 447.3h0M211.7 447.9h0M210.6 455.1h0M215.2 458.4h0M211.3 451.4h0M198.4 461.4h0M210.9 435.8h0M206.7 439.9h0M212.6 441.1h0M204.7 455.8h0M215.8 428.0h0" stroke="#666" stroke-opacity="0.50" stroke-width="0.75" stroke-linecap="round"/><path d="M196.8 446.3h0M212.5 444.3h0M211.4 445.4h0M209.9 446.8h0M203.7 442.6h0M191.2 461.5h0M195.3 448.4h0M205.8 454.4h0M199.8 444.3h0M223.5 441.8h0M206.2 450.9h0M203.5 421.6h0M208.7 437.3h0M226.9 438.7h0M207.8 457.4h0M213.2 445.0h0M211.9 451.2h0M213.2 455.7h0M207.8 445.4h0M213.4 441.4h0M202.6 443.9h0M203.2 440.4h0M214.5 434.7h0M209.8 450.1h0M207.4 438.9h0M211.9 439.4h0M204.8 438.6h0M210.5 455.5h0M197.2 444.5h0M213.5 447.4h0M200.5 450.8h0M219.1 440.7h0M197.1 447.1h0M208.4 448.6h0M218.4 446.5h0M212.9 449.3h0M218.4 441.5h0M206.4 444.3h0M200.4 439.2h0M209.1 439.4h0M205.5 454.5h0M205.9 455.6h0M196.1 440.3h0M204.0 441.6h0M203.7 445.7h0M204.9 435.2h0M211.3 437.4h0M206.7 448.7h0M199.9 450.3h0M206.6 449.4h0M203.9 440.0h0M210.0 442.5h0M208.9 451.6h0M215.2 448.2h0M223.1 437.1h0M216.5 443.8h0M206.9 445.8h0M205.7 444.0h0M219.8 440.6h0M209.6 440.3h0M207.0 442.1h0M204.0 449.6h0M215.3 434.8h0M215.1 440.7h0M208.2 449.7h0M210.1 443.5h0M206.9 459.6h0M217.1 449.8h0M207.3 457.1h0M206.4 441.6h0M203.9 445.0h0M200.0 453.0h0M192.9 443.3h0M201.6 467.8h0M197.8 428.5h0" stroke="#666" stroke-opacity="0.30" stroke-width="0.75" stroke-linecap="round"/><path d="M212.7 436.9h0M219.3 446.9h0M225.2 446.9h0M214.1 438.9h0M208.0 442.5h0M209.3 449.5h0M208.3 447.4h0M203.7 428.2h0M213.1 470.0h0M202.4 439.4h0M205.8 447.3h0M210.7 465.6h0" stroke="#666" stroke-opacity="0.50" stroke-width="1.0" stroke-linecap="round"/><path d="M207.8 446.3h0M207.3 434.4h0M210.1 447.7h0M190.6 447.2h0M207.2 440.2h0M197.7 435.8h0M192.6 432.9h0M201.1 440.8h0M208.8 443.8h0M222.4 446.4h0M203.5 445.7h0M207.0 447.4h0M202.3 453.1h0M200.1 466.8h0M214.2 453.7h0M210.9 434.3h0M213.9 445.2h0M206.7 446.3h0M197.1 457.1h0M198.1 436.6h0M199.6 438.1h0M211.1 439.8h0M202.1 429.4h0M212.5 457.2h0M211.6 448.5h0M212.5 445.6h0M211.1 450.9h0M207.6 439.5h0M224.1 438.5h0M209.8 452.2h0M211.3 459.3h0M193.7 432.0h0M216.1 452.3h0M215.9 453.6h0M195.8 449.2h0M217.7 446.6h0M196.9 440.2h0M216.1 450.8h0M199.2 430.4h0M207.3 443.9h0M221.4 432.5h0M202.1 453.1h0M206.0 456.5h0M216.3 438.4h0M215.5 443.3h0M209.9 426.5h0M209.2 419.6h0M219.4 445.6h0M212.5 460.8h0M203.1 433.3h0M203.2 441.9h0M203.3 438.8h0M211.1 458.5h0M199.2 434.5h0M209.6 450.2h0M214.6 429.0h0M203.1 441.1h0M216.7 451.2h0M206.9 452.7h0M211.6 425.7h0M205.4 443.2h0M194.6 454.4h0" stroke="#666" stroke-opacity="0.30" stroke-width="1.0" stroke-linecap="round"/></g><path d="M187.00,429.00 L190.90,433.80 L197.60,437.60 L201.50,439.50 L204.30,444.30 L205.40,450.10 L203.40,454.90 L197.60,458.80 L189.90,462.10 L185.10,465.50 L187.99,469.58 L192.79,466.18 L191.87,466.70 L199.57,463.40 L200.39,462.95 L206.19,459.05 L208.02,456.82 L210.02,452.02 L210.31,449.17 L209.21,443.37 L208.62,441.78 L205.82,436.98 L203.69,435.01 L199.79,433.11 L200.07,433.25 L193.37,429.45 L194.78,430.65 L190.88,425.85 Z" fill="#606070" opacity="0.2" filter="url(#b1)"/><g filter="url(#b03)"><path d="M200.2 432.5h0M201.3 436.1h0M206.6 453.2h0M188.2 464.8h0M207.6 454.8h0M208.4 453.0h0M191.4 431.2h0M192.4 461.9h0M193.8 461.7h0M206.9 425.2h0M191.6 433.7h0M209.1 441.6h0M205.1 444.0h0M205.4 448.4h0M202.7 458.6h0M194.5 430.6h0M200.8 456.4h0M196.9 425.2h0M204.4 444.1h0M196.0 434.0h0M209.8 435.7h0M192.6 433.2h0M204.4 453.3h0M203.9 444.2h0M195.8 477.6h0M207.4 442.5h0M194.9 464.3h0M199.4 437.5h0M199.6 426.6h0M187.9 464.4h0M200.5 425.4h0M205.3 453.8h0M202.2 458.9h0M203.9 460.0h0M192.6 467.7h0M196.6 423.9h0M215.7 454.5h0M198.5 435.2h0M205.8 451.1h0M193.8 424.4h0M208.5 454.8h0M198.6 459.1h0M204.1 437.9h0M197.4 461.6h0M193.5 429.1h0M211.3 456.8h0M202.7 458.3h0M193.4 428.4h0M192.6 470.6h0M206.6 454.5h0M205.6 460.6h0M196.7 466.8h0M192.2 432.2h0M186.9 464.5h0M195.3 460.0h0M208.9 455.7h0M200.0 458.6h0M190.4 461.9h0M208.3 464.9h0M204.7 440.2h0M201.5 434.3h0M194.2 431.6h0M192.1 464.9h0M203.3 458.2h0M202.2 461.7h0M201.0 433.7h0M196.8 427.1h0M206.2 437.5h0M203.0 455.3h0M204.5 447.8h0M202.9 429.4h0M201.3 473.5h0M210.9 443.7h0M206.5 444.2h0M187.0 430.1h0M197.0 458.4h0M194.9 465.1h0M217.4 441.7h0M187.1 464.8h0M190.7 429.8h0M200.3 439.4h0M205.5 452.5h0M211.5 445.3h0M197.7 435.3h0M199.6 458.8h0M208.3 452.9h0M198.1 430.6h0M206.7 455.9h0M204.6 429.9h0M203.5 459.0h0M206.8 440.7h0M204.7 460.2h0M198.6 459.2h0M190.8 433.3h0M192.8 462.7h0M195.1 463.4h0M188.4 463.3h0M207.5 454.2h0M188.8 429.4h0M199.0 437.8h0M188.4 429.5h0M212.0 443.9h0M189.2 431.4h0M196.6 479.6h0M199.5 459.3h0M193.6 432.2h0M188.8 428.4h0" stroke="#484848" stroke-opacity="0.30" stroke-width="0.75" stroke-linecap="round"/><path d="M193.1 433.8h0M220.8 445.2h0M202.7 439.3h0M195.2 428.6h0M205.2 447.6h0M187.0 463.9h0M199.5 434.6h0M201.9 425.7h0M204.5 460.1h0M191.8 428.5h0M198.1 427.3h0M188.9 462.8h0M189.9 429.3h0M198.5 458.0h0M197.4 465.2h0M193.8 430.1h0M205.3 439.3h0M202.0 426.8h0M198.0 433.5h0M192.4 434.2h0M193.2 429.4h0M205.7 460.1h0M210.4 446.1h0M186.6 466.3h0M219.1 445.7h0M190.8 432.7h0M204.9 459.2h0M191.8 463.1h0M190.7 429.4h0M196.4 477.1h0M195.5 460.5h0M205.0 450.2h0M199.3 459.5h0M194.1 461.1h0M186.7 467.8h0M192.7 465.2h0M203.8 444.2h0M208.0 470.4h0M213.7 433.1h0M208.2 445.1h0M204.4 438.9h0M191.8 431.5h0M204.5 439.7h0M205.8 455.5h0M195.8 461.5h0M192.7 434.8h0M215.2 454.3h0M205.2 454.1h0M211.3 420.3h0M203.9 454.8h0M204.9 452.8h0M199.1 465.5h0M194.0 466.9h0M197.3 459.2h0M200.4 434.2h0M192.3 433.9h0M198.7 424.2h0M193.3 464.6h0M197.9 461.0h0M207.9 461.1h0M204.4 443.8h0M204.7 415.6h0M190.6 468.1h0M203.9 454.4h0M191.4 464.4h0M204.0 456.5h0M206.2 447.0h0M194.0 465.6h0M201.1 437.3h0M190.5 462.2h0M196.2 459.2h0M201.9 438.4h0M193.7 464.4h0M197.8 437.0h0M188.2 465.1h0M204.8 463.5h0M206.4 466.7h0M190.1 431.0h0M206.3 446.2h0M202.4 436.1h0M190.1 463.5h0M206.0 441.2h0M209.9 469.2h0M200.4 431.7h0M199.8 437.3h0M185.3 465.5h0M207.8 445.2h0M209.9 447.1h0M188.3 464.3h0M202.1 432.2h0M195.6 462.0h0M206.7 438.4h0" stroke="#484848" stroke-opacity="0.30" stroke-width="1.0" stroke-linecap="round"/><path d="M197.7 425.8h0M197.3 467.2h0M208.7 437.3h0M216.5 447.6h0M198.5 457.6h0M202.2 429.6h0M196.1 436.5h0M203.6 453.2h0M190.0 465.3h0M203.2 478.4h0M192.1 426.3h0M198.4 457.7h0M191.2 426.6h0M197.1 459.2h0M189.1 431.5h0M202.8 454.7h0M202.0 435.7h0M198.1 474.6h0M201.6 439.9h0M204.6 465.6h0M205.1 452.7h0M192.3 433.0h0M194.3 463.6h0M192.6 434.0h0M207.3 455.1h0M192.1 434.0h0M201.6 457.6h0M205.7 460.1h0M194.0 471.0h0M195.6 428.7h0M197.8 459.2h0M192.4 462.4h0M202.6 459.6h0M197.6 423.7h0M196.0 423.2h0M191.3 428.7h0M209.2 444.2h0M212.7 457.8h0M202.1 439.3h0M205.1 444.9h0M196.2 427.9h0M206.0 440.6h0M203.2 440.5h0M205.7 441.0h0M199.2 463.0h0M201.8 455.8h0M187.6 428.5h0M211.0 447.3h0M191.5 428.8h0M207.6 453.2h0M210.7 453.5h0M205.5 445.9h0M190.7 470.7h0M198.7 434.4h0M206.0 454.9h0M194.1 428.0h0M197.0 432.4h0M189.9 432.7h0M190.8 426.7h0M206.9 465.3h0M196.7 425.3h0M205.1 451.1h0M200.5 469.7h0M204.7 437.9h0M204.9 445.2h0M206.0 450.2h0M207.6 462.9h0M205.2 441.6h0M217.2 431.2h0M187.0 464.7h0M197.4 426.9h0M197.4 436.9h0M197.8 423.1h0M193.6 461.0h0M208.0 438.5h0M197.4 434.2h0M193.4 461.1h0M195.4 462.1h0M195.7 435.9h0M194.5 424.7h0M193.9 430.2h0M205.6 451.6h0M203.7 461.5h0M206.7 441.8h0M197.1 428.0h0M202.6 419.6h0M224.2 458.9h0M192.7 461.1h0M211.7 457.3h0M189.8 430.8h0M205.9 452.2h0" stroke="#484848" stroke-opacity="0.70" stroke-width="1.0" stroke-linecap="round"/><path d="M191.6 470.6h0M197.7 467.7h0M196.7 434.9h0M208.9 443.0h0M192.5 432.8h0M204.6 445.9h0M205.6 441.0h0M202.0 458.7h0M190.7 432.2h0M205.5 452.2h0M197.1 461.5h0M200.3 462.1h0M215.6 437.3h0M197.3 431.1h0M198.4 435.0h0M200.4 459.1h0M201.5 429.2h0M193.7 460.3h0M213.7 444.6h0M191.2 430.7h0M206.4 452.5h0M206.9 446.3h0M192.4 461.3h0M205.7 464.3h0M202.4 420.4h0M198.8 438.4h0M202.2 437.1h0M200.6 433.6h0M187.7 464.3h0M214.5 445.4h0M209.2 463.9h0M196.4 428.6h0M202.2 431.7h0M210.2 444.2h0M190.1 464.1h0M198.0 433.6h0M205.7 447.4h0M207.3 440.1h0M188.3 463.7h0M193.4 461.5h0M209.2 470.3h0M203.6 440.1h0M193.9 427.4h0M200.9 435.3h0M197.1 464.6h0M203.3 441.7h0M206.6 448.8h0M196.2 437.0h0M189.1 463.8h0M204.0 443.4h0M194.4 463.3h0M205.8 447.6h0M195.6 436.0h0M203.4 428.7h0M197.8 436.4h0M189.6 462.6h0M202.9 459.7h0M188.0 464.8h0M200.3 471.4h0M192.8 432.3h0M204.5 445.2h0M198.5 435.2h0M195.2 460.1h0M194.3 432.8h0M195.2 471.9h0M194.8 434.7h0M200.4 458.4h0M205.3 447.7h0M203.8 460.0h0M205.2 459.3h0M205.0 452.3h0M194.8 432.7h0M207.1 416.2h0M206.5 451.9h0M207.1 446.9h0M205.4 442.6h0M196.7 462.1h0M202.1 459.7h0M209.6 445.2h0M204.7 443.9h0M205.8 454.6h0M209.9 468.7h0M196.6 432.6h0M192.5 462.1h0M190.6 432.7h0M195.8 429.3h0M197.3 472.6h0M192.7 430.7h0M187.5 428.4h0M204.5 440.4h0M204.0 440.6h0M191.9 466.6h0M203.0 433.7h0M192.6 431.5h0M201.4 435.3h0M210.2 446.8h0M196.9 459.5h0" stroke="#484848" stroke-opacity="0.70" stroke-width="0.75" stroke-linecap="round"/><path d="M194.4 430.1h0M198.7 435.1h0M197.6 436.8h0M193.5 469.5h0M200.0 419.6h0M196.3 430.9h0M210.1 410.9h0M191.0 428.1h0M203.6 453.4h0M205.6 439.2h0M188.2 428.4h0M191.5 429.3h0M201.3 462.0h0M200.5 459.7h0M215.0 456.3h0M193.1 425.7h0M212.2 448.0h0M205.6 448.9h0M200.7 432.9h0M204.7 445.2h0M202.7 431.7h0M202.8 443.4h0M204.2 444.3h0M209.0 469.9h0M199.3 457.9h0M197.7 432.9h0M192.0 466.0h0M212.2 442.4h0M188.6 465.4h0M199.8 461.8h0M207.4 450.7h0M197.3 437.2h0M187.2 469.9h0M199.3 459.9h0M188.5 464.1h0M191.6 433.9h0M202.3 435.9h0M197.9 458.9h0M206.6 440.0h0M191.0 463.6h0M202.0 435.4h0M202.3 441.1h0M207.1 448.6h0M200.7 457.2h0M188.2 430.5h0M195.9 461.7h0M191.5 430.0h0M207.2 436.9h0M193.3 430.0h0M194.4 468.8h0M202.0 457.8h0M212.6 439.3h0M205.6 445.5h0M201.5 459.6h0M187.1 465.1h0M202.7 436.0h0M205.4 453.2h0M195.1 464.9h0M205.3 441.7h0M208.6 446.5h0M214.9 446.0h0M194.8 435.1h0M205.4 438.6h0M200.6 438.2h0M201.5 456.0h0M196.4 460.3h0M188.4 467.3h0M194.7 465.0h0M195.2 435.0h0M208.8 456.2h0M205.9 446.1h0M210.5 447.6h0M187.4 467.1h0M189.4 465.3h0M194.2 435.9h0M193.2 467.7h0M201.5 474.8h0M205.4 455.9h0M204.4 454.1h0M208.1 452.4h0M207.8 438.0h0M201.4 456.1h0M203.6 445.0h0M188.5 427.5h0M202.9 439.1h0M206.8 437.4h0M199.7 464.1h0M198.6 430.3h0M202.1 457.3h0M201.0 425.2h0M201.1 434.4h0M193.1 434.7h0M201.1 438.0h0M193.6 428.5h0M193.9 435.3h0M198.7 469.9h0M198.4 436.5h0M192.3 427.1h0M218.5 442.7h0M207.0 453.8h0M200.3 461.5h0M192.1 431.7h0M198.3 460.9h0M208.9 439.2h0M197.6 459.3h0M198.5 436.0h0M191.5 431.8h0M192.0 461.2h0M206.8 446.5h0M211.4 443.2h0M206.3 464.4h0M213.3 438.5h0M205.8 448.0h0M201.8 438.2h0M187.5 429.6h0M203.2 456.3h0M199.6 458.5h0M210.0 435.6h0M197.1 425.5h0M197.8 477.1h0" stroke="#484848" stroke-opacity="0.50" stroke-width="0.75" stroke-linecap="round"/><path d="M190.3 462.8h0M194.1 435.3h0M213.7 448.8h0M200.1 425.8h0M191.8 463.1h0M200.4 438.9h0M191.0 462.5h0M199.2 461.0h0M196.8 461.8h0M210.4 438.7h0M211.0 452.3h0M200.1 461.6h0M202.4 422.2h0M196.8 463.9h0M207.6 465.6h0M210.9 434.6h0M187.5 464.2h0M187.2 464.7h0M194.0 428.3h0M196.4 428.0h0M194.6 472.2h0M207.2 449.4h0M205.0 441.1h0M202.5 439.4h0M200.7 456.7h0M209.5 455.1h0M196.2 425.5h0M206.8 443.1h0M200.2 457.8h0M196.0 466.1h0M216.3 446.3h0M189.4 432.8h0M211.5 443.7h0M201.2 434.5h0M207.1 441.6h0M191.8 462.3h0M206.5 441.7h0M215.2 456.6h0M194.1 460.9h0M202.3 457.9h0M198.3 425.5h0M208.7 453.7h0M213.6 456.2h0M210.1 444.0h0M188.7 431.2h0M207.1 448.2h0M199.8 435.1h0M199.5 459.7h0M205.9 446.4h0M197.2 434.4h0M191.5 425.5h0M190.5 432.2h0M192.7 431.7h0M207.2 442.2h0M203.9 461.2h0M206.3 451.1h0M218.5 456.8h0M197.3 434.6h0M196.7 436.3h0M202.6 429.1h0M191.6 461.8h0M191.7 461.1h0M192.9 463.0h0M205.0 450.1h0M193.5 433.8h0M203.1 428.1h0M202.3 457.2h0M187.6 467.1h0M207.6 439.4h0M205.2 452.1h0M202.2 439.3h0M206.3 450.8h0M204.4 454.8h0M190.2 430.7h0M205.6 454.3h0M189.9 468.6h0M210.1 447.4h0M188.2 428.6h0M200.9 430.9h0M197.1 427.4h0M203.0 438.1h0M189.0 428.8h0M200.4 460.2h0M203.0 428.4h0M211.4 436.9h0M193.4 462.1h0M194.1 461.1h0M213.2 448.5h0M210.4 443.8h0M200.8 457.1h0M205.9 446.4h0M189.0 464.3h0M206.3 439.6h0" stroke="#484848" stroke-opacity="0.50" stroke-width="1.0" stroke-linecap="round"/></g><g filter="url(#b03)"><path d="M173.8 470.7h0M174.7 453.1h0M175.2 430.7h0M174.1 467.2h0M174.2 427.3h0M174.8 458.0h0M174.0 443.2h0M173.4 458.1h0M174.7 461.6h0M179.1 429.8h0M169.2 469.6h0M178.7 430.2h0M168.9 455.6h0M170.8 459.4h0M177.0 431.8h0M179.7 435.6h0M172.7 443.5h0M176.7 445.3h0M175.5 469.6h0M175.2 450.3h0M175.1 466.9h0M175.1 431.9h0M172.1 473.5h0M177.4 437.0h0M177.9 431.4h0M178.0 433.5h0M177.9 437.2h0M175.6 435.3h0M175.1 453.9h0" stroke="#6a6a7a" stroke-opacity="0.50" stroke-width="0.75" stroke-linecap="round"/><path d="M174.8 441.6h0M177.1 470.4h0M176.1 446.0h0M176.4 476.3h0M176.5 466.6h0M175.6 474.4h0M167.9 441.4h0M175.5 472.7h0M175.2 440.3h0M177.7 437.4h0M173.0 453.9h0M178.2 475.3h0M176.7 438.6h0M174.5 473.0h0M175.4 471.4h0M176.3 462.1h0M176.3 466.8h0M168.4 452.7h0M168.6 463.7h0M176.1 453.2h0M176.3 450.7h0M175.8 438.1h0M172.7 454.9h0M175.6 462.8h0M176.1 443.0h0M167.6 449.9h0M177.5 437.1h0M177.5 471.0h0M175.6 460.0h0M176.2 476.5h0M176.9 438.1h0" stroke="#6a6a7a" stroke-opacity="0.70" stroke-width="0.75" stroke-linecap="round"/><path d="M176.5 470.6h0M174.3 448.1h0M175.5 451.3h0M178.7 431.9h0M176.4 465.4h0M173.7 464.5h0M178.5 430.3h0M176.1 436.1h0M172.9 430.9h0M172.5 465.7h0M178.0 438.5h0M169.5 453.3h0M170.0 462.4h0M176.4 460.1h0M176.0 452.0h0M176.8 474.7h0M177.0 437.7h0M178.3 430.3h0M174.4 456.3h0M176.4 455.3h0M171.1 436.7h0M173.2 440.6h0" stroke="#6a6a7a" stroke-opacity="0.50" stroke-width="1.0" stroke-linecap="round"/><path d="M178.1 428.6h0M175.6 467.9h0M178.1 437.5h0M166.7 455.7h0M177.5 438.8h0M178.6 435.8h0M172.6 471.7h0M170.0 452.6h0M178.3 436.8h0M176.0 471.8h0M178.6 476.2h0M171.5 471.8h0M175.4 443.9h0M175.1 476.0h0M174.3 469.9h0M179.1 431.5h0M170.5 461.4h0M176.0 472.3h0M173.4 463.8h0" stroke="#6a6a7a" stroke-opacity="0.30" stroke-width="1.0" stroke-linecap="round"/><path d="M171.7 434.2h0M175.7 464.2h0M178.4 432.3h0M177.8 430.0h0M173.9 445.9h0M176.8 474.9h0M169.6 460.0h0M170.3 463.3h0M177.2 475.7h0M177.4 437.1h0M175.1 458.9h0M176.6 473.9h0M176.2 442.7h0M175.7 477.1h0M170.7 457.4h0M179.2 475.3h0M168.3 449.5h0M179.1 432.7h0M176.5 443.5h0M177.5 472.9h0M177.4 437.4h0M174.2 461.6h0M174.3 450.5h0M175.1 450.7h0M168.9 473.6h0" stroke="#6a6a7a" stroke-opacity="0.70" stroke-width="1.0" stroke-linecap="round"/><path d="M169.3 463.3h0M169.3 464.8h0M172.5 458.6h0M176.1 429.2h0M174.0 430.8h0M175.5 447.5h0M160.1 454.5h0M175.6 430.3h0M175.6 447.2h0M168.1 428.9h0M172.5 452.5h0M162.8 453.6h0M173.8 451.7h0" stroke="#6a6a7a" stroke-opacity="0.30" stroke-width="0.75" stroke-linecap="round"/><path d="M171.9 455.0h0M176.7 444.5h0M174.9 456.4h0M176.9 475.0h0M177.2 475.7h0" stroke="#6a6a7a" stroke-opacity="0.90" stroke-width="0.75" stroke-linecap="round"/><path d="M171.1 459.7h0M172.4 453.8h0M174.6 441.5h0M175.9 471.9h0M176.2 464.0h0M174.1 448.4h0" stroke="#6a6a7a" stroke-opacity="0.90" stroke-width="1.0" stroke-linecap="round"/></g><path d="M180.00,429.00 C181.40,428.17 185.18,428.20 187.00,429.00 C188.82,429.80 189.13,432.37 190.90,433.80 C192.67,435.23 195.83,436.65 197.60,437.60 C199.37,438.55 200.38,438.38 201.50,439.50 C202.62,440.62 203.65,442.53 204.30,444.30 C204.95,446.07 205.55,448.33 205.40,450.10 C205.25,451.87 204.70,453.45 203.40,454.90 C202.10,456.35 199.85,457.60 197.60,458.80 C195.35,460.00 191.98,460.98 189.90,462.10 C187.82,463.22 186.30,464.30 185.10,465.50 C183.90,466.70 183.47,467.88 182.70,469.30 C181.93,470.72 181.13,472.92 180.50,474.00 C179.87,475.08 179.42,475.93 178.90,475.80 C178.38,475.67 177.82,475.08 177.40,473.20 C176.98,471.32 176.63,468.03 176.40,464.50 C176.17,460.97 175.85,455.68 176.00,452.00 C176.15,448.32 176.87,445.40 177.30,442.40 C177.73,439.40 178.15,436.23 178.60,434.00 C179.05,431.77 178.60,429.83 180.00,429.00 Z" fill="#2134b8" stroke="#1a1a84" stroke-width="1.8" filter="url(#b03)"/><ellipse cx="188" cy="448" rx="7" ry="10" fill="#2448d0" opacity="0.7" filter="url(#b15)"/><ellipse cx="181.6" cy="450" rx="3.8" ry="21" fill="#1ca8e6" opacity="1" filter="url(#b1)" transform="rotate(2 181.6 450)"/><ellipse cx="181.0" cy="453" rx="2.5" ry="12" fill="#2ec050" opacity="1" filter="url(#b1)" transform="rotate(2 181.0 453)"/><ellipse cx="180.9" cy="453" rx="1.7" ry="7.5" fill="#c8d820" opacity="1" filter="url(#b06)" transform="rotate(2 180.9 453)"/><ellipse cx="180.8" cy="453.5" rx="1.1" ry="5" fill="#f08010" opacity="1" filter="url(#b06)" transform="rotate(2 180.8 453.5)"/></g><rect x="162.5" y="429.5" width="66" height="66" fill="none" stroke="#444" stroke-width="0.8"/><polyline points="181.0,477.0 179.8,482.3 228.5,481.7" fill="none" stroke="#7a7a7a" stroke-width="0.8"/><text x="197.3" y="477.5" font-size="6.2" fill="#333" stroke="#333" stroke-width="0.12" >7.97%</text><line x1="159.8" y1="495.5" x2="162.5" y2="495.5" stroke="#333" stroke-width="0.8" /><text x="156.7" y="497.5" font-size="6.0" text-anchor="end" fill="#333" stroke="#333" stroke-width="0.12" >0</text><line x1="161.2" y1="492.79" x2="162.5" y2="492.79" stroke="#666" stroke-width="0.5" /><line x1="161.2" y1="490.28000000000003" x2="162.5" y2="490.28000000000003" stroke="#666" stroke-width="0.5" /><line x1="161.2" y1="487.77" x2="162.5" y2="487.77" stroke="#666" stroke-width="0.5" /><line x1="161.2" y1="485.26" x2="162.5" y2="485.26" stroke="#666" stroke-width="0.5" /><line x1="159.8" y1="482.5" x2="162.5" y2="482.5" stroke="#333" stroke-width="0.8" /><text x="156.7" y="484.95" font-size="6.0" text-anchor="end" fill="#333" stroke="#333" stroke-width="0.12" >50K</text><line x1="161.2" y1="480.24" x2="162.5" y2="480.24" stroke="#666" stroke-width="0.5" /><line x1="161.2" y1="477.73" x2="162.5" y2="477.73" stroke="#666" stroke-width="0.5" /><line x1="161.2" y1="475.22" x2="162.5" y2="475.22" stroke="#666" stroke-width="0.5" /><line x1="161.2" y1="472.71" x2="162.5" y2="472.71" stroke="#666" stroke-width="0.5" /><line x1="159.8" y1="470.5" x2="162.5" y2="470.5" stroke="#333" stroke-width="0.8" /><text x="156.7" y="472.4" font-size="6.0" text-anchor="end" fill="#333" stroke="#333" stroke-width="0.12" >100K</text><line x1="161.2" y1="467.69" x2="162.5" y2="467.69" stroke="#666" stroke-width="0.5" /><line x1="161.2" y1="465.18" x2="162.5" y2="465.18" stroke="#666" stroke-width="0.5" /><line x1="161.2" y1="462.66999999999996" x2="162.5" y2="462.66999999999996" stroke="#666" stroke-width="0.5" /><line x1="161.2" y1="460.15999999999997" x2="162.5" y2="460.15999999999997" stroke="#666" stroke-width="0.5" /><line x1="159.8" y1="457.5" x2="162.5" y2="457.5" stroke="#333" stroke-width="0.8" /><text x="156.7" y="459.84999999999997" font-size="6.0" text-anchor="end" fill="#333" stroke="#333" stroke-width="0.12" >150K</text><line x1="161.2" y1="455.14" x2="162.5" y2="455.14" stroke="#666" stroke-width="0.5" /><line x1="161.2" y1="452.63" x2="162.5" y2="452.63" stroke="#666" stroke-width="0.5" /><line x1="161.2" y1="450.12" x2="162.5" y2="450.12" stroke="#666" stroke-width="0.5" /><line x1="161.2" y1="447.60999999999996" x2="162.5" y2="447.60999999999996" stroke="#666" stroke-width="0.5" /><line x1="159.8" y1="445.5" x2="162.5" y2="445.5" stroke="#333" stroke-width="0.8" /><text x="156.7" y="447.3" font-size="6.0" text-anchor="end" fill="#333" stroke="#333" stroke-width="0.12" >200K</text><line x1="161.2" y1="442.59000000000003" x2="162.5" y2="442.59000000000003" stroke="#666" stroke-width="0.5" /><line x1="161.2" y1="440.08000000000004" x2="162.5" y2="440.08000000000004" stroke="#666" stroke-width="0.5" /><line x1="161.2" y1="437.57000000000005" x2="162.5" y2="437.57000000000005" stroke="#666" stroke-width="0.5" /><line x1="161.2" y1="435.06" x2="162.5" y2="435.06" stroke="#666" stroke-width="0.5" /><line x1="159.8" y1="432.5" x2="162.5" y2="432.5" stroke="#333" stroke-width="0.8" /><text x="156.7" y="434.75" font-size="6.0" text-anchor="end" fill="#333" stroke="#333" stroke-width="0.12" >250K</text><rect x="175.5" y="495.5" width="3" height="2.0" fill="#111"/><line x1="165.5" y1="495.5" x2="165.5" y2="497.7" stroke="#333" stroke-width="0.8" /><line x1="188.5" y1="495.5" x2="188.5" y2="497.7" stroke="#333" stroke-width="0.8" /><line x1="206.5" y1="495.5" x2="206.5" y2="497.7" stroke="#333" stroke-width="0.8" /><line x1="222.5" y1="495.5" x2="222.5" y2="497.7" stroke="#333" stroke-width="0.8" /><line x1="194.06905491978364" y1="495.5" x2="194.06905491978364" y2="496.7" stroke="#555" stroke-width="0.5" /><line x1="197.32674321231374" y1="495.5" x2="197.32674321231374" y2="496.7" stroke="#555" stroke-width="0.5" /><line x1="199.6381098395673" y1="495.5" x2="199.6381098395673" y2="496.7" stroke="#555" stroke-width="0.5" /><line x1="201.43094508021636" y1="495.5" x2="201.43094508021636" y2="496.7" stroke="#555" stroke-width="0.5" /><line x1="202.8957981320974" y1="495.5" x2="202.8957981320974" y2="496.7" stroke="#555" stroke-width="0.5" /><line x1="204.13431374026376" y1="495.5" x2="204.13431374026376" y2="496.7" stroke="#555" stroke-width="0.5" /><line x1="205.20716475935095" y1="495.5" x2="205.20716475935095" y2="496.7" stroke="#555" stroke-width="0.5" /><line x1="206.15348642462752" y1="495.5" x2="206.15348642462752" y2="496.7" stroke="#555" stroke-width="0.5" /><line x1="211.6358619332253" y1="495.5" x2="211.6358619332253" y2="496.7" stroke="#555" stroke-width="0.5" /><line x1="214.3476673226828" y1="495.5" x2="214.3476673226828" y2="496.7" stroke="#555" stroke-width="0.5" /><line x1="216.27172386645063" y1="495.5" x2="216.27172386645063" y2="496.7" stroke="#555" stroke-width="0.5" /><line x1="217.7641380667747" y1="495.5" x2="217.7641380667747" y2="496.7" stroke="#555" stroke-width="0.5" /><line x1="218.9835292559081" y1="495.5" x2="218.9835292559081" y2="496.7" stroke="#555" stroke-width="0.5" /><line x1="220.01450981621957" y1="495.5" x2="220.01450981621957" y2="496.7" stroke="#555" stroke-width="0.5" /><line x1="220.90758579967593" y1="495.5" x2="220.90758579967593" y2="496.7" stroke="#555" stroke-width="0.5" /><line x1="221.69533464536562" y1="495.5" x2="221.69533464536562" y2="496.7" stroke="#555" stroke-width="0.5" /><line x1="168.0" y1="495.5" x2="168.0" y2="496.7" stroke="#555" stroke-width="0.5" /><line x1="170.5" y1="495.5" x2="170.5" y2="496.7" stroke="#555" stroke-width="0.5" /><line x1="173.0" y1="495.5" x2="173.0" y2="496.7" stroke="#555" stroke-width="0.5" /><line x1="180.5" y1="495.5" x2="180.5" y2="496.7" stroke="#555" stroke-width="0.5" /><line x1="183.0" y1="495.5" x2="183.0" y2="496.7" stroke="#555" stroke-width="0.5" /><line x1="185.5" y1="495.5" x2="185.5" y2="496.7" stroke="#555" stroke-width="0.5" /><line x1="224.5" y1="495.5" x2="224.5" y2="496.7" stroke="#555" stroke-width="0.5" /><line x1="227.0" y1="495.5" x2="227.0" y2="496.7" stroke="#555" stroke-width="0.5" /><text x="164.8" y="507.2" font-size="6.2" text-anchor="middle" fill="#333" stroke="#333" stroke-width="0.12" >&#8722;10<tspan font-size="4.4" dy="-2.5">3</tspan></text><text x="177.0" y="507.2" font-size="6.2" text-anchor="middle" fill="#333" stroke="#333" stroke-width="0.12" >0</text><text x="188.8" y="507.2" font-size="6.2" text-anchor="middle" fill="#333" stroke="#333" stroke-width="0.12" >10<tspan font-size="4.4" dy="-2.5">3</tspan></text><text x="206.5" y="507.2" font-size="6.2" text-anchor="middle" fill="#333" stroke="#333" stroke-width="0.12" >10<tspan font-size="4.4" dy="-2.5">4</tspan></text><text x="222.0" y="507.2" font-size="6.2" text-anchor="middle" fill="#333" stroke="#333" stroke-width="0.12" >10<tspan font-size="4.4" dy="-2.5">5</tspan></text><clipPath id="cc3"><rect x="61.3" y="523" width="66.7" height="65.3"/></clipPath><g clip-path="url(#cc3)"><g filter="url(#b03)"><path d="M88.3 537.6h0M88.7 527.5h0M89.6 541.3h0M102.9 538.0h0M107.9 546.8h0M90.2 544.0h0M96.7 541.9h0M91.0 560.3h0M92.5 537.9h0M106.8 534.8h0M84.3 541.7h0M108.3 551.9h0M84.6 553.4h0M97.2 543.5h0M95.3 524.9h0M93.3 545.4h0M92.4 547.9h0M99.4 544.4h0M98.0 532.6h0M97.7 540.5h0M93.9 557.2h0M107.0 531.6h0M109.2 522.9h0M91.3 540.9h0M97.2 541.7h0M91.5 546.9h0M96.9 543.6h0M93.8 536.9h0M91.6 538.9h0M98.6 555.2h0M101.1 541.3h0M99.5 541.0h0M86.8 537.5h0M90.2 540.2h0M87.1 530.4h0M106.5 531.1h0M93.9 555.5h0M98.5 557.7h0M92.3 549.8h0M97.7 551.0h0M96.7 570.5h0M98.0 529.0h0M95.8 551.6h0M87.1 552.6h0M106.8 534.7h0M90.6 530.3h0M87.0 525.4h0M102.9 544.2h0M100.3 550.1h0M94.6 543.3h0M78.5 549.9h0M93.6 539.7h0M106.5 531.2h0M90.2 546.3h0M90.0 543.2h0M85.4 559.6h0M90.7 539.8h0" stroke="#666" stroke-opacity="0.30" stroke-width="1.0" stroke-linecap="round"/><path d="M91.2 532.8h0M91.3 542.7h0M107.8 559.1h0M96.9 556.3h0M90.1 551.0h0M92.3 558.9h0M96.2 555.2h0M88.7 533.8h0M97.9 534.9h0M97.9 546.4h0M99.2 552.2h0M101.9 542.3h0M95.2 545.9h0M100.4 554.1h0M96.5 548.3h0M98.5 551.7h0M99.7 538.4h0M96.6 538.3h0M88.3 545.8h0" stroke="#666" stroke-opacity="0.50" stroke-width="1.0" stroke-linecap="round"/><path d="M94.4 550.3h0M111.8 551.7h0M104.0 533.9h0M96.2 550.2h0M94.0 551.5h0M98.4 546.6h0M100.5 545.6h0M92.2 534.8h0M85.8 539.2h0M87.7 543.4h0M88.2 534.3h0M94.7 546.8h0M96.4 546.9h0M96.4 547.4h0M92.1 537.6h0M92.3 551.9h0M99.5 546.0h0M87.7 546.2h0M100.8 546.9h0M92.1 559.0h0M90.6 557.3h0M90.3 546.1h0M98.3 548.3h0M90.9 549.8h0M96.1 538.9h0M88.9 543.4h0M94.2 546.7h0M87.9 531.4h0M93.1 549.0h0M90.4 542.4h0M92.5 548.5h0M103.9 537.3h0M92.5 537.7h0M93.4 538.7h0M96.2 558.9h0M86.3 538.6h0M94.0 540.3h0M100.1 548.3h0M102.5 537.1h0M87.6 552.4h0M90.0 551.7h0M93.2 547.4h0M97.5 556.5h0M104.3 531.2h0M95.5 537.5h0M105.5 549.1h0M100.5 537.9h0" stroke="#666" stroke-opacity="0.30" stroke-width="0.75" stroke-linecap="round"/><path d="M88.4 533.8h0M94.8 543.2h0M107.1 539.4h0M92.4 540.3h0M105.1 542.6h0M96.6 541.6h0M99.9 560.7h0M91.3 541.0h0M96.4 549.9h0M97.3 537.4h0M91.1 546.4h0M95.3 538.3h0M88.3 540.4h0M96.7 543.0h0M97.0 533.4h0M97.5 528.2h0M95.9 539.3h0" stroke="#666" stroke-opacity="0.50" stroke-width="0.75" stroke-linecap="round"/></g><path d="M82.20,524.60 L84.60,526.30 L86.50,531.50 L89.40,539.20 L89.90,542.60 L88.00,548.80 L84.60,553.70 L81.20,560.40 L85.21,562.44 L88.61,555.74 L88.30,556.27 L91.70,551.37 L92.30,550.12 L94.20,543.92 L94.35,541.95 L93.85,538.55 L93.61,537.61 L90.71,529.91 L90.73,529.96 L88.83,524.76 L87.20,522.63 L84.80,520.93 Z" fill="#606070" opacity="0.2" filter="url(#b1)"/><g filter="url(#b03)"><path d="M81.6 558.8h0M97.0 540.0h0M83.6 559.6h0M88.0 552.2h0M91.5 545.4h0M88.4 550.7h0M95.0 536.1h0M88.3 549.1h0M90.8 555.5h0M90.4 517.3h0M90.1 554.1h0M91.3 536.5h0M83.1 524.2h0M97.5 549.1h0M87.3 558.7h0M97.5 546.0h0M92.2 538.9h0M87.6 531.1h0M94.6 541.1h0M91.7 516.3h0M86.7 531.7h0M93.9 541.4h0M85.7 555.6h0M94.2 534.6h0M90.3 554.6h0M88.7 553.1h0M87.9 550.5h0M88.3 556.6h0M81.9 560.9h0M89.7 556.5h0M87.5 549.9h0M86.9 557.7h0M90.0 549.5h0M93.0 545.1h0M89.2 553.1h0M92.1 549.4h0M91.8 532.9h0M108.6 553.4h0M83.0 559.4h0M86.5 562.0h0M88.3 546.3h0M102.3 549.0h0M90.0 532.7h0M88.7 533.3h0M86.7 530.6h0M83.4 559.2h0M90.6 546.4h0M89.6 539.4h0M88.5 538.0h0M110.4 553.5h0M90.9 539.7h0M89.4 537.6h0M102.0 558.9h0M89.7 545.8h0M88.4 548.5h0M87.5 530.2h0M89.7 517.0h0M97.4 524.6h0M87.6 522.0h0M88.6 532.7h0M86.5 559.2h0M83.9 524.7h0M88.5 537.7h0M85.3 526.5h0M88.2 534.8h0M96.5 549.4h0M90.2 544.1h0M84.3 557.8h0M86.1 551.6h0M88.1 531.8h0M96.5 540.4h0M88.0 551.7h0M100.0 539.3h0M89.8 535.1h0M91.3 538.2h0" stroke="#484848" stroke-opacity="0.30" stroke-width="1.0" stroke-linecap="round"/><path d="M88.6 556.9h0M90.2 533.3h0M84.2 527.3h0M90.6 545.7h0M88.6 555.9h0M87.9 548.0h0M92.7 536.5h0M94.4 540.7h0M97.0 529.9h0M89.6 537.5h0M89.2 564.6h0M97.3 547.5h0M89.1 560.2h0M95.7 534.6h0M85.3 560.9h0M89.0 535.5h0M89.6 559.8h0M86.0 551.6h0M87.2 561.9h0M89.0 546.3h0M93.6 541.3h0M97.5 531.0h0M88.5 536.7h0M83.9 554.4h0M91.5 565.9h0M91.7 556.3h0M91.3 524.1h0M94.5 531.0h0M89.1 515.8h0M93.6 539.6h0M91.0 531.0h0M90.8 538.6h0M86.8 528.2h0M87.8 533.4h0M84.9 558.0h0M82.5 524.7h0M90.0 539.1h0M90.2 532.7h0M87.2 522.1h0M88.3 526.0h0M91.4 538.4h0M98.0 523.5h0M85.5 558.0h0M86.4 519.9h0M90.3 545.7h0M86.3 528.0h0M93.8 530.5h0M84.1 557.1h0M93.4 536.2h0M83.8 557.3h0M88.8 530.9h0M88.4 519.4h0M86.3 554.4h0M100.6 524.3h0M89.8 553.4h0M88.3 533.6h0M90.3 559.2h0M81.2 560.2h0M85.8 531.2h0M94.5 547.1h0M89.3 547.1h0M91.1 533.7h0M93.1 533.9h0M95.1 559.0h0M93.8 558.3h0M88.0 536.1h0M83.9 524.2h0M89.7 564.6h0M87.5 550.0h0M86.7 552.6h0M88.4 518.6h0M86.7 554.9h0M87.2 563.0h0M90.6 544.0h0M88.9 533.3h0M89.6 549.9h0M89.9 542.4h0M89.2 555.1h0M102.8 549.7h0M89.9 524.3h0M92.9 541.3h0M93.8 550.0h0M86.2 527.5h0M88.3 549.9h0M88.3 533.0h0" stroke="#484848" stroke-opacity="0.30" stroke-width="0.75" stroke-linecap="round"/><path d="M87.9 551.2h0M89.1 539.2h0M84.1 557.7h0M89.6 541.5h0M93.1 548.4h0M84.0 523.8h0M89.7 532.3h0M84.8 554.3h0M81.5 559.2h0M90.2 542.1h0M91.5 549.4h0M95.0 541.5h0M95.5 538.7h0M85.0 561.5h0M87.9 560.8h0M82.3 558.3h0M90.5 543.3h0M91.6 527.9h0M89.2 544.0h0M85.7 555.3h0M91.0 553.7h0M83.8 557.1h0M91.2 541.5h0M87.4 559.1h0M88.6 550.8h0M91.3 533.7h0M94.0 558.0h0M88.8 535.2h0M88.4 530.3h0M90.0 546.4h0M90.0 528.3h0M87.7 529.0h0M87.5 532.7h0M84.6 528.4h0M88.6 536.2h0M93.6 546.8h0M88.4 530.4h0M86.5 530.0h0M84.5 557.8h0M84.2 553.6h0M89.5 539.0h0M91.3 540.8h0M89.7 547.3h0M89.5 533.8h0M86.1 556.4h0M85.3 523.7h0M87.8 536.8h0M90.6 550.0h0M87.4 527.9h0M90.0 543.6h0M83.1 561.0h0M91.0 553.3h0M87.9 527.5h0M87.2 532.3h0M89.6 560.1h0M89.3 544.4h0M86.7 521.2h0M89.1 556.6h0M89.5 554.8h0M93.7 543.6h0" stroke="#484848" stroke-opacity="0.70" stroke-width="1.0" stroke-linecap="round"/><path d="M86.0 553.4h0M92.2 561.0h0M92.1 546.1h0M89.5 543.3h0M93.0 553.9h0M91.3 546.0h0M83.7 556.6h0M85.3 561.8h0M98.3 524.4h0M85.8 519.1h0M86.0 522.7h0M92.1 549.8h0M88.9 564.1h0M88.5 531.7h0M93.5 540.2h0M85.0 558.6h0M93.2 528.2h0M87.1 521.4h0M92.5 539.7h0M90.4 533.5h0M92.0 545.7h0M90.7 555.8h0M84.5 554.4h0M85.1 553.2h0M84.3 556.9h0M90.7 535.9h0M92.1 545.6h0M93.8 545.7h0M86.8 525.8h0M91.6 537.6h0M102.1 565.5h0M97.2 564.1h0M89.0 559.7h0M84.4 555.8h0M91.2 541.2h0M84.2 528.7h0M93.7 533.4h0M90.6 541.0h0M90.8 537.2h0M88.0 553.4h0M90.5 536.9h0M93.1 545.3h0M86.6 525.7h0M91.1 546.9h0M85.6 561.9h0M90.5 538.6h0M89.4 535.4h0M87.7 532.1h0M88.6 551.4h0M87.1 520.0h0M96.2 563.7h0M92.8 529.0h0M93.2 531.9h0M104.4 526.3h0M83.8 523.9h0M85.1 523.8h0M90.6 534.6h0M91.6 530.2h0M96.5 567.3h0M84.4 525.7h0M88.8 535.5h0M89.3 534.9h0M83.4 560.8h0M86.2 530.7h0M85.0 526.9h0M85.9 563.1h0M89.3 560.8h0M96.1 546.0h0M105.8 551.2h0M89.4 560.1h0M94.0 535.9h0M87.9 535.1h0M91.3 535.8h0M102.6 565.2h0M86.4 550.2h0" stroke="#484848" stroke-opacity="0.50" stroke-width="0.75" stroke-linecap="round"/><path d="M91.0 547.7h0M92.6 542.1h0M90.1 544.5h0M84.9 525.0h0M88.1 553.1h0M87.4 535.1h0M92.6 539.0h0M91.3 547.6h0M89.0 549.9h0M82.8 557.6h0M88.5 556.1h0M84.8 555.7h0M96.9 530.6h0M90.3 548.0h0M85.1 529.6h0M89.9 544.7h0M90.3 528.5h0M88.0 519.6h0M90.3 539.2h0M97.3 526.6h0M84.7 554.0h0M84.1 524.1h0M81.5 559.0h0M86.3 528.5h0M90.3 547.7h0M93.0 545.9h0M92.5 531.6h0M91.5 530.4h0M92.0 535.9h0M95.2 528.5h0M82.4 523.9h0M90.7 535.9h0M88.1 548.1h0M98.3 546.8h0M85.2 557.2h0M93.9 546.0h0M91.1 541.2h0M88.3 530.2h0M86.9 532.1h0M87.1 529.9h0M88.5 550.4h0M86.4 557.5h0M94.8 544.2h0M82.3 559.0h0M87.2 551.0h0M84.5 553.4h0M84.3 522.2h0M89.1 534.7h0M86.4 528.5h0M89.4 537.8h0M86.2 530.2h0M87.5 531.5h0M87.5 534.3h0M86.8 528.6h0M92.0 555.6h0M92.8 534.9h0M91.4 541.6h0M91.4 546.4h0M85.2 529.3h0M87.2 554.3h0M94.8 530.8h0M86.2 557.4h0M95.2 547.7h0M85.8 561.6h0M96.4 548.3h0M87.9 529.2h0M99.7 539.0h0M88.5 549.1h0M97.7 561.1h0M87.1 530.7h0M88.4 550.2h0" stroke="#484848" stroke-opacity="0.70" stroke-width="0.75" stroke-linecap="round"/><path d="M83.5 525.6h0M86.4 520.0h0M87.4 552.6h0M83.2 555.8h0M83.1 559.9h0M87.3 530.8h0M89.0 558.9h0M88.0 527.8h0M86.1 553.0h0M89.8 546.7h0M87.8 517.6h0M101.8 560.3h0M97.2 525.6h0M91.7 549.9h0M86.4 531.5h0M88.0 551.4h0M82.4 559.5h0M91.6 539.0h0M85.2 557.8h0M89.4 554.6h0M89.4 560.7h0M84.1 556.0h0M90.2 540.6h0M83.6 560.8h0M90.7 531.2h0M96.2 545.2h0M102.3 560.1h0M90.7 540.8h0M82.3 560.1h0M88.3 529.7h0M87.9 553.8h0M86.6 532.1h0M88.0 531.7h0M104.0 549.6h0M91.3 542.5h0M85.3 529.1h0M83.5 555.2h0M90.6 538.0h0M87.3 534.5h0M89.5 538.8h0M90.0 538.1h0M87.4 556.6h0M89.6 562.4h0M94.9 542.0h0M93.1 552.3h0M87.4 551.8h0M111.6 522.1h0M89.5 528.4h0M90.2 556.1h0M90.0 524.7h0M85.5 554.9h0M89.7 529.0h0M94.1 531.8h0M87.6 562.8h0M92.6 523.9h0M91.0 545.9h0M88.2 552.9h0M90.0 551.5h0M89.8 548.3h0M92.3 535.8h0M85.1 559.5h0M92.4 542.1h0M86.7 528.4h0M84.8 528.3h0M95.3 549.5h0M88.3 548.0h0M88.1 555.3h0M86.8 521.8h0M85.5 555.3h0M109.1 550.5h0M89.0 548.4h0M104.7 549.4h0M86.9 528.4h0M84.4 554.9h0" stroke="#484848" stroke-opacity="0.50" stroke-width="1.0" stroke-linecap="round"/></g><path d="M77.00,569.70 L75.50,566.20 L74.50,556.50 L71.60,548.80 L70.20,545.00 L72.60,539.20 L76.50,532.60 L78.80,528.60 L80.30,525.30 L78.02,524.27 L76.52,527.57 L76.63,527.35 L74.33,531.35 L74.35,531.33 L70.45,537.93 L70.29,538.24 L67.89,544.04 L67.85,545.86 L69.25,549.66 L69.26,549.68 L72.16,557.38 L72.01,556.76 L73.01,566.46 L73.20,567.18 L74.70,570.68 Z" fill="#606070" opacity="0.15" filter="url(#b1)"/><g filter="url(#b03)"><path d="M71.6 553.6h0M74.2 534.8h0M74.7 565.1h0M69.1 548.6h0M74.6 533.6h0M77.1 523.8h0M75.2 561.3h0M71.9 533.3h0M77.3 569.5h0M71.7 550.4h0M76.4 567.9h0M74.3 557.5h0M71.6 571.2h0M74.7 558.1h0M73.1 534.9h0M71.0 537.4h0M76.2 533.3h0M72.4 550.4h0M75.8 567.3h0M72.6 571.2h0M71.5 550.9h0M70.1 542.3h0M69.5 559.7h0M76.3 532.0h0M78.7 528.4h0M74.0 560.5h0M78.9 525.3h0M70.6 541.4h0M78.8 525.2h0M72.9 558.3h0M72.0 540.8h0M76.4 532.4h0M72.6 535.4h0M72.7 553.2h0" stroke="#555" stroke-opacity="0.70" stroke-width="0.75" stroke-linecap="round"/><path d="M72.8 557.9h0M68.9 538.5h0M74.7 534.9h0M65.2 547.7h0M70.4 554.8h0M74.0 563.6h0M72.7 556.0h0M70.0 527.9h0M74.2 557.1h0M69.6 541.7h0M67.9 546.7h0M70.0 557.6h0M70.3 557.8h0M73.1 552.1h0M71.6 539.1h0M75.3 570.0h0M70.8 564.3h0M70.0 550.2h0M68.7 546.4h0M66.4 559.2h0M77.3 529.5h0" stroke="#555" stroke-opacity="0.30" stroke-width="0.75" stroke-linecap="round"/><path d="M74.4 532.3h0M73.4 567.8h0M77.7 527.8h0M72.1 550.9h0M78.9 526.0h0M62.5 548.3h0M69.8 550.5h0M77.6 529.5h0M74.9 561.1h0M70.8 537.5h0M71.0 548.1h0M75.7 533.3h0M73.9 535.3h0M75.5 532.5h0M73.3 555.3h0M72.5 564.6h0M72.1 553.1h0M72.8 532.7h0M75.2 570.2h0M74.8 561.8h0M77.3 529.6h0M67.1 538.1h0M68.3 540.0h0M75.2 535.4h0M72.1 538.6h0M72.2 552.7h0M75.5 565.5h0M73.2 568.0h0M73.4 552.5h0M74.3 559.7h0M73.2 539.3h0M73.8 564.8h0M71.7 537.1h0" stroke="#555" stroke-opacity="0.50" stroke-width="1.0" stroke-linecap="round"/><path d="M74.2 560.0h0M74.3 533.7h0M76.5 569.1h0M68.6 549.3h0M66.9 537.0h0M77.0 531.2h0M75.7 564.1h0M75.7 568.2h0M73.5 558.9h0M75.1 535.4h0M78.7 526.3h0M70.5 554.8h0M71.9 545.3h0M72.6 554.9h0M73.9 556.7h0M75.9 564.4h0M74.1 558.3h0M64.2 541.0h0M68.5 539.9h0M76.0 531.0h0M72.9 560.9h0M70.7 563.6h0M70.0 541.2h0M73.5 567.7h0M79.5 526.6h0M75.1 530.6h0M74.4 564.0h0M72.1 559.1h0M64.1 548.4h0M75.6 523.4h0M72.8 532.2h0M70.1 548.7h0M61.7 550.4h0M67.8 555.9h0" stroke="#555" stroke-opacity="0.50" stroke-width="0.75" stroke-linecap="round"/><path d="M65.8 537.9h0M71.4 539.7h0M76.8 530.3h0M69.8 538.5h0M77.2 526.6h0M70.5 537.8h0M70.0 533.2h0M79.7 526.5h0M72.4 523.6h0M79.2 526.1h0M71.9 541.7h0M72.1 550.6h0M67.7 564.2h0M73.8 560.5h0M74.2 566.2h0M75.2 526.9h0M71.3 557.5h0M70.0 553.3h0M72.2 557.3h0M75.0 534.8h0M73.2 569.3h0M73.0 537.6h0M72.0 558.4h0M69.2 558.6h0M73.2 533.2h0M72.5 554.7h0M68.6 535.0h0M69.7 565.6h0M74.6 556.9h0M71.9 530.2h0M74.8 563.8h0M74.1 532.1h0M71.7 552.3h0M74.8 562.7h0M74.9 528.8h0M78.3 526.0h0M71.3 542.2h0M69.9 541.2h0M79.0 525.1h0M76.1 529.0h0" stroke="#555" stroke-opacity="0.70" stroke-width="1.0" stroke-linecap="round"/><path d="M75.1 570.0h0M70.0 545.0h0M66.0 541.0h0M72.0 539.3h0M74.1 561.5h0M69.6 554.1h0M69.1 560.8h0M72.9 561.1h0" stroke="#555" stroke-opacity="0.90" stroke-width="1.0" stroke-linecap="round"/><path d="M72.0 541.2h0M75.6 567.8h0M71.1 530.3h0M76.3 533.7h0M75.1 563.0h0M71.2 562.2h0M72.4 537.9h0M75.5 535.1h0M69.5 565.7h0M70.7 554.2h0M70.0 557.7h0M67.2 553.6h0M70.6 539.2h0M76.1 526.6h0M69.2 550.1h0" stroke="#555" stroke-opacity="0.30" stroke-width="1.0" stroke-linecap="round"/><path d="M70.3 541.7h0M67.8 535.1h0M73.9 558.2h0M71.0 541.9h0M73.6 563.5h0M70.9 554.5h0M75.3 533.0h0M69.2 541.2h0M71.7 542.7h0M74.0 531.8h0M68.5 546.8h0M73.0 556.3h0M68.4 520.7h0M76.1 527.5h0M67.1 550.0h0" stroke="#555" stroke-opacity="0.90" stroke-width="0.75" stroke-linecap="round"/></g><path d="M80.30,525.30 C80.87,524.63 81.48,524.43 82.20,524.60 C82.92,524.77 83.88,525.15 84.60,526.30 C85.32,527.45 85.70,529.35 86.50,531.50 C87.30,533.65 88.83,537.35 89.40,539.20 C89.97,541.05 90.13,541.00 89.90,542.60 C89.67,544.20 88.88,546.95 88.00,548.80 C87.12,550.65 85.73,551.77 84.60,553.70 C83.47,555.63 82.00,558.00 81.20,560.40 C80.40,562.80 80.50,566.55 79.80,568.10 C79.10,569.65 77.72,570.02 77.00,569.70 C76.28,569.38 75.92,568.40 75.50,566.20 C75.08,564.00 75.15,559.40 74.50,556.50 C73.85,553.60 72.32,550.72 71.60,548.80 C70.88,546.88 70.03,546.60 70.20,545.00 C70.37,543.40 71.55,541.27 72.60,539.20 C73.65,537.13 75.47,534.37 76.50,532.60 C77.53,530.83 78.17,529.82 78.80,528.60 C79.43,527.38 79.73,525.97 80.30,525.30 Z" fill="#2134b8" stroke="#1a1a84" stroke-width="1.8" filter="url(#b03)"/><ellipse cx="80.2" cy="546" rx="3.4" ry="19.5" fill="#1ca8e6" opacity="1" filter="url(#b1)" transform="rotate(9 80.2 546)"/><ellipse cx="79.1" cy="549" rx="2.3" ry="11" fill="#2ec050" opacity="1" filter="url(#b1)" transform="rotate(9 79.1 549)"/><ellipse cx="78.9" cy="549.8" rx="1.6" ry="6.5" fill="#c8d820" opacity="1" filter="url(#b06)" transform="rotate(9 78.9 549.8)"/><ellipse cx="78.8" cy="550.2" rx="1.0" ry="4.2" fill="#f08010" opacity="1" filter="url(#b06)" transform="rotate(9 78.8 550.2)"/></g><rect x="61.5" y="522.5" width="66" height="66" fill="none" stroke="#444" stroke-width="0.8"/><polyline points="79.4,570.5 79.1,575.0 128.0,574.3" fill="none" stroke="#7a7a7a" stroke-width="0.8"/><text x="96.6" y="570.0999999999999" font-size="6.2" fill="#333" stroke="#333" stroke-width="0.12" >2.04%</text><line x1="58.8" y1="588.5" x2="61.5" y2="588.5" stroke="#333" stroke-width="0.8" /><text x="55.7" y="590.5" font-size="6.0" text-anchor="end" fill="#333" stroke="#333" stroke-width="0.12" >0</text><line x1="60.2" y1="585.79" x2="61.5" y2="585.79" stroke="#666" stroke-width="0.5" /><line x1="60.2" y1="583.28" x2="61.5" y2="583.28" stroke="#666" stroke-width="0.5" /><line x1="60.2" y1="580.77" x2="61.5" y2="580.77" stroke="#666" stroke-width="0.5" /><line x1="60.2" y1="578.26" x2="61.5" y2="578.26" stroke="#666" stroke-width="0.5" /><line x1="58.8" y1="575.5" x2="61.5" y2="575.5" stroke="#333" stroke-width="0.8" /><text x="55.7" y="577.95" font-size="6.0" text-anchor="end" fill="#333" stroke="#333" stroke-width="0.12" >50K</text><line x1="60.2" y1="573.24" x2="61.5" y2="573.24" stroke="#666" stroke-width="0.5" /><line x1="60.2" y1="570.73" x2="61.5" y2="570.73" stroke="#666" stroke-width="0.5" /><line x1="60.2" y1="568.22" x2="61.5" y2="568.22" stroke="#666" stroke-width="0.5" /><line x1="60.2" y1="565.71" x2="61.5" y2="565.71" stroke="#666" stroke-width="0.5" /><line x1="58.8" y1="563.5" x2="61.5" y2="563.5" stroke="#333" stroke-width="0.8" /><text x="55.7" y="565.4" font-size="6.0" text-anchor="end" fill="#333" stroke="#333" stroke-width="0.12" >100K</text><line x1="60.2" y1="560.6899999999999" x2="61.5" y2="560.6899999999999" stroke="#666" stroke-width="0.5" /><line x1="60.2" y1="558.18" x2="61.5" y2="558.18" stroke="#666" stroke-width="0.5" /><line x1="60.2" y1="555.67" x2="61.5" y2="555.67" stroke="#666" stroke-width="0.5" /><line x1="60.2" y1="553.16" x2="61.5" y2="553.16" stroke="#666" stroke-width="0.5" /><line x1="58.8" y1="550.5" x2="61.5" y2="550.5" stroke="#333" stroke-width="0.8" /><text x="55.7" y="552.85" font-size="6.0" text-anchor="end" fill="#333" stroke="#333" stroke-width="0.12" >150K</text><line x1="60.2" y1="548.14" x2="61.5" y2="548.14" stroke="#666" stroke-width="0.5" /><line x1="60.2" y1="545.63" x2="61.5" y2="545.63" stroke="#666" stroke-width="0.5" /><line x1="60.2" y1="543.12" x2="61.5" y2="543.12" stroke="#666" stroke-width="0.5" /><line x1="60.2" y1="540.61" x2="61.5" y2="540.61" stroke="#666" stroke-width="0.5" /><line x1="58.8" y1="538.5" x2="61.5" y2="538.5" stroke="#333" stroke-width="0.8" /><text x="55.7" y="540.3" font-size="6.0" text-anchor="end" fill="#333" stroke="#333" stroke-width="0.12" >200K</text><line x1="60.2" y1="535.5899999999999" x2="61.5" y2="535.5899999999999" stroke="#666" stroke-width="0.5" /><line x1="60.2" y1="533.0799999999999" x2="61.5" y2="533.0799999999999" stroke="#666" stroke-width="0.5" /><line x1="60.2" y1="530.5699999999999" x2="61.5" y2="530.5699999999999" stroke="#666" stroke-width="0.5" /><line x1="60.2" y1="528.06" x2="61.5" y2="528.06" stroke="#666" stroke-width="0.5" /><line x1="58.8" y1="525.5" x2="61.5" y2="525.5" stroke="#333" stroke-width="0.8" /><text x="55.7" y="527.75" font-size="6.0" text-anchor="end" fill="#333" stroke="#333" stroke-width="0.12" >250K</text><rect x="74.5" y="588.5" width="3" height="2.0" fill="#111"/><line x1="64.5" y1="588.5" x2="64.5" y2="590.7" stroke="#333" stroke-width="0.8" /><line x1="87.5" y1="588.5" x2="87.5" y2="590.7" stroke="#333" stroke-width="0.8" /><line x1="106.5" y1="588.5" x2="106.5" y2="590.7" stroke="#333" stroke-width="0.8" /><line x1="121.5" y1="588.5" x2="121.5" y2="590.7" stroke="#333" stroke-width="0.8" /><line x1="93.06905491978365" y1="588.5" x2="93.06905491978365" y2="589.7" stroke="#555" stroke-width="0.5" /><line x1="96.32674321231376" y1="588.5" x2="96.32674321231376" y2="589.7" stroke="#555" stroke-width="0.5" /><line x1="98.6381098395673" y1="588.5" x2="98.6381098395673" y2="589.7" stroke="#555" stroke-width="0.5" /><line x1="100.43094508021635" y1="588.5" x2="100.43094508021635" y2="589.7" stroke="#555" stroke-width="0.5" /><line x1="101.89579813209741" y1="588.5" x2="101.89579813209741" y2="589.7" stroke="#555" stroke-width="0.5" /><line x1="103.13431374026375" y1="588.5" x2="103.13431374026375" y2="589.7" stroke="#555" stroke-width="0.5" /><line x1="104.20716475935096" y1="588.5" x2="104.20716475935096" y2="589.7" stroke="#555" stroke-width="0.5" /><line x1="105.15348642462752" y1="588.5" x2="105.15348642462752" y2="589.7" stroke="#555" stroke-width="0.5" /><line x1="110.63586193322531" y1="588.5" x2="110.63586193322531" y2="589.7" stroke="#555" stroke-width="0.5" /><line x1="113.34766732268281" y1="588.5" x2="113.34766732268281" y2="589.7" stroke="#555" stroke-width="0.5" /><line x1="115.27172386645063" y1="588.5" x2="115.27172386645063" y2="589.7" stroke="#555" stroke-width="0.5" /><line x1="116.76413806677469" y1="588.5" x2="116.76413806677469" y2="589.7" stroke="#555" stroke-width="0.5" /><line x1="117.98352925590811" y1="588.5" x2="117.98352925590811" y2="589.7" stroke="#555" stroke-width="0.5" /><line x1="119.01450981621956" y1="588.5" x2="119.01450981621956" y2="589.7" stroke="#555" stroke-width="0.5" /><line x1="119.90758579967593" y1="588.5" x2="119.90758579967593" y2="589.7" stroke="#555" stroke-width="0.5" /><line x1="120.6953346453656" y1="588.5" x2="120.6953346453656" y2="589.7" stroke="#555" stroke-width="0.5" /><line x1="67.0" y1="588.5" x2="67.0" y2="589.7" stroke="#555" stroke-width="0.5" /><line x1="69.5" y1="588.5" x2="69.5" y2="589.7" stroke="#555" stroke-width="0.5" /><line x1="72.0" y1="588.5" x2="72.0" y2="589.7" stroke="#555" stroke-width="0.5" /><line x1="79.5" y1="588.5" x2="79.5" y2="589.7" stroke="#555" stroke-width="0.5" /><line x1="82.0" y1="588.5" x2="82.0" y2="589.7" stroke="#555" stroke-width="0.5" /><line x1="84.5" y1="588.5" x2="84.5" y2="589.7" stroke="#555" stroke-width="0.5" /><line x1="123.5" y1="588.5" x2="123.5" y2="589.7" stroke="#555" stroke-width="0.5" /><line x1="126.0" y1="588.5" x2="126.0" y2="589.7" stroke="#555" stroke-width="0.5" /><text x="63.8" y="600.2" font-size="6.2" text-anchor="middle" fill="#333" stroke="#333" stroke-width="0.12" >&#8722;10<tspan font-size="4.4" dy="-2.5">3</tspan></text><text x="76.0" y="600.2" font-size="6.2" text-anchor="middle" fill="#333" stroke="#333" stroke-width="0.12" >0</text><text x="87.8" y="600.2" font-size="6.2" text-anchor="middle" fill="#333" stroke="#333" stroke-width="0.12" >10<tspan font-size="4.4" dy="-2.5">3</tspan></text><text x="105.5" y="600.2" font-size="6.2" text-anchor="middle" fill="#333" stroke="#333" stroke-width="0.12" >10<tspan font-size="4.4" dy="-2.5">4</tspan></text><text x="121.0" y="600.2" font-size="6.2" text-anchor="middle" fill="#333" stroke="#333" stroke-width="0.12" >10<tspan font-size="4.4" dy="-2.5">5</tspan></text><clipPath id="cc4"><rect x="162.5" y="522.6" width="65.8" height="65.8"/></clipPath><g clip-path="url(#cc4)"><g filter="url(#b03)"><path d="M188.9 537.8h0M183.4 536.2h0M197.0 550.5h0M202.0 539.9h0M195.2 550.5h0M209.2 524.0h0M204.4 545.7h0M192.8 519.9h0M215.6 539.4h0M196.1 536.6h0M209.6 538.5h0M197.6 540.0h0M209.1 536.1h0M193.0 529.0h0M188.3 539.5h0M209.9 525.9h0M196.8 545.1h0" stroke="#666" stroke-opacity="0.50" stroke-width="1.0" stroke-linecap="round"/><path d="M202.9 534.2h0M196.9 543.8h0M196.5 552.2h0M204.7 526.3h0M188.7 537.3h0M193.3 543.1h0M194.9 559.2h0M199.1 531.9h0M193.8 543.6h0M194.8 546.8h0M193.9 535.4h0M189.3 552.2h0M188.8 542.6h0M198.1 526.0h0M204.1 530.6h0M202.3 547.2h0M196.2 527.4h0M203.9 536.8h0M209.0 527.3h0M196.5 545.2h0M201.0 541.6h0M198.0 537.3h0M194.8 531.8h0M201.5 553.3h0M197.4 538.0h0M191.3 539.4h0M204.9 555.5h0M194.6 521.4h0M198.7 548.6h0M197.1 548.1h0M194.6 529.0h0M205.5 543.8h0M191.9 532.5h0M197.5 547.5h0M206.1 532.3h0M208.3 548.2h0M199.1 541.2h0M204.8 536.9h0M207.3 546.6h0M192.6 541.6h0M199.8 554.7h0M210.6 536.0h0M197.7 557.1h0M209.2 533.6h0M196.2 547.7h0M203.4 540.0h0M204.8 522.3h0M196.2 545.1h0M203.3 543.3h0M193.5 534.8h0M206.9 535.2h0M195.9 529.5h0M190.5 546.9h0M191.4 535.1h0M195.3 544.1h0M192.9 531.9h0M198.9 549.1h0M197.5 535.9h0M183.4 540.3h0M191.0 539.4h0M190.1 562.9h0M186.7 534.1h0M182.5 541.4h0M203.2 544.5h0M201.3 533.0h0M184.8 531.1h0M196.4 532.2h0M205.1 520.0h0M196.7 523.3h0M192.1 526.1h0M193.8 531.5h0" stroke="#666" stroke-opacity="0.30" stroke-width="1.0" stroke-linecap="round"/><path d="M200.1 541.7h0M194.2 534.3h0M197.9 523.6h0M196.9 514.8h0M201.8 545.3h0M203.4 543.2h0M187.1 528.4h0M186.6 535.5h0M191.5 545.5h0M211.2 538.2h0M210.6 524.6h0M198.2 527.5h0M189.2 544.9h0M204.0 546.4h0M196.8 537.1h0M198.0 544.6h0M197.5 543.9h0M193.4 535.2h0M203.3 543.4h0M207.2 541.0h0M188.4 537.3h0M193.1 538.8h0M196.8 535.7h0M194.4 533.4h0M198.0 542.6h0M197.9 529.2h0M194.3 549.3h0M206.8 547.5h0M202.0 534.6h0M195.2 529.2h0M187.1 525.6h0M190.6 550.7h0M199.0 550.5h0M191.4 544.2h0M195.8 546.5h0M194.3 548.6h0M216.4 541.6h0M202.3 540.2h0M193.0 521.4h0M192.5 528.2h0M198.4 538.0h0M194.4 543.5h0M211.2 543.6h0M191.9 541.1h0M191.7 534.2h0M207.0 532.8h0M203.9 534.6h0M199.4 540.9h0M204.0 537.4h0M205.8 543.2h0" stroke="#666" stroke-opacity="0.30" stroke-width="0.75" stroke-linecap="round"/><path d="M194.4 547.2h0M206.8 529.3h0M194.9 545.3h0M206.1 535.0h0M187.0 532.1h0M209.2 542.7h0M192.7 526.0h0M190.5 520.7h0M188.7 536.2h0M190.5 541.7h0M198.7 542.0h0M199.7 546.8h0M192.8 542.9h0M191.6 516.4h0M186.6 540.2h0M193.5 540.5h0M197.2 531.6h0M190.4 529.6h0M185.0 545.1h0M203.5 552.3h0M199.4 541.6h0M196.6 532.4h0" stroke="#666" stroke-opacity="0.50" stroke-width="0.75" stroke-linecap="round"/></g><path d="M186.90,521.50 L187.90,525.20 L189.80,529.50 L191.30,537.20 L190.80,542.00 L188.40,547.80 L185.50,554.50 L182.10,562.20 L186.22,564.02 L189.62,556.32 L189.63,556.29 L192.53,549.59 L192.56,549.52 L194.96,543.72 L195.28,542.47 L195.78,537.67 L195.72,536.34 L194.22,528.64 L193.92,527.68 L192.02,523.38 L192.24,524.03 L191.24,520.33 Z" fill="#606070" opacity="0.2" filter="url(#b1)"/><g filter="url(#b03)"><path d="M197.6 546.1h0M195.2 521.9h0M193.9 547.3h0M183.6 558.6h0M191.4 534.6h0M201.2 540.6h0M191.8 547.2h0M188.1 554.1h0M191.4 532.0h0M186.9 557.8h0M190.1 548.5h0M193.2 529.6h0M215.8 559.4h0M187.5 523.6h0M192.1 549.8h0M185.7 554.6h0M188.4 551.5h0M193.9 552.1h0M203.4 550.5h0M191.8 539.6h0M202.9 542.5h0M188.1 554.1h0M198.1 538.3h0M201.5 540.7h0M190.2 546.6h0M195.9 565.4h0M191.6 530.8h0M199.5 561.5h0M188.6 563.4h0M190.6 531.5h0M192.4 552.7h0M192.1 536.2h0M191.1 559.8h0M188.6 548.3h0M186.2 556.1h0M191.2 533.1h0M187.6 552.0h0M188.2 550.8h0M188.3 551.0h0M186.9 550.4h0M192.1 532.7h0M186.3 561.2h0M189.5 546.8h0M195.5 556.5h0M191.6 528.1h0M191.2 545.6h0M194.8 539.7h0M188.6 561.2h0M187.9 551.3h0M187.1 554.1h0M189.8 545.9h0M192.2 540.6h0M189.8 549.9h0M184.6 562.4h0M191.6 550.6h0M184.0 560.0h0M195.8 535.8h0M195.6 534.6h0M191.0 554.5h0M190.7 523.8h0M191.5 546.1h0M203.9 543.1h0M199.3 555.3h0M188.5 548.7h0M192.2 542.1h0M203.6 531.6h0M190.5 531.7h0M192.7 543.9h0M193.9 564.7h0M191.8 548.7h0M196.9 547.0h0M196.8 529.4h0M212.3 526.8h0M190.5 535.3h0M190.6 523.6h0M195.1 550.4h0M186.9 550.6h0M188.5 556.2h0M182.4 561.8h0M192.0 538.5h0M193.4 532.5h0M189.6 524.4h0M193.6 525.7h0M215.1 525.8h0M190.9 528.5h0M186.3 561.0h0M186.7 551.0h0M183.6 559.5h0M190.4 528.2h0M194.8 558.2h0M194.6 548.4h0M187.9 525.5h0M192.7 537.1h0M193.4 531.5h0M186.0 563.7h0M187.1 559.8h0M198.8 534.8h0M189.5 526.7h0M188.2 521.7h0M206.0 552.7h0M189.9 561.3h0M197.0 528.3h0M191.7 527.2h0M193.1 564.4h0M192.4 524.4h0M192.1 551.6h0M199.2 541.5h0M184.1 557.8h0M190.9 547.1h0" stroke="#484848" stroke-opacity="0.50" stroke-width="1.0" stroke-linecap="round"/><path d="M188.6 549.0h0M182.8 560.6h0M205.4 533.8h0M184.5 560.3h0M189.2 552.6h0M188.3 556.5h0M187.7 524.4h0M191.7 546.1h0M192.8 520.7h0M187.8 552.4h0M192.2 542.9h0M191.9 530.4h0M194.2 558.6h0M189.6 521.7h0M192.5 541.2h0M182.6 560.7h0M188.0 525.9h0M190.8 544.6h0M190.9 537.2h0M187.4 556.4h0M187.0 552.3h0M185.4 553.7h0M188.0 548.9h0M191.7 557.2h0M206.4 528.6h0M193.1 523.1h0M187.8 549.3h0M184.7 562.6h0M191.0 526.2h0M194.6 540.7h0M188.8 527.0h0M194.2 531.5h0M191.3 532.8h0M189.5 523.0h0M188.5 523.3h0M196.1 519.2h0M184.2 558.3h0M192.9 561.6h0M188.2 559.9h0M203.4 529.3h0M202.7 534.6h0M186.3 550.9h0M190.3 529.4h0M189.7 550.8h0M191.9 545.8h0M187.0 558.7h0M191.7 531.6h0M183.4 561.3h0M185.6 556.8h0M184.4 561.1h0M189.0 530.3h0M186.9 553.8h0M195.8 531.2h0M186.3 554.0h0M185.8 553.8h0M187.4 551.0h0M191.1 552.3h0M205.2 539.0h0M191.8 558.5h0M191.3 559.3h0M191.0 560.2h0M192.1 536.1h0M200.3 569.1h0M187.8 521.3h0M203.3 554.3h0M187.9 561.6h0M191.8 534.8h0M195.3 523.4h0M183.1 559.9h0M192.2 544.5h0M190.8 546.5h0M194.2 542.2h0M192.4 557.6h0M193.9 527.8h0M195.9 541.2h0M183.9 561.0h0M194.6 527.0h0M190.9 540.9h0M185.3 560.1h0M189.0 559.7h0M192.3 530.5h0M192.2 553.8h0M188.5 525.1h0M191.5 523.8h0M192.6 533.4h0M199.1 555.9h0M207.5 520.5h0M184.6 556.1h0M208.2 518.1h0M191.2 519.9h0M192.5 559.7h0M190.6 525.4h0M192.3 524.0h0M198.5 524.4h0M188.1 551.0h0M189.8 548.7h0M191.4 522.6h0M189.5 552.1h0M193.0 536.6h0M187.3 551.8h0M189.4 528.6h0M183.1 560.1h0M192.7 547.5h0M191.8 528.1h0M193.3 531.1h0M192.1 538.4h0M189.1 555.3h0" stroke="#484848" stroke-opacity="0.30" stroke-width="1.0" stroke-linecap="round"/><path d="M192.6 542.2h0M199.2 521.7h0M196.6 559.6h0M203.1 550.2h0M188.9 521.6h0M192.6 526.7h0M193.3 542.7h0M197.6 526.6h0M190.7 535.2h0M186.2 552.9h0M190.1 545.9h0M194.2 534.3h0M187.5 551.8h0M189.0 523.0h0M194.2 547.0h0M195.9 561.8h0M198.1 561.8h0M193.0 556.2h0M184.3 558.8h0M196.9 529.7h0M183.2 561.7h0M190.3 556.5h0M188.3 526.4h0M191.8 531.4h0M190.5 523.1h0M204.6 557.6h0M188.7 545.6h0M192.4 529.4h0M192.5 555.3h0M182.2 560.5h0M192.0 553.1h0M190.9 526.8h0M196.5 528.3h0M191.9 545.9h0M192.0 544.0h0M191.3 555.1h0M186.5 550.5h0M192.6 538.0h0M196.6 542.2h0M198.0 529.1h0M203.1 530.4h0M191.0 526.7h0M192.3 546.2h0M189.0 557.1h0M186.2 559.7h0M187.6 523.5h0M194.8 547.5h0M193.1 548.2h0M210.8 517.5h0M192.4 537.8h0M190.6 529.1h0M204.9 541.7h0M194.5 538.9h0M190.5 531.4h0M191.5 538.4h0M204.0 540.5h0M195.3 538.1h0M187.1 557.0h0M188.6 559.3h0M189.9 551.9h0M189.8 545.4h0M192.8 546.5h0M202.0 541.0h0M190.6 553.8h0M189.3 555.1h0M210.2 543.0h0M188.5 526.8h0M196.4 546.1h0M198.0 535.5h0M196.1 541.9h0M199.3 539.0h0M197.3 536.1h0M194.1 554.0h0M189.3 556.9h0M191.1 545.8h0M198.0 554.8h0M188.8 524.3h0M199.8 535.3h0M193.5 549.0h0M191.1 543.5h0M190.6 524.3h0M191.2 527.2h0M201.3 522.5h0M185.0 559.0h0" stroke="#484848" stroke-opacity="0.70" stroke-width="0.75" stroke-linecap="round"/><path d="M193.0 527.5h0M192.9 520.6h0M190.4 527.1h0M190.5 529.8h0M188.3 555.2h0M197.2 563.8h0M202.4 539.8h0M196.6 563.3h0M195.7 527.5h0M189.1 547.9h0M187.5 523.0h0M199.3 550.9h0M185.5 554.7h0M190.3 529.5h0M200.6 549.9h0M197.8 555.7h0M193.9 536.0h0M195.5 559.5h0M187.8 553.8h0M192.1 532.0h0M193.9 544.0h0M196.6 535.1h0M200.8 547.2h0M191.6 541.4h0M204.2 539.1h0M188.1 522.7h0M194.1 546.9h0M198.6 521.6h0M195.1 532.5h0M190.7 544.1h0M187.0 556.0h0M198.6 535.3h0M196.1 531.1h0M190.1 524.4h0M201.2 523.3h0M199.2 528.3h0M189.6 563.7h0M193.7 537.6h0M200.8 554.0h0M188.5 563.2h0M192.5 533.5h0M214.2 515.1h0M199.8 560.6h0M199.5 551.3h0M191.5 524.0h0M190.6 528.5h0M194.1 531.8h0M184.4 555.0h0M188.5 560.5h0M196.6 530.3h0M193.1 528.4h0M190.4 529.5h0M203.5 553.1h0M190.9 524.2h0M191.1 551.5h0M188.4 552.4h0M192.2 548.7h0M204.3 539.9h0M189.0 526.2h0M190.8 549.3h0M192.0 532.9h0M200.0 524.5h0M187.7 553.6h0M204.7 541.2h0M188.5 555.4h0M188.9 556.4h0M190.7 561.5h0M186.5 557.3h0M198.6 538.7h0M198.3 563.9h0M194.2 539.4h0M197.1 533.8h0M186.6 553.5h0M191.6 544.7h0M196.9 550.1h0M192.5 533.5h0M193.7 536.1h0M192.8 547.2h0M184.7 559.2h0M194.5 552.9h0M189.7 549.7h0M200.7 539.0h0M190.5 526.7h0M192.0 530.0h0M189.7 548.1h0M195.1 535.5h0M193.2 539.9h0M184.9 556.1h0M191.1 540.9h0M196.2 522.7h0M188.3 552.4h0M195.8 535.9h0M202.6 554.9h0M189.8 529.0h0M198.5 563.0h0M188.4 523.6h0M192.7 563.6h0M192.4 539.6h0M201.3 533.1h0M191.0 565.0h0M188.0 526.2h0M184.6 556.4h0M192.1 540.2h0M183.0 562.5h0M188.4 555.1h0M192.1 546.0h0M196.1 542.2h0M188.2 549.8h0" stroke="#484848" stroke-opacity="0.50" stroke-width="0.75" stroke-linecap="round"/><path d="M192.0 538.0h0M191.2 547.6h0M191.6 533.4h0M200.2 532.2h0M199.4 528.0h0M192.1 522.7h0M196.1 563.1h0M183.9 561.0h0M188.8 557.6h0M191.5 540.4h0M190.6 532.3h0M194.5 541.6h0M185.4 560.1h0M191.2 549.0h0M192.0 538.5h0M186.7 553.0h0M190.7 535.0h0M191.8 536.4h0M190.5 551.6h0M189.2 553.4h0M198.8 538.7h0M201.9 529.9h0M189.2 521.1h0M191.0 543.4h0M184.3 558.1h0M200.1 539.7h0M188.4 547.3h0M185.9 555.6h0M197.5 520.1h0M196.5 530.3h0M190.4 536.1h0M192.3 539.2h0M191.1 521.1h0M194.5 539.8h0M182.8 561.7h0M191.9 550.2h0M188.1 557.1h0M193.9 535.1h0M189.1 522.5h0M194.6 525.5h0M194.3 529.8h0M189.2 528.8h0M191.0 544.3h0M196.3 535.5h0M190.0 521.6h0M190.0 525.3h0M191.9 524.4h0M197.4 545.7h0M195.6 527.1h0M190.5 544.0h0M191.0 524.1h0M193.0 551.6h0M191.0 521.2h0M190.1 550.0h0M192.6 522.2h0M199.4 527.4h0M190.9 524.4h0M189.0 552.3h0M202.3 556.5h0M186.2 560.2h0M190.2 549.1h0M185.9 557.3h0M194.1 525.8h0M190.8 552.2h0M191.7 536.6h0M187.6 552.9h0M201.3 529.8h0M196.8 534.6h0M200.9 559.2h0M192.9 545.8h0M211.3 540.9h0M181.3 561.9h0M189.9 544.3h0M184.8 560.1h0M192.0 539.0h0M188.4 552.8h0M186.0 554.7h0M197.0 554.5h0M195.8 551.0h0M188.9 549.1h0M189.5 529.2h0M190.5 549.4h0M192.6 537.4h0M207.9 539.1h0M195.9 541.8h0M189.9 554.8h0M190.8 535.6h0M185.4 563.0h0M201.7 520.8h0M199.2 542.5h0M184.7 559.8h0M194.2 541.3h0M195.9 524.1h0" stroke="#484848" stroke-opacity="0.30" stroke-width="0.75" stroke-linecap="round"/><path d="M187.8 560.2h0M190.5 521.4h0M192.6 533.0h0M187.9 555.0h0M189.4 523.7h0M199.5 542.4h0M191.6 532.1h0M192.9 530.8h0M195.4 525.3h0M192.7 538.8h0M189.9 549.8h0M195.2 521.2h0M185.0 557.9h0M190.0 525.1h0M192.0 525.6h0M190.5 524.9h0M195.1 566.4h0M193.4 543.3h0M184.1 560.9h0M184.9 563.1h0M193.3 531.4h0M202.0 520.1h0M189.8 551.6h0M185.0 560.2h0M190.4 548.7h0M188.4 523.1h0M190.2 561.6h0M195.9 538.5h0M188.2 549.1h0M203.4 539.1h0M185.4 561.2h0M188.6 559.8h0M192.0 561.4h0M190.0 563.5h0M190.6 547.0h0M187.6 551.8h0M190.5 551.5h0M216.6 527.0h0M189.3 522.0h0M196.2 536.0h0M193.9 531.4h0M191.9 530.7h0M192.4 551.4h0M187.1 552.8h0M184.8 563.4h0M192.8 520.6h0M193.9 546.5h0M190.4 528.4h0M197.7 529.5h0M194.8 547.9h0M184.0 561.7h0M191.7 542.0h0M196.5 548.4h0M185.5 558.8h0M194.7 555.4h0M186.9 559.9h0M189.9 547.3h0M199.7 547.9h0M191.8 541.9h0" stroke="#484848" stroke-opacity="0.70" stroke-width="1.0" stroke-linecap="round"/></g><path d="M178.30,568.30 L176.80,561.30 L174.40,554.50 L170.60,546.80 L167.70,542.00 L167.70,537.20 L169.10,531.50 L171.50,529.10 L176.30,525.20 L178.80,521.50 L176.73,520.10 L174.23,523.80 L174.72,523.26 L169.92,527.16 L169.73,527.33 L167.33,529.73 L166.67,530.90 L165.27,536.60 L165.20,537.20 L165.20,542.00 L165.56,543.29 L168.46,548.09 L168.36,547.91 L172.16,555.61 L172.04,555.33 L174.44,562.13 L174.36,561.82 L175.86,568.82 Z" fill="#606070" opacity="0.15" filter="url(#b1)"/><g filter="url(#b03)"><path d="M173.5 560.0h0M165.3 533.1h0M175.9 559.7h0M174.2 525.0h0M169.9 544.8h0M179.5 521.5h0M168.3 549.4h0M172.1 559.0h0M172.0 522.6h0M167.7 546.2h0M171.2 550.1h0M172.4 557.9h0M177.1 566.8h0M173.0 559.9h0M170.8 550.1h0M171.2 525.5h0M169.5 527.9h0M172.8 528.1h0M165.5 542.3h0M165.9 536.2h0M178.3 520.9h0M174.2 553.3h0M168.9 550.9h0M167.7 542.6h0M173.9 556.2h0M170.1 556.5h0M169.2 530.4h0M175.5 526.1h0M168.6 534.5h0M170.5 545.7h0M177.0 568.2h0M165.2 550.7h0M175.1 556.7h0M168.5 547.4h0M177.2 566.0h0M167.8 543.7h0M172.5 560.5h0M165.9 539.5h0M172.4 552.6h0M174.7 560.7h0M169.0 531.9h0M176.4 524.5h0M168.0 543.8h0M174.2 554.8h0M174.6 561.0h0M168.5 557.8h0M167.9 545.2h0M167.2 540.4h0M168.0 550.2h0M175.5 524.2h0M175.1 556.5h0M165.1 549.9h0M175.6 562.4h0M171.3 558.6h0M168.6 542.7h0" stroke="#555" stroke-opacity="0.50" stroke-width="0.75" stroke-linecap="round"/><path d="M168.1 545.5h0M164.9 541.8h0M169.1 550.0h0M168.5 522.4h0M174.1 554.7h0M163.0 544.6h0M174.7 561.8h0M176.3 567.3h0M171.9 548.6h0M175.1 565.6h0M172.2 564.8h0M166.7 539.2h0M176.4 523.2h0M167.2 536.0h0M170.2 549.9h0M165.5 538.9h0M170.0 555.7h0M174.0 524.3h0M173.9 559.4h0M161.6 548.1h0M172.9 552.2h0M168.3 550.5h0M164.0 544.7h0M164.3 530.9h0M167.1 534.0h0M169.0 543.0h0M175.9 560.1h0M173.2 558.5h0M169.0 546.0h0M170.2 528.8h0M168.0 532.6h0M165.5 545.5h0M172.8 553.0h0M174.8 521.0h0M172.9 553.7h0M163.7 547.2h0M169.6 529.0h0M172.5 519.4h0M170.4 556.1h0M173.8 555.5h0M173.7 553.4h0M169.7 531.3h0M177.3 564.1h0M168.5 563.6h0M168.4 546.7h0M167.0 539.7h0M170.6 527.9h0M165.8 557.3h0M171.5 523.4h0" stroke="#555" stroke-opacity="0.50" stroke-width="1.0" stroke-linecap="round"/><path d="M167.4 531.7h0M175.9 562.5h0M166.5 536.5h0M173.0 560.6h0M177.0 524.7h0M174.1 522.9h0M172.8 563.4h0M167.8 563.2h0M168.3 544.0h0M168.0 515.3h0M173.4 526.8h0M175.6 558.9h0M168.5 534.3h0M174.3 526.8h0M175.4 561.5h0M172.5 553.0h0M175.7 558.2h0M165.9 541.3h0M172.7 561.8h0M173.8 564.2h0M172.8 549.0h0M166.3 543.8h0M170.6 563.0h0M170.3 516.7h0M176.7 561.7h0M169.4 545.1h0M167.5 533.3h0M174.4 564.4h0M175.9 568.6h0M166.8 538.6h0M168.1 545.7h0M166.0 540.2h0M174.4 557.8h0M169.2 559.8h0M168.8 536.4h0M173.8 567.6h0M170.0 550.5h0M172.0 551.5h0M162.7 537.2h0M171.7 551.5h0M171.1 547.3h0M168.7 532.8h0M177.4 523.2h0M175.3 564.8h0M169.4 565.1h0M170.4 558.2h0M178.5 522.1h0M172.1 523.0h0M169.4 546.0h0M165.6 537.4h0" stroke="#555" stroke-opacity="0.70" stroke-width="1.0" stroke-linecap="round"/><path d="M175.9 557.4h0M173.9 563.4h0M169.4 526.2h0M176.1 561.6h0M176.5 524.7h0M167.4 539.5h0M170.9 529.2h0M173.9 556.3h0M170.5 564.4h0M167.8 546.0h0M171.5 523.9h0M172.6 520.7h0M172.8 555.4h0M171.4 527.2h0M168.3 548.3h0M178.2 564.4h0M174.1 563.6h0M166.6 538.4h0M173.9 526.2h0M172.8 528.0h0M175.7 520.0h0M167.2 542.1h0M170.6 526.7h0M169.3 547.8h0M172.3 524.0h0M177.0 564.1h0M165.9 535.7h0M165.2 521.7h0M167.6 542.4h0M175.3 563.8h0M167.2 543.5h0M163.7 534.4h0M168.5 545.8h0M168.0 551.2h0M166.3 553.3h0M179.1 522.8h0M174.7 524.0h0M174.0 561.6h0" stroke="#555" stroke-opacity="0.70" stroke-width="0.75" stroke-linecap="round"/><path d="M171.6 527.1h0M173.3 560.5h0M177.4 567.4h0M176.0 567.7h0M168.3 537.9h0M168.7 546.3h0M173.9 554.1h0M172.2 525.9h0M172.3 562.9h0M176.7 561.9h0M178.3 564.4h0M173.7 528.2h0M176.3 560.4h0M158.5 534.4h0M169.9 546.0h0M175.0 556.5h0M171.3 555.0h0M171.5 550.2h0" stroke="#555" stroke-opacity="0.30" stroke-width="0.75" stroke-linecap="round"/><path d="M163.9 564.5h0M165.6 538.5h0M176.0 567.6h0M173.4 557.0h0M172.2 557.5h0M168.6 532.3h0M175.4 524.1h0M176.5 566.1h0M170.9 525.1h0M169.9 524.1h0M163.1 552.4h0M168.2 543.7h0M177.6 566.2h0M174.5 564.8h0M171.7 550.9h0M174.4 526.9h0M167.6 548.2h0M164.1 534.6h0M162.5 523.2h0M170.8 556.7h0" stroke="#555" stroke-opacity="0.30" stroke-width="1.0" stroke-linecap="round"/><path d="M167.7 541.4h0M172.1 549.4h0M174.2 559.1h0M175.4 524.6h0M167.0 528.8h0M167.7 541.0h0M177.8 524.9h0M173.8 553.6h0M163.4 533.9h0M168.9 552.6h0M174.9 568.4h0M176.7 564.8h0M166.5 553.4h0M167.4 540.0h0" stroke="#555" stroke-opacity="0.90" stroke-width="1.0" stroke-linecap="round"/><path d="M166.3 545.7h0M163.2 539.1h0M171.3 523.6h0M174.6 563.1h0M168.2 551.7h0M161.6 530.7h0M177.5 565.7h0M165.5 540.5h0M166.7 538.8h0M177.2 568.5h0M177.1 562.4h0M169.6 553.0h0M168.3 527.7h0M151.1 571.8h0M169.4 531.1h0M168.0 536.5h0" stroke="#555" stroke-opacity="0.90" stroke-width="0.75" stroke-linecap="round"/></g><path d="M178.80,521.50 C180.57,520.88 185.38,520.88 186.90,521.50 C188.42,522.12 187.42,523.87 187.90,525.20 C188.38,526.53 189.23,527.50 189.80,529.50 C190.37,531.50 191.13,535.12 191.30,537.20 C191.47,539.28 191.28,540.23 190.80,542.00 C190.32,543.77 189.28,545.72 188.40,547.80 C187.52,549.88 186.55,552.10 185.50,554.50 C184.45,556.90 183.07,560.03 182.10,562.20 C181.13,564.37 180.33,566.48 179.70,567.50 C179.07,568.52 178.78,569.33 178.30,568.30 C177.82,567.27 177.45,563.60 176.80,561.30 C176.15,559.00 175.43,556.92 174.40,554.50 C173.37,552.08 171.72,548.88 170.60,546.80 C169.48,544.72 168.18,543.60 167.70,542.00 C167.22,540.40 167.47,538.95 167.70,537.20 C167.93,535.45 168.47,532.85 169.10,531.50 C169.73,530.15 170.30,530.15 171.50,529.10 C172.70,528.05 175.08,526.47 176.30,525.20 C177.52,523.93 177.03,522.12 178.80,521.50 Z" fill="#2134b8" stroke="#1a1a84" stroke-width="1.8" filter="url(#b03)"/><ellipse cx="182.3" cy="542" rx="4.0" ry="21" fill="#1ca8e6" opacity="1" filter="url(#b1)" transform="rotate(9 182.3 542)"/><ellipse cx="181.0" cy="544" rx="2.5" ry="12" fill="#2ec050" opacity="1" filter="url(#b1)" transform="rotate(9 181.0 544)"/><ellipse cx="180.8" cy="544.5" rx="1.7" ry="7" fill="#c8d820" opacity="1" filter="url(#b06)" transform="rotate(9 180.8 544.5)"/><ellipse cx="180.7" cy="545" rx="1.1" ry="4.6" fill="#f08010" opacity="1" filter="url(#b06)" transform="rotate(9 180.7 545)"/></g><rect x="162.5" y="522.5" width="66" height="66" fill="none" stroke="#444" stroke-width="0.8"/><polyline points="179.8,569.4 179.3,574.7 228.3,574.0" fill="none" stroke="#7a7a7a" stroke-width="0.8"/><text x="197.7" y="569.8" font-size="6.2" fill="#333" stroke="#333" stroke-width="0.12" >2.29%</text><line x1="159.8" y1="588.5" x2="162.5" y2="588.5" stroke="#333" stroke-width="0.8" /><text x="156.7" y="590.5" font-size="6.0" text-anchor="end" fill="#333" stroke="#333" stroke-width="0.12" >0</text><line x1="161.2" y1="585.79" x2="162.5" y2="585.79" stroke="#666" stroke-width="0.5" /><line x1="161.2" y1="583.28" x2="162.5" y2="583.28" stroke="#666" stroke-width="0.5" /><line x1="161.2" y1="580.77" x2="162.5" y2="580.77" stroke="#666" stroke-width="0.5" /><line x1="161.2" y1="578.26" x2="162.5" y2="578.26" stroke="#666" stroke-width="0.5" /><line x1="159.8" y1="575.5" x2="162.5" y2="575.5" stroke="#333" stroke-width="0.8" /><text x="156.7" y="577.95" font-size="6.0" text-anchor="end" fill="#333" stroke="#333" stroke-width="0.12" >50K</text><line x1="161.2" y1="573.24" x2="162.5" y2="573.24" stroke="#666" stroke-width="0.5" /><line x1="161.2" y1="570.73" x2="162.5" y2="570.73" stroke="#666" stroke-width="0.5" /><line x1="161.2" y1="568.22" x2="162.5" y2="568.22" stroke="#666" stroke-width="0.5" /><line x1="161.2" y1="565.71" x2="162.5" y2="565.71" stroke="#666" stroke-width="0.5" /><line x1="159.8" y1="563.5" x2="162.5" y2="563.5" stroke="#333" stroke-width="0.8" /><text x="156.7" y="565.4" font-size="6.0" text-anchor="end" fill="#333" stroke="#333" stroke-width="0.12" >100K</text><line x1="161.2" y1="560.6899999999999" x2="162.5" y2="560.6899999999999" stroke="#666" stroke-width="0.5" /><line x1="161.2" y1="558.18" x2="162.5" y2="558.18" stroke="#666" stroke-width="0.5" /><line x1="161.2" y1="555.67" x2="162.5" y2="555.67" stroke="#666" stroke-width="0.5" /><line x1="161.2" y1="553.16" x2="162.5" y2="553.16" stroke="#666" stroke-width="0.5" /><line x1="159.8" y1="550.5" x2="162.5" y2="550.5" stroke="#333" stroke-width="0.8" /><text x="156.7" y="552.85" font-size="6.0" text-anchor="end" fill="#333" stroke="#333" stroke-width="0.12" >150K</text><line x1="161.2" y1="548.14" x2="162.5" y2="548.14" stroke="#666" stroke-width="0.5" /><line x1="161.2" y1="545.63" x2="162.5" y2="545.63" stroke="#666" stroke-width="0.5" /><line x1="161.2" y1="543.12" x2="162.5" y2="543.12" stroke="#666" stroke-width="0.5" /><line x1="161.2" y1="540.61" x2="162.5" y2="540.61" stroke="#666" stroke-width="0.5" /><line x1="159.8" y1="538.5" x2="162.5" y2="538.5" stroke="#333" stroke-width="0.8" /><text x="156.7" y="540.3" font-size="6.0" text-anchor="end" fill="#333" stroke="#333" stroke-width="0.12" >200K</text><line x1="161.2" y1="535.5899999999999" x2="162.5" y2="535.5899999999999" stroke="#666" stroke-width="0.5" /><line x1="161.2" y1="533.0799999999999" x2="162.5" y2="533.0799999999999" stroke="#666" stroke-width="0.5" /><line x1="161.2" y1="530.5699999999999" x2="162.5" y2="530.5699999999999" stroke="#666" stroke-width="0.5" /><line x1="161.2" y1="528.06" x2="162.5" y2="528.06" stroke="#666" stroke-width="0.5" /><line x1="159.8" y1="525.5" x2="162.5" y2="525.5" stroke="#333" stroke-width="0.8" /><text x="156.7" y="527.75" font-size="6.0" text-anchor="end" fill="#333" stroke="#333" stroke-width="0.12" >250K</text><rect x="175.5" y="588.5" width="3" height="2.0" fill="#111"/><line x1="165.5" y1="588.5" x2="165.5" y2="590.7" stroke="#333" stroke-width="0.8" /><line x1="188.5" y1="588.5" x2="188.5" y2="590.7" stroke="#333" stroke-width="0.8" /><line x1="206.5" y1="588.5" x2="206.5" y2="590.7" stroke="#333" stroke-width="0.8" /><line x1="222.5" y1="588.5" x2="222.5" y2="590.7" stroke="#333" stroke-width="0.8" /><line x1="194.06905491978364" y1="588.5" x2="194.06905491978364" y2="589.7" stroke="#555" stroke-width="0.5" /><line x1="197.32674321231374" y1="588.5" x2="197.32674321231374" y2="589.7" stroke="#555" stroke-width="0.5" /><line x1="199.6381098395673" y1="588.5" x2="199.6381098395673" y2="589.7" stroke="#555" stroke-width="0.5" /><line x1="201.43094508021636" y1="588.5" x2="201.43094508021636" y2="589.7" stroke="#555" stroke-width="0.5" /><line x1="202.8957981320974" y1="588.5" x2="202.8957981320974" y2="589.7" stroke="#555" stroke-width="0.5" /><line x1="204.13431374026376" y1="588.5" x2="204.13431374026376" y2="589.7" stroke="#555" stroke-width="0.5" /><line x1="205.20716475935095" y1="588.5" x2="205.20716475935095" y2="589.7" stroke="#555" stroke-width="0.5" /><line x1="206.15348642462752" y1="588.5" x2="206.15348642462752" y2="589.7" stroke="#555" stroke-width="0.5" /><line x1="211.6358619332253" y1="588.5" x2="211.6358619332253" y2="589.7" stroke="#555" stroke-width="0.5" /><line x1="214.3476673226828" y1="588.5" x2="214.3476673226828" y2="589.7" stroke="#555" stroke-width="0.5" /><line x1="216.27172386645063" y1="588.5" x2="216.27172386645063" y2="589.7" stroke="#555" stroke-width="0.5" /><line x1="217.7641380667747" y1="588.5" x2="217.7641380667747" y2="589.7" stroke="#555" stroke-width="0.5" /><line x1="218.9835292559081" y1="588.5" x2="218.9835292559081" y2="589.7" stroke="#555" stroke-width="0.5" /><line x1="220.01450981621957" y1="588.5" x2="220.01450981621957" y2="589.7" stroke="#555" stroke-width="0.5" /><line x1="220.90758579967593" y1="588.5" x2="220.90758579967593" y2="589.7" stroke="#555" stroke-width="0.5" /><line x1="221.69533464536562" y1="588.5" x2="221.69533464536562" y2="589.7" stroke="#555" stroke-width="0.5" /><line x1="168.0" y1="588.5" x2="168.0" y2="589.7" stroke="#555" stroke-width="0.5" /><line x1="170.5" y1="588.5" x2="170.5" y2="589.7" stroke="#555" stroke-width="0.5" /><line x1="173.0" y1="588.5" x2="173.0" y2="589.7" stroke="#555" stroke-width="0.5" /><line x1="180.5" y1="588.5" x2="180.5" y2="589.7" stroke="#555" stroke-width="0.5" /><line x1="183.0" y1="588.5" x2="183.0" y2="589.7" stroke="#555" stroke-width="0.5" /><line x1="185.5" y1="588.5" x2="185.5" y2="589.7" stroke="#555" stroke-width="0.5" /><line x1="224.5" y1="588.5" x2="224.5" y2="589.7" stroke="#555" stroke-width="0.5" /><line x1="227.0" y1="588.5" x2="227.0" y2="589.7" stroke="#555" stroke-width="0.5" /><text x="164.8" y="600.2" font-size="6.2" text-anchor="middle" fill="#333" stroke="#333" stroke-width="0.12" >&#8722;10<tspan font-size="4.4" dy="-2.5">3</tspan></text><text x="177.0" y="600.2" font-size="6.2" text-anchor="middle" fill="#333" stroke="#333" stroke-width="0.12" >0</text><text x="188.8" y="600.2" font-size="6.2" text-anchor="middle" fill="#333" stroke="#333" stroke-width="0.12" >10<tspan font-size="4.4" dy="-2.5">3</tspan></text><text x="206.5" y="600.2" font-size="6.2" text-anchor="middle" fill="#333" stroke="#333" stroke-width="0.12" >10<tspan font-size="4.4" dy="-2.5">4</tspan></text><text x="222.0" y="600.2" font-size="6.2" text-anchor="middle" fill="#333" stroke="#333" stroke-width="0.12" >10<tspan font-size="4.4" dy="-2.5">5</tspan></text><text x="94" y="424.1" font-size="7.9" text-anchor="middle" fill="#c0203c" stroke="#c0203c" stroke-width="0.05" >Mock</text><text x="196.2" y="424.1" font-size="7.9" text-anchor="middle" fill="#8c8cd2" stroke="#8c8cd2" stroke-width="0.05" >Blimp-1 KO</text><text x="232.0" y="466.3" font-size="6.4" fill="#333" stroke="#333" stroke-width="0.12" >CD4<tspan font-size="4.61" dy="-2.30">+</tspan></text><text x="232.0" y="559.6" font-size="6.4" fill="#333" stroke="#333" stroke-width="0.12" >CD8<tspan font-size="4.61" dy="-2.30">+</tspan></text><line x1="33.5" y1="589" x2="33.5" y2="440" stroke="#222" stroke-width="1.1" /><path d="M33.7,433.8 L30.6,440.3 L36.8,440.3 Z" fill="#111"/><text transform="translate(28.4,511) rotate(-90)" font-size="7.0" text-anchor="middle" fill="#2a2a2a" font-weight="bold" textLength="15.8" lengthAdjust="spacingAndGlyphs" >FSC-A</text><line x1="61.2" y1="607.5" x2="219" y2="607.5" stroke="#222" stroke-width="1.1" /><path d="M225.8,608 L218.6,604.9 L218.6,611.1 Z" fill="#111"/><text x="142.9" y="618.7" font-size="7.0" text-anchor="middle" fill="#2a2a2a" font-weight="bold" textLength="20.3" lengthAdjust="spacingAndGlyphs" >IL-2-PE</text><circle cx="119.6" cy="287.3" r="1.65" fill="#701526" stroke="#400612" stroke-width="0.7"/><text x="123.8" y="289.5" font-size="6.2" stroke="#262626" stroke-width="0.12" textLength="14.4" lengthAdjust="spacingAndGlyphs" >Mock</text><circle cx="146.2" cy="287.3" r="1.55" fill="#9e9eb0" stroke="#2e2e40" stroke-width="1.0"/><text x="150.39999999999998" y="289.5" font-size="6.2" stroke="#262626" stroke-width="0.12" textLength="30.2" lengthAdjust="spacingAndGlyphs" >Blimp-1 KO</text><line x1="113.5" y1="295.8" x2="113.5" y2="383.5" stroke="#222" stroke-width="1.1" /><line x1="110.7" y1="296.5" x2="113.3" y2="296.5" stroke="#222" stroke-width="1.0" /><text x="108.3" y="299.2" font-size="6.3" text-anchor="end" fill="#333" stroke="#333" stroke-width="0.12" >25</text><line x1="110.7" y1="314.5" x2="113.3" y2="314.5" stroke="#222" stroke-width="1.0" /><text x="108.3" y="316.5" font-size="6.3" text-anchor="end" fill="#333" stroke="#333" stroke-width="0.12" >20</text><line x1="110.7" y1="331.5" x2="113.3" y2="331.5" stroke="#222" stroke-width="1.0" /><text x="108.3" y="333.7" font-size="6.3" text-anchor="end" fill="#333" stroke="#333" stroke-width="0.12" >15</text><line x1="110.7" y1="348.5" x2="113.3" y2="348.5" stroke="#222" stroke-width="1.0" /><text x="108.3" y="350.90000000000003" font-size="6.3" text-anchor="end" fill="#333" stroke="#333" stroke-width="0.12" >10</text><line x1="110.7" y1="365.5" x2="113.3" y2="365.5" stroke="#222" stroke-width="1.0" /><text x="108.3" y="368.1" font-size="6.3" text-anchor="end" fill="#333" stroke="#333" stroke-width="0.12" >5</text><line x1="110.7" y1="382.5" x2="113.3" y2="382.5" stroke="#222" stroke-width="1.0" /><text x="108.3" y="385.3" font-size="6.3" text-anchor="end" fill="#333" stroke="#333" stroke-width="0.12" >0</text><line x1="113.3" y1="382.5" x2="183" y2="382.5" stroke="#222" stroke-width="1.1" /><line x1="130.5" y1="383.0" x2="130.5" y2="385.3" stroke="#222" stroke-width="0.9" /><line x1="165.5" y1="383.0" x2="165.5" y2="385.3" stroke="#222" stroke-width="0.9" /><text x="129.5" y="394.0" font-size="6.4" text-anchor="middle" fill="#333" stroke="#333" stroke-width="0.12" >CD4<tspan font-size="4.61" dy="-2.30">+</tspan></text><text x="165.0" y="394.0" font-size="6.4" text-anchor="middle" fill="#333" stroke="#333" stroke-width="0.12" >CD8<tspan font-size="4.61" dy="-2.30">+</tspan></text><text transform="translate(93.9,338.7) rotate(-90)" font-size="7.0" text-anchor="middle" fill="#333" stroke="#333" stroke-width="0.3" textLength="64" lengthAdjust="spacingAndGlyphs" >IL-2-producing cells (%)</text><path d="M123.5,340V368.8M121.3,340H125.7M121.3,368.8H125.7" stroke="#606060" stroke-width="0.75" fill="none"/><path d="M118.9,353.5H128.1" stroke="#333" stroke-width="0.95" fill="none"/><circle cx="120.6" cy="338.7" r="1.85" fill="#701526" stroke="#400612" stroke-width="0.7"/><circle cx="126" cy="338.7" r="1.85" fill="#701526" stroke="#400612" stroke-width="0.7"/><circle cx="123.5" cy="358.5" r="1.85" fill="#701526" stroke="#400612" stroke-width="0.7"/><circle cx="123.5" cy="363.7" r="1.85" fill="#701526" stroke="#400612" stroke-width="0.7"/><circle cx="123.5" cy="368.8" r="1.85" fill="#701526" stroke="#400612" stroke-width="0.7"/><path d="M137.9,326.7V356M135.6,326.7H140.20000000000002M135.6,356H140.20000000000002" stroke="#606060" stroke-width="0.75" fill="none"/><path d="M133.1,341.5H142.70000000000002" stroke="#333" stroke-width="0.95" fill="none"/><circle cx="137.9" cy="319.4" r="1.75" fill="#9e9eb0" stroke="#2e2e40" stroke-width="1.0"/><circle cx="137.9" cy="334.2" r="1.75" fill="#9e9eb0" stroke="#2e2e40" stroke-width="1.0"/><circle cx="135.4" cy="348.3" r="1.75" fill="#9e9eb0" stroke="#2e2e40" stroke-width="1.0"/><circle cx="140.4" cy="348.3" r="1.75" fill="#9e9eb0" stroke="#2e2e40" stroke-width="1.0"/><circle cx="137.9" cy="354.6" r="1.75" fill="#9e9eb0" stroke="#2e2e40" stroke-width="1.0"/><path d="M160.2,360.8V375.8M158.0,360.8H162.39999999999998M158.0,375.8H162.39999999999998" stroke="#606060" stroke-width="0.75" fill="none"/><path d="M155.7,368.8H164.7" stroke="#333" stroke-width="0.95" fill="none"/><circle cx="160" cy="357.3" r="1.85" fill="#701526" stroke="#400612" stroke-width="0.7"/><circle cx="160" cy="364.6" r="1.85" fill="#701526" stroke="#400612" stroke-width="0.7"/><circle cx="158.6" cy="370.2" r="1.85" fill="#701526" stroke="#400612" stroke-width="0.7"/><circle cx="157.1" cy="375.6" r="1.85" fill="#701526" stroke="#400612" stroke-width="0.7"/><circle cx="162.3" cy="375.6" r="1.85" fill="#701526" stroke="#400612" stroke-width="0.7"/><path d="M174.2,354.4V377.7M171.89999999999998,354.4H176.5M171.89999999999998,377.7H176.5" stroke="#606060" stroke-width="0.75" fill="none"/><path d="M169.39999999999998,366.2H179.0" stroke="#333" stroke-width="0.95" fill="none"/><circle cx="173.8" cy="346.9" r="1.75" fill="#9e9eb0" stroke="#2e2e40" stroke-width="1.0"/><circle cx="171.5" cy="368.8" r="1.75" fill="#9e9eb0" stroke="#2e2e40" stroke-width="1.0"/><circle cx="171.5" cy="374.8" r="1.75" fill="#9e9eb0" stroke="#2e2e40" stroke-width="1.0"/><circle cx="176.9" cy="374.8" r="1.75" fill="#9e9eb0" stroke="#2e2e40" stroke-width="1.0"/><circle cx="176.7" cy="368.5" r="1.75" fill="#9e9eb0" stroke="#2e2e40" stroke-width="1.0"/><text x="120.6" y="311.1" font-size="6.6" fill="#2e2e2e" stroke="#2e2e2e" stroke-width="0.12" textLength="20.6" lengthAdjust="spacingAndGlyphs"><tspan font-style="italic">P</tspan> = .03</text><line x1="124.4" y1="313.5" x2="137.3" y2="313.5" stroke="#777" stroke-width="0.8" /><text x="156.2" y="339.0" font-size="6.6" fill="#2e2e2e" stroke="#2e2e2e" stroke-width="0.12" textLength="20.5" lengthAdjust="spacingAndGlyphs"><tspan font-style="italic">P</tspan> = .49</text><line x1="160" y1="340.5" x2="173.5" y2="340.5" stroke="#777" stroke-width="0.8" /><text x="406.5" y="366.6" font-size="8.8" fill="#222" stroke="#222" stroke-width="0.12" >CD4<tspan font-size="6.34" dy="-3.17">+</tspan></text><circle cx="418.9" cy="378.8" r="1.65" fill="#701526" stroke="#400612" stroke-width="0.7"/><text x="423" y="381.0" font-size="6.2" stroke="#262626" stroke-width="0.12" textLength="14" lengthAdjust="spacingAndGlyphs" >Mock</text><circle cx="418.9" cy="385.8" r="1.55" fill="#9e9eb0" stroke="#2e2e40" stroke-width="1.0"/><text x="423" y="388.0" font-size="6.2" stroke="#262626" stroke-width="0.12" textLength="30.1" lengthAdjust="spacingAndGlyphs" >Blimp-1 KO</text><line x1="367.5" y1="373.1" x2="367.5" y2="468.0" stroke="#222" stroke-width="1.1" /><line x1="364.7" y1="374.5" x2="367.3" y2="374.5" stroke="#222" stroke-width="1.0" /><text x="361.2" y="377.2" font-size="6.4" text-anchor="end" fill="#333" stroke="#333" stroke-width="0.12" >100</text><line x1="364.7" y1="392.5" x2="367.3" y2="392.5" stroke="#222" stroke-width="1.0" /><text x="361.2" y="395.84" font-size="6.4" text-anchor="end" fill="#333" stroke="#333" stroke-width="0.12" >80</text><line x1="364.7" y1="411.5" x2="367.3" y2="411.5" stroke="#222" stroke-width="1.0" /><text x="361.2" y="414.47999999999996" font-size="6.4" text-anchor="end" fill="#333" stroke="#333" stroke-width="0.12" >60</text><line x1="364.7" y1="430.5" x2="367.3" y2="430.5" stroke="#222" stroke-width="1.0" /><text x="361.2" y="433.12" font-size="6.4" text-anchor="end" fill="#333" stroke="#333" stroke-width="0.12" >40</text><line x1="364.7" y1="448.5" x2="367.3" y2="448.5" stroke="#222" stroke-width="1.0" /><text x="361.2" y="451.76" font-size="6.4" text-anchor="end" fill="#333" stroke="#333" stroke-width="0.12" >20</text><line x1="364.7" y1="467.5" x2="367.3" y2="467.5" stroke="#222" stroke-width="1.0" /><text x="361.2" y="470.4" font-size="6.4" text-anchor="end" fill="#333" stroke="#333" stroke-width="0.12" >0</text><line x1="367.3" y1="467.5" x2="467" y2="467.5" stroke="#222" stroke-width="1.1" /><line x1="379.5" y1="467.5" x2="379.5" y2="469.8" stroke="#222" stroke-width="0.9" /><text x="379.7" y="479.5" font-size="6.4" text-anchor="middle" fill="#333" stroke="#333" stroke-width="0.12" textLength="23.3" lengthAdjust="spacingAndGlyphs" >Negative</text><line x1="404.5" y1="467.5" x2="404.5" y2="469.8" stroke="#222" stroke-width="0.9" /><text x="404.59999999999997" y="479.5" font-size="6.4" text-anchor="middle" fill="#333" stroke="#333" stroke-width="0.12" textLength="16.1" lengthAdjust="spacingAndGlyphs" >Single</text><line x1="429.5" y1="467.5" x2="429.5" y2="469.8" stroke="#222" stroke-width="0.9" /><text x="429.59999999999997" y="479.5" font-size="6.4" text-anchor="middle" fill="#333" stroke="#333" stroke-width="0.12" textLength="19" lengthAdjust="spacingAndGlyphs" >Double</text><line x1="454.5" y1="467.5" x2="454.5" y2="469.8" stroke="#222" stroke-width="0.9" /><text x="454.9" y="479.5" font-size="6.4" text-anchor="middle" fill="#333" stroke="#333" stroke-width="0.12" textLength="14.2" lengthAdjust="spacingAndGlyphs" >Triple</text><text transform="translate(344.2,419.5) rotate(-90)" font-size="7.0" text-anchor="middle" fill="#333" stroke="#333" stroke-width="0.3" textLength="76" lengthAdjust="spacingAndGlyphs" >Cytokine-producing cells (%)</text><path d="M374.1,390.6V407.8M372.3,390.6H375.90000000000003M372.3,407.8H375.90000000000003" stroke="#606060" stroke-width="0.75" fill="none"/><path d="M370.70000000000005,401.1H377.5" stroke="#333" stroke-width="0.95" fill="none"/><circle cx="374.1" cy="387.2" r="1.85" fill="#701526" stroke="#400612" stroke-width="0.7"/><circle cx="374.1" cy="395.1" r="1.85" fill="#701526" stroke="#400612" stroke-width="0.7"/><circle cx="374.1" cy="401.1" r="1.85" fill="#701526" stroke="#400612" stroke-width="0.7"/><circle cx="372.7" cy="409.2" r="1.85" fill="#701526" stroke="#400612" stroke-width="0.7"/><circle cx="375.7" cy="411.3" r="1.85" fill="#701526" stroke="#400612" stroke-width="0.7"/><path d="M384.6,406.4V421.2M382.8,406.4H386.40000000000003M382.8,421.2H386.40000000000003" stroke="#606060" stroke-width="0.75" fill="none"/><path d="M380.70000000000005,414.2H388.5" stroke="#333" stroke-width="0.95" fill="none"/><circle cx="384.6" cy="404.0" r="1.75" fill="#9e9eb0" stroke="#2e2e40" stroke-width="1.0"/><circle cx="382.7" cy="410.7" r="1.75" fill="#9e9eb0" stroke="#2e2e40" stroke-width="1.0"/><circle cx="386.5" cy="414.2" r="1.75" fill="#9e9eb0" stroke="#2e2e40" stroke-width="1.0"/><circle cx="382.7" cy="422.2" r="1.75" fill="#9e9eb0" stroke="#2e2e40" stroke-width="1.0"/><circle cx="386.2" cy="423.1" r="1.75" fill="#9e9eb0" stroke="#2e2e40" stroke-width="1.0"/><path d="M399.4,445.5V456.5M397.59999999999997,445.5H401.2M397.59999999999997,456.5H401.2" stroke="#606060" stroke-width="0.75" fill="none"/><path d="M395.9,450.5H402.9" stroke="#333" stroke-width="0.95" fill="none"/><circle cx="397.7" cy="444.8" r="1.85" fill="#701526" stroke="#400612" stroke-width="0.7"/><circle cx="401.5" cy="445.7" r="1.85" fill="#701526" stroke="#400612" stroke-width="0.7"/><circle cx="397.3" cy="448.9" r="1.85" fill="#701526" stroke="#400612" stroke-width="0.7"/><circle cx="401.2" cy="453.4" r="1.85" fill="#701526" stroke="#400612" stroke-width="0.7"/><circle cx="399.3" cy="458.5" r="1.85" fill="#701526" stroke="#400612" stroke-width="0.7"/><path d="M409.2,438.5V449.0M407.4,438.5H411.0M407.4,449.0H411.0" stroke="#606060" stroke-width="0.75" fill="none"/><path d="M405.7,443.0H412.7" stroke="#333" stroke-width="0.95" fill="none"/><circle cx="407.9" cy="437.4" r="1.75" fill="#9e9eb0" stroke="#2e2e40" stroke-width="1.0"/><circle cx="409.5" cy="440.0" r="1.75" fill="#9e9eb0" stroke="#2e2e40" stroke-width="1.0"/><circle cx="411.1" cy="442.2" r="1.75" fill="#9e9eb0" stroke="#2e2e40" stroke-width="1.0"/><circle cx="408.5" cy="441.3" r="1.75" fill="#9e9eb0" stroke="#2e2e40" stroke-width="1.0"/><circle cx="409.1" cy="449.3" r="1.75" fill="#9e9eb0" stroke="#2e2e40" stroke-width="1.0"/><path d="M424.5,455.5V463.5M422.7,455.5H426.3M422.7,463.5H426.3" stroke="#606060" stroke-width="0.75" fill="none"/><path d="M420.7,459.0H428.3" stroke="#333" stroke-width="0.95" fill="none"/><circle cx="424.1" cy="454.7" r="1.85" fill="#701526" stroke="#400612" stroke-width="0.7"/><circle cx="424.6" cy="455.4" r="1.85" fill="#701526" stroke="#400612" stroke-width="0.7"/><circle cx="423.2" cy="459.8" r="1.85" fill="#701526" stroke="#400612" stroke-width="0.7"/><circle cx="425.1" cy="461.7" r="1.85" fill="#701526" stroke="#400612" stroke-width="0.7"/><circle cx="426.3" cy="463.8" r="1.85" fill="#701526" stroke="#400612" stroke-width="0.7"/><path d="M434.4,450V457M432.59999999999997,450H436.2M432.59999999999997,457H436.2" stroke="#606060" stroke-width="0.75" fill="none"/><path d="M430.79999999999995,453.3H438.0" stroke="#333" stroke-width="0.95" fill="none"/><circle cx="433.8" cy="449.2" r="1.75" fill="#9e9eb0" stroke="#2e2e40" stroke-width="1.0"/><circle cx="434.7" cy="451.8" r="1.75" fill="#9e9eb0" stroke="#2e2e40" stroke-width="1.0"/><circle cx="433.3" cy="455.4" r="1.75" fill="#9e9eb0" stroke="#2e2e40" stroke-width="1.0"/><circle cx="435.7" cy="455.2" r="1.75" fill="#9e9eb0" stroke="#2e2e40" stroke-width="1.0"/><circle cx="434.2" cy="457.6" r="1.75" fill="#9e9eb0" stroke="#2e2e40" stroke-width="1.0"/><line x1="447.2" y1="465.5" x2="453.2" y2="465.5" stroke="#333" stroke-width="1.0" /><circle cx="448.2" cy="464.3" r="1.85" fill="#701526" stroke="#400612" stroke-width="0.7"/><circle cx="450.6" cy="465.8" r="1.85" fill="#701526" stroke="#400612" stroke-width="0.7"/><circle cx="452.0" cy="466.5" r="1.85" fill="#701526" stroke="#400612" stroke-width="0.7"/><line x1="457.0" y1="464.5" x2="463.0" y2="464.5" stroke="#333" stroke-width="1.0" /><circle cx="458.3" cy="463.1" r="1.75" fill="#9e9eb0" stroke="#2e2e40" stroke-width="1.0"/><circle cx="460.2" cy="463.8" r="1.75" fill="#9e9eb0" stroke="#2e2e40" stroke-width="1.0"/><circle cx="461.6" cy="465.3" r="1.75" fill="#9e9eb0" stroke="#2e2e40" stroke-width="1.0"/><text x="369.0" y="380.0" font-size="6.6" fill="#2e2e2e" stroke="#2e2e2e" stroke-width="0.12" textLength="19.4" lengthAdjust="spacingAndGlyphs"><tspan font-style="italic">P</tspan> = .01</text><line x1="375.0" y1="382.5" x2="383.7" y2="382.5" stroke="#777" stroke-width="0.8" /><text x="394.1" y="431.1" font-size="6.6" fill="#2e2e2e" stroke="#2e2e2e" stroke-width="0.12" textLength="19.8" lengthAdjust="spacingAndGlyphs"><tspan font-style="italic">P</tspan> = .04</text><line x1="399.3" y1="433.5" x2="408.5" y2="433.5" stroke="#777" stroke-width="0.8" /><text x="417.9" y="442.7" font-size="6.6" fill="#2e2e2e" stroke="#2e2e2e" stroke-width="0.12" textLength="24" lengthAdjust="spacingAndGlyphs"><tspan font-style="italic">P</tspan> = .008</text><line x1="425.1" y1="445.5" x2="433.8" y2="445.5" stroke="#777" stroke-width="0.8" /><text x="441.2" y="456.6" font-size="6.6" fill="#2e2e2e" stroke="#2e2e2e" stroke-width="0.12" textLength="21.9" lengthAdjust="spacingAndGlyphs"><tspan font-style="italic">P</tspan> &lt; .001</text><line x1="450.1" y1="459.5" x2="456.3" y2="459.5" stroke="#777" stroke-width="0.8" /><text x="406.5" y="503.2" font-size="8.8" fill="#222" stroke="#222" stroke-width="0.12" >CD8<tspan font-size="6.34" dy="-3.17">+</tspan></text><circle cx="418.9" cy="514.9" r="1.65" fill="#701526" stroke="#400612" stroke-width="0.7"/><text x="423" y="517.1" font-size="6.2" stroke="#262626" stroke-width="0.12" textLength="14" lengthAdjust="spacingAndGlyphs" >Mock</text><circle cx="418.9" cy="521.9" r="1.55" fill="#9e9eb0" stroke="#2e2e40" stroke-width="1.0"/><text x="423" y="524.1" font-size="6.2" stroke="#262626" stroke-width="0.12" textLength="30.1" lengthAdjust="spacingAndGlyphs" >Blimp-1 KO</text><line x1="367.5" y1="509.5" x2="367.5" y2="604.4" stroke="#222" stroke-width="1.1" /><line x1="364.7" y1="510.5" x2="367.3" y2="510.5" stroke="#222" stroke-width="1.0" /><text x="361.2" y="513.6" font-size="6.4" text-anchor="end" fill="#333" stroke="#333" stroke-width="0.12" >100</text><line x1="364.7" y1="529.5" x2="367.3" y2="529.5" stroke="#222" stroke-width="1.0" /><text x="361.2" y="532.2399999999999" font-size="6.4" text-anchor="end" fill="#333" stroke="#333" stroke-width="0.12" >80</text><line x1="364.7" y1="547.5" x2="367.3" y2="547.5" stroke="#222" stroke-width="1.0" /><text x="361.2" y="550.88" font-size="6.4" text-anchor="end" fill="#333" stroke="#333" stroke-width="0.12" >60</text><line x1="364.7" y1="566.5" x2="367.3" y2="566.5" stroke="#222" stroke-width="1.0" /><text x="361.2" y="569.52" font-size="6.4" text-anchor="end" fill="#333" stroke="#333" stroke-width="0.12" >40</text><line x1="364.7" y1="585.5" x2="367.3" y2="585.5" stroke="#222" stroke-width="1.0" /><text x="361.2" y="588.16" font-size="6.4" text-anchor="end" fill="#333" stroke="#333" stroke-width="0.12" >20</text><line x1="364.7" y1="603.5" x2="367.3" y2="603.5" stroke="#222" stroke-width="1.0" /><text x="361.2" y="606.8" font-size="6.4" text-anchor="end" fill="#333" stroke="#333" stroke-width="0.12" >0</text><line x1="367.3" y1="603.5" x2="467" y2="603.5" stroke="#222" stroke-width="1.1" /><line x1="379.5" y1="603.9" x2="379.5" y2="606.1999999999999" stroke="#222" stroke-width="0.9" /><text x="379.7" y="615.9" font-size="6.4" text-anchor="middle" fill="#333" stroke="#333" stroke-width="0.12" textLength="23.3" lengthAdjust="spacingAndGlyphs" >Negative</text><line x1="404.5" y1="603.9" x2="404.5" y2="606.1999999999999" stroke="#222" stroke-width="0.9" /><text x="404.59999999999997" y="615.9" font-size="6.4" text-anchor="middle" fill="#333" stroke="#333" stroke-width="0.12" textLength="16.1" lengthAdjust="spacingAndGlyphs" >Single</text><line x1="429.5" y1="603.9" x2="429.5" y2="606.1999999999999" stroke="#222" stroke-width="0.9" /><text x="429.59999999999997" y="615.9" font-size="6.4" text-anchor="middle" fill="#333" stroke="#333" stroke-width="0.12" textLength="19" lengthAdjust="spacingAndGlyphs" >Double</text><line x1="454.5" y1="603.9" x2="454.5" y2="606.1999999999999" stroke="#222" stroke-width="0.9" /><text x="454.9" y="615.9" font-size="6.4" text-anchor="middle" fill="#333" stroke="#333" stroke-width="0.12" textLength="14.2" lengthAdjust="spacingAndGlyphs" >Triple</text><text transform="translate(344.2,560.0) rotate(-90)" font-size="7.0" text-anchor="middle" fill="#333" stroke="#333" stroke-width="0.3" textLength="76" lengthAdjust="spacingAndGlyphs" >Cytokine-producing cells (%)</text><path d="M373.8,529.0V547.5M372.0,529.0H375.6M372.0,547.5H375.6" stroke="#606060" stroke-width="0.75" fill="none"/><path d="M370.0,535.9H377.6" stroke="#333" stroke-width="0.95" fill="none"/><circle cx="373.8" cy="524.2" r="1.85" fill="#701526" stroke="#400612" stroke-width="0.7"/><circle cx="372.3" cy="529.4" r="1.85" fill="#701526" stroke="#400612" stroke-width="0.7"/><circle cx="375.4" cy="532.2" r="1.85" fill="#701526" stroke="#400612" stroke-width="0.7"/><circle cx="372.3" cy="544.9" r="1.85" fill="#701526" stroke="#400612" stroke-width="0.7"/><circle cx="375.4" cy="549.0" r="1.85" fill="#701526" stroke="#400612" stroke-width="0.7"/><path d="M383.7,532.5V560.4M381.9,532.5H385.5M381.9,560.4H385.5" stroke="#606060" stroke-width="0.75" fill="none"/><path d="M379.5,546.5H387.9" stroke="#333" stroke-width="0.95" fill="none"/><circle cx="382.1" cy="536.1" r="1.75" fill="#9e9eb0" stroke="#2e2e40" stroke-width="1.0"/><circle cx="385.2" cy="539.0" r="1.75" fill="#9e9eb0" stroke="#2e2e40" stroke-width="1.0"/><circle cx="383.7" cy="552.2" r="1.75" fill="#9e9eb0" stroke="#2e2e40" stroke-width="1.0"/><circle cx="383.7" cy="567.7" r="1.75" fill="#9e9eb0" stroke="#2e2e40" stroke-width="1.0"/><path d="M399.0,584.0V593.0M397.2,584.0H400.8M397.2,593.0H400.8" stroke="#606060" stroke-width="0.75" fill="none"/><path d="M395.8,588.6H402.2" stroke="#333" stroke-width="0.95" fill="none"/><circle cx="399.3" cy="581.9" r="1.85" fill="#701526" stroke="#400612" stroke-width="0.7"/><circle cx="397.3" cy="584.8" r="1.85" fill="#701526" stroke="#400612" stroke-width="0.7"/><circle cx="400.5" cy="588.3" r="1.85" fill="#701526" stroke="#400612" stroke-width="0.7"/><circle cx="397.3" cy="592.1" r="1.85" fill="#701526" stroke="#400612" stroke-width="0.7"/><circle cx="400.5" cy="594.7" r="1.85" fill="#701526" stroke="#400612" stroke-width="0.7"/><path d="M409.3,582.5V590.0M407.5,582.5H411.1M407.5,590.0H411.1" stroke="#606060" stroke-width="0.75" fill="none"/><path d="M406.1,586.1H412.5" stroke="#333" stroke-width="0.95" fill="none"/><circle cx="407.2" cy="581.5" r="1.75" fill="#9e9eb0" stroke="#2e2e40" stroke-width="1.0"/><circle cx="409.8" cy="583.2" r="1.75" fill="#9e9eb0" stroke="#2e2e40" stroke-width="1.0"/><circle cx="411.4" cy="585.4" r="1.75" fill="#9e9eb0" stroke="#2e2e40" stroke-width="1.0"/><circle cx="407.9" cy="586.1" r="1.75" fill="#9e9eb0" stroke="#2e2e40" stroke-width="1.0"/><circle cx="409.8" cy="590.2" r="1.75" fill="#9e9eb0" stroke="#2e2e40" stroke-width="1.0"/><path d="M424.5,591.5V600.0M422.7,591.5H426.3M422.7,600.0H426.3" stroke="#606060" stroke-width="0.75" fill="none"/><path d="M421.2,596.5H427.8" stroke="#333" stroke-width="0.95" fill="none"/><circle cx="423.5" cy="590.7" r="1.85" fill="#701526" stroke="#400612" stroke-width="0.7"/><circle cx="425.1" cy="591.7" r="1.85" fill="#701526" stroke="#400612" stroke-width="0.7"/><circle cx="422.9" cy="597.6" r="1.85" fill="#701526" stroke="#400612" stroke-width="0.7"/><circle cx="425.1" cy="599.2" r="1.85" fill="#701526" stroke="#400612" stroke-width="0.7"/><circle cx="426.1" cy="600.2" r="1.85" fill="#701526" stroke="#400612" stroke-width="0.7"/><path d="M434.6,580.1V596.0M432.8,580.1H436.40000000000003M432.8,596.0H436.40000000000003" stroke="#606060" stroke-width="0.75" fill="none"/><path d="M431.40000000000003,589.1H437.8" stroke="#333" stroke-width="0.95" fill="none"/><circle cx="434.0" cy="575.3" r="1.75" fill="#9e9eb0" stroke="#2e2e40" stroke-width="1.0"/><circle cx="434.0" cy="585.9" r="1.75" fill="#9e9eb0" stroke="#2e2e40" stroke-width="1.0"/><circle cx="432.8" cy="592.8" r="1.75" fill="#9e9eb0" stroke="#2e2e40" stroke-width="1.0"/><circle cx="435.6" cy="594.4" r="1.75" fill="#9e9eb0" stroke="#2e2e40" stroke-width="1.0"/><circle cx="434.6" cy="596.5" r="1.75" fill="#9e9eb0" stroke="#2e2e40" stroke-width="1.0"/><line x1="447.5" y1="602.5" x2="452.5" y2="602.5" stroke="#333" stroke-width="1.0" /><circle cx="448.3" cy="601.3" r="1.85" fill="#701526" stroke="#400612" stroke-width="0.7"/><circle cx="450.4" cy="602.9" r="1.85" fill="#701526" stroke="#400612" stroke-width="0.7"/><circle cx="452.0" cy="603.4" r="1.85" fill="#701526" stroke="#400612" stroke-width="0.7"/><line x1="456.8" y1="600.5" x2="461.8" y2="600.5" stroke="#333" stroke-width="1.0" /><circle cx="459.4" cy="597.6" r="1.75" fill="#9e9eb0" stroke="#2e2e40" stroke-width="1.0"/><circle cx="457.9" cy="601.8" r="1.75" fill="#9e9eb0" stroke="#2e2e40" stroke-width="1.0"/><circle cx="460.5" cy="602.3" r="1.75" fill="#9e9eb0" stroke="#2e2e40" stroke-width="1.0"/><circle cx="458.9" cy="602.9" r="1.75" fill="#9e9eb0" stroke="#2e2e40" stroke-width="1.0"/><text x="368.6" y="516.4" font-size="6.6" fill="#2e2e2e" stroke="#2e2e2e" stroke-width="0.12" textLength="19.7" lengthAdjust="spacingAndGlyphs"><tspan font-style="italic">P</tspan> = .01</text><line x1="374.3" y1="518.5" x2="383.7" y2="518.5" stroke="#777" stroke-width="0.8" /><text x="393.5" y="574.6" font-size="6.6" fill="#2e2e2e" stroke="#2e2e2e" stroke-width="0.12" textLength="20.8" lengthAdjust="spacingAndGlyphs"><tspan font-style="italic">P</tspan> = .14</text><line x1="398.9" y1="576.5" x2="408.2" y2="576.5" stroke="#777" stroke-width="0.8" /><text x="419.2" y="567.9" font-size="6.6" fill="#2e2e2e" stroke="#2e2e2e" stroke-width="0.12" textLength="20.7" lengthAdjust="spacingAndGlyphs"><tspan font-style="italic">P</tspan> = .02</text><line x1="425.0" y1="570.5" x2="433.5" y2="570.5" stroke="#777" stroke-width="0.8" /><text x="444.6" y="591.2" font-size="6.6" fill="#2e2e2e" stroke="#2e2e2e" stroke-width="0.12" textLength="20.1" lengthAdjust="spacingAndGlyphs"><tspan font-style="italic">P</tspan> = .26</text><line x1="449.9" y1="593.5" x2="458.4" y2="593.5" stroke="#777" stroke-width="0.8" />
</svg>
</body></html>
